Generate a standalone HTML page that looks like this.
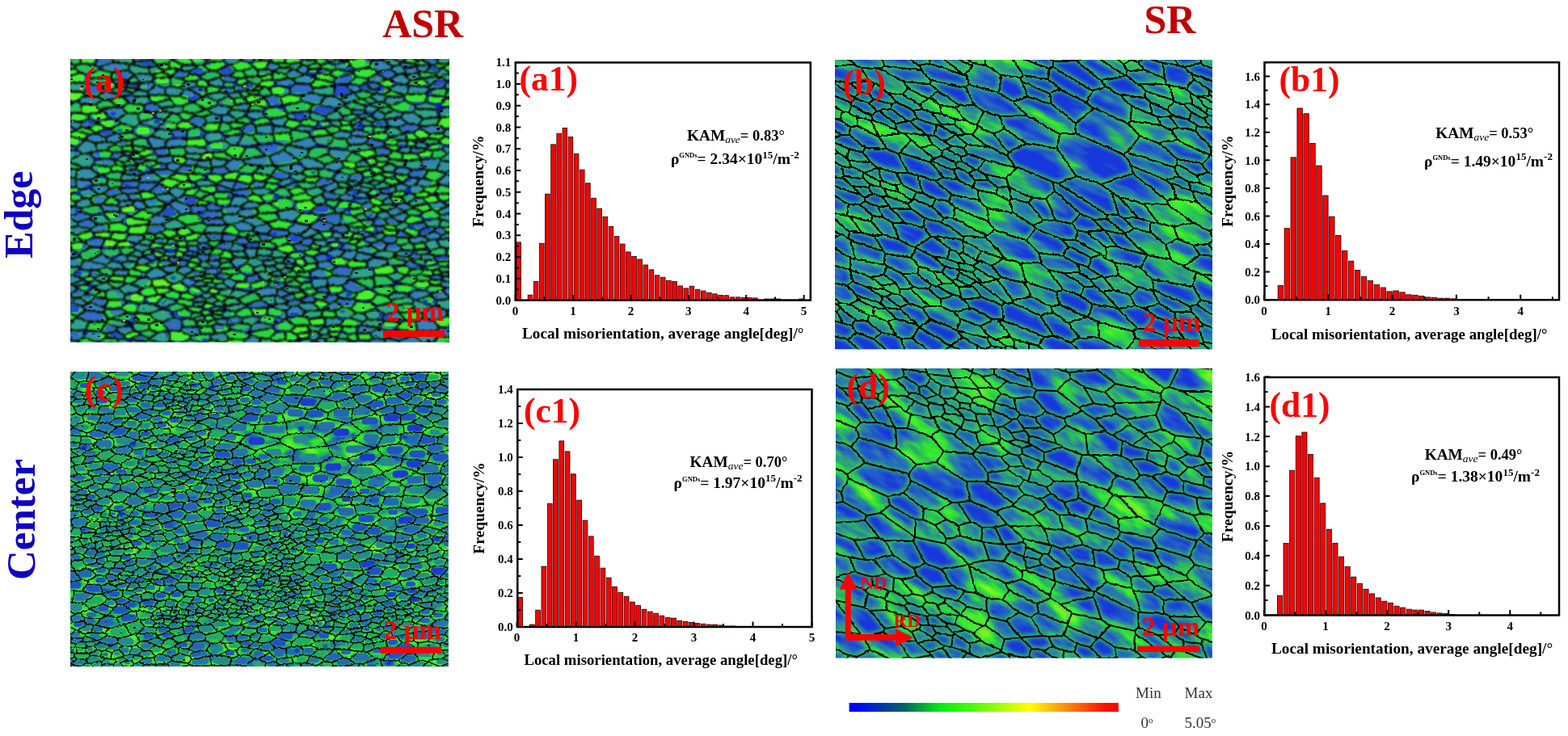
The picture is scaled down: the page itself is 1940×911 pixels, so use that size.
<!DOCTYPE html>
<html><head><meta charset="utf-8"><title>KAM maps</title>
<style>html,body{margin:0;padding:0;background:#fff;}body{width:1940px;height:911px;overflow:hidden;}svg{display:block;}</style>
</head><body>
<svg width="1940" height="911" viewBox="0 0 1940 911"><g fill="#ff0000" stroke="#1a0000" stroke-width="0.8"><rect x="638.9" y="299.86" width="5.64" height="71.74"/><rect x="653.18" y="365.18" width="5.64" height="6.42"/><rect x="660.32" y="348.31" width="5.64" height="23.29"/><rect x="667.46" y="301.19" width="5.64" height="70.41"/><rect x="674.6" y="240.16" width="5.64" height="131.44"/><rect x="681.74" y="178.86" width="5.64" height="192.74"/><rect x="688.88" y="165.2" width="5.64" height="206.4"/><rect x="696.02" y="158.51" width="5.64" height="213.09"/><rect x="703.16" y="169.49" width="5.64" height="202.11"/><rect x="710.3" y="190.37" width="5.64" height="181.23"/><rect x="717.44" y="210.18" width="5.64" height="161.42"/><rect x="724.58" y="226.77" width="5.64" height="144.83"/><rect x="731.72" y="245.25" width="5.64" height="126.35"/><rect x="738.86" y="258.1" width="5.64" height="113.5"/><rect x="746" y="268.27" width="5.64" height="103.33"/><rect x="753.14" y="280.31" width="5.64" height="91.29"/><rect x="760.28" y="292.63" width="5.64" height="78.97"/><rect x="767.42" y="302" width="5.64" height="69.6"/><rect x="774.56" y="311.9" width="5.64" height="59.7"/><rect x="781.7" y="317.52" width="5.64" height="54.08"/><rect x="788.84" y="321" width="5.64" height="50.6"/><rect x="795.98" y="327.96" width="5.64" height="43.64"/><rect x="803.12" y="333.85" width="5.64" height="37.75"/><rect x="810.26" y="340.81" width="5.64" height="30.79"/><rect x="817.4" y="343.22" width="5.64" height="28.38"/><rect x="824.54" y="347.24" width="5.64" height="24.36"/><rect x="831.68" y="348.31" width="5.64" height="23.29"/><rect x="838.82" y="353.93" width="5.64" height="17.67"/><rect x="845.96" y="356.88" width="5.64" height="14.72"/><rect x="853.1" y="354.2" width="5.64" height="17.4"/><rect x="860.24" y="358.22" width="5.64" height="13.38"/><rect x="867.38" y="360.09" width="5.64" height="11.51"/><rect x="874.52" y="362.23" width="5.64" height="9.37"/><rect x="881.66" y="363.84" width="5.64" height="7.76"/><rect x="888.8" y="365.44" width="5.64" height="6.16"/><rect x="895.94" y="365.71" width="5.64" height="5.89"/><rect x="903.08" y="367.85" width="5.64" height="3.75"/><rect x="910.22" y="367.85" width="5.64" height="3.75"/><rect x="917.36" y="368.39" width="5.64" height="3.21"/><rect x="924.5" y="368.39" width="5.64" height="3.21"/><rect x="931.64" y="368.92" width="5.64" height="2.68"/><rect x="938.78" y="371.06" width="5.64" height="0.54"/><rect x="945.92" y="369.99" width="5.64" height="1.61"/><rect x="953.06" y="369.99" width="5.64" height="1.61"/><rect x="960.2" y="369.99" width="5.64" height="1.61"/><rect x="967.34" y="371.06" width="5.64" height="0.54"/><rect x="974.48" y="371.06" width="5.64" height="0.54"/><rect x="981.62" y="371.06" width="5.64" height="0.54"/><rect x="988.76" y="369.99" width="5.64" height="1.61"/></g>
<path d="M637.8 371.6h6.5M637.8 358.22h4M637.8 344.83h6.5M637.8 331.45h4M637.8 318.06h6.5M637.8 304.68h4M637.8 291.29h6.5M637.8 277.91h4M637.8 264.52h6.5M637.8 251.14h4M637.8 237.75h6.5M637.8 224.37h4M637.8 210.98h6.5M637.8 197.6h4M637.8 184.21h6.5M637.8 170.83h4M637.8 157.44h6.5M637.8 144.06h4M637.8 130.67h6.5M637.8 117.29h4M637.8 103.9h6.5M637.8 90.52h4M637.8 77.13h6.5M637.6 371.6v-6.5M673.3 371.6v-4M709 371.6v-6.5M744.7 371.6v-4M780.4 371.6v-6.5M816.1 371.6v-4M851.8 371.6v-6.5M887.5 371.6v-4M923.2 371.6v-6.5M958.9 371.6v-4M994.6 371.6v-6.5" stroke="#000" stroke-width="2" fill="none"/>
<rect x="637.8" y="77.4" width="365" height="294.2" fill="none" stroke="#000" stroke-width="2.5"/>
<g font-family="'Liberation Serif','Times New Roman',serif" font-weight="bold" font-size="15" text-anchor="end"><text x="632.3" y="376.8">0.0</text><text x="632.3" y="350.03">0.1</text><text x="632.3" y="323.26">0.2</text><text x="632.3" y="296.49">0.3</text><text x="632.3" y="269.72">0.4</text><text x="632.3" y="242.95">0.5</text><text x="632.3" y="216.18">0.6</text><text x="632.3" y="189.41">0.7</text><text x="632.3" y="162.64">0.8</text><text x="632.3" y="135.87">0.9</text><text x="632.3" y="109.1">1.0</text><text x="632.3" y="82.33">1.1</text></g>
<g font-family="'Liberation Serif','Times New Roman',serif" font-weight="bold" font-size="15" text-anchor="middle"><text x="637.6" y="389.9">0</text><text x="709" y="389.9">1</text><text x="780.4" y="389.9">2</text><text x="851.8" y="389.9">3</text><text x="923.2" y="389.9">4</text><text x="994.6" y="389.9">5</text></g>
<text x="646" y="419.2" font-family="'Liberation Serif','Times New Roman',serif" font-weight="bold" font-size="19" textLength="348.5" lengthAdjust="spacingAndGlyphs">Local misorientation, average angle[deg]/°</text>
<text transform="translate(598 224.3) rotate(-90)" text-anchor="middle" font-family="'Liberation Serif','Times New Roman',serif" font-weight="bold" font-size="19.5">Frequency/%</text>
<text x="642.5" y="112" font-family="'Liberation Serif','Times New Roman',serif" font-weight="bold" font-size="43.5" fill="#ff0000">(a1)</text>
<text x="850" y="173.9" font-family="'Liberation Serif','Times New Roman',serif" font-weight="bold" font-size="19.3">KAM<tspan font-size="13.5" font-style="italic" font-weight="normal" dy="3.5">ave</tspan><tspan dy="-3.5" font-size="18.5">= 0.83°</tspan></text>
<text x="829.9" y="203.1" font-family="'Liberation Serif','Times New Roman',serif" font-weight="bold" font-size="19.5">ρ<tspan font-size="8.5" dy="-8">GNDs</tspan><tspan dy="8">= 2.34×10</tspan><tspan font-size="13" dy="-7.5">15</tspan><tspan dy="7.5">/m</tspan><tspan font-size="13" dy="-7.5">-2</tspan></text>
<g fill="#ff0000" stroke="#1a0000" stroke-width="0.8"><rect x="1581.16" y="353.39" width="6.43" height="17.81"/><rect x="1589.09" y="282.68" width="6.43" height="88.52"/><rect x="1597.02" y="194.84" width="6.43" height="176.36"/><rect x="1604.95" y="133.98" width="6.43" height="237.22"/><rect x="1612.88" y="140.72" width="6.43" height="230.48"/><rect x="1620.81" y="177.55" width="6.43" height="193.65"/><rect x="1628.74" y="205.04" width="6.43" height="166.16"/><rect x="1636.67" y="242.04" width="6.43" height="129.16"/><rect x="1644.6" y="268.15" width="6.43" height="103.05"/><rect x="1652.53" y="291.49" width="6.43" height="79.71"/><rect x="1660.46" y="310.34" width="6.43" height="60.86"/><rect x="1668.39" y="323.13" width="6.43" height="48.07"/><rect x="1676.32" y="334.37" width="6.43" height="36.83"/><rect x="1684.25" y="342.33" width="6.43" height="28.87"/><rect x="1692.18" y="347.51" width="6.43" height="23.69"/><rect x="1700.11" y="352.35" width="6.43" height="18.85"/><rect x="1708.04" y="355.98" width="6.43" height="15.22"/><rect x="1715.97" y="360.83" width="6.43" height="10.37"/><rect x="1723.9" y="359.96" width="6.43" height="11.24"/><rect x="1731.83" y="361.86" width="6.43" height="9.34"/><rect x="1739.76" y="364.8" width="6.43" height="6.4"/><rect x="1747.69" y="365.32" width="6.43" height="5.88"/><rect x="1755.62" y="366.36" width="6.43" height="4.84"/><rect x="1763.55" y="367.91" width="6.43" height="3.29"/><rect x="1771.48" y="368.26" width="6.43" height="2.94"/><rect x="1779.41" y="369.13" width="6.43" height="2.07"/><rect x="1787.34" y="369.13" width="6.43" height="2.07"/><rect x="1795.27" y="369.82" width="6.43" height="1.38"/><rect x="1803.2" y="370.68" width="6.43" height="0.52"/><rect x="1811.13" y="370.85" width="6.43" height="0.35"/></g>
<path d="M1564.5 371.2h6.5M1564.5 353.91h4M1564.5 336.62h6.5M1564.5 319.33h4M1564.5 302.04h6.5M1564.5 284.75h4M1564.5 267.46h6.5M1564.5 250.17h4M1564.5 232.88h6.5M1564.5 215.59h4M1564.5 198.3h6.5M1564.5 181.01h4M1564.5 163.72h6.5M1564.5 146.43h4M1564.5 129.14h6.5M1564.5 111.85h4M1564.5 94.56h6.5M1564.5 77.27h4M1564 371.2v-6.5M1603.65 371.2v-4M1643.3 371.2v-6.5M1682.95 371.2v-4M1722.6 371.2v-6.5M1762.25 371.2v-4M1801.9 371.2v-6.5M1841.55 371.2v-4M1881.2 371.2v-6.5M1920.85 371.2v-4" stroke="#000" stroke-width="2" fill="none"/>
<rect x="1564.5" y="77.2" width="364.5" height="294" fill="none" stroke="#000" stroke-width="2.5"/>
<g font-family="'Liberation Serif','Times New Roman',serif" font-weight="bold" font-size="15" text-anchor="end"><text x="1559" y="376.4">0.0</text><text x="1559" y="341.82">0.2</text><text x="1559" y="307.24">0.4</text><text x="1559" y="272.66">0.6</text><text x="1559" y="238.08">0.8</text><text x="1559" y="203.5">1.0</text><text x="1559" y="168.92">1.2</text><text x="1559" y="134.34">1.4</text><text x="1559" y="99.76">1.6</text></g>
<g font-family="'Liberation Serif','Times New Roman',serif" font-weight="bold" font-size="15" text-anchor="middle"><text x="1564" y="389.5">0</text><text x="1643.3" y="389.5">1</text><text x="1722.6" y="389.5">2</text><text x="1801.9" y="389.5">3</text><text x="1881.2" y="389.5">4</text></g>
<text x="1573" y="419.6" font-family="'Liberation Serif','Times New Roman',serif" font-weight="bold" font-size="19" textLength="341.5" lengthAdjust="spacingAndGlyphs">Local misorientation, average angle[deg]/°</text>
<text transform="translate(1524.5 224.2) rotate(-90)" text-anchor="middle" font-family="'Liberation Serif','Times New Roman',serif" font-weight="bold" font-size="19.5">Frequency/%</text>
<text x="1582.5" y="112.5" font-family="'Liberation Serif','Times New Roman',serif" font-weight="bold" font-size="43.5" fill="#ff0000">(b1)</text>
<text x="1776.3" y="170.5" font-family="'Liberation Serif','Times New Roman',serif" font-weight="bold" font-size="19.3">KAM<tspan font-size="13.5" font-style="italic" font-weight="normal" dy="3.5">ave</tspan><tspan dy="-3.5" font-size="18.5">= 0.53°</tspan></text>
<text x="1762" y="205.5" font-family="'Liberation Serif','Times New Roman',serif" font-weight="bold" font-size="19.5">ρ<tspan font-size="8.5" dy="-8">GNDs</tspan><tspan dy="8">= 1.49×10</tspan><tspan font-size="13" dy="-7.5">15</tspan><tspan dy="7.5">/m</tspan><tspan font-size="13" dy="-7.5">-2</tspan></text>
<g fill="#ff0000" stroke="#1a0000" stroke-width="0.8"><rect x="640.8" y="739.25" width="5.8" height="36.75"/><rect x="655.4" y="773.06" width="5.8" height="2.94"/><rect x="662.7" y="755.21" width="5.8" height="20.79"/><rect x="670" y="701.03" width="5.8" height="74.97"/><rect x="677.3" y="623.33" width="5.8" height="152.67"/><rect x="684.6" y="568.73" width="5.8" height="207.27"/><rect x="691.9" y="545.84" width="5.8" height="230.16"/><rect x="699.2" y="558.86" width="5.8" height="217.14"/><rect x="706.5" y="586.79" width="5.8" height="189.21"/><rect x="713.8" y="619.13" width="5.8" height="156.87"/><rect x="721.1" y="644.12" width="5.8" height="131.88"/><rect x="728.4" y="663.86" width="5.8" height="112.14"/><rect x="735.7" y="688.22" width="5.8" height="87.78"/><rect x="743" y="703.13" width="5.8" height="72.87"/><rect x="750.3" y="715.1" width="5.8" height="60.9"/><rect x="757.6" y="726.23" width="5.8" height="49.77"/><rect x="764.9" y="733.37" width="5.8" height="42.63"/><rect x="772.2" y="738.2" width="5.8" height="37.8"/><rect x="779.5" y="745.13" width="5.8" height="30.87"/><rect x="786.8" y="749.54" width="5.8" height="26.46"/><rect x="794.1" y="754.16" width="5.8" height="21.84"/><rect x="801.4" y="757.1" width="5.8" height="18.9"/><rect x="808.7" y="759.2" width="5.8" height="16.8"/><rect x="816" y="762.14" width="5.8" height="13.86"/><rect x="823.3" y="764.45" width="5.8" height="11.55"/><rect x="830.6" y="765.08" width="5.8" height="10.92"/><rect x="837.9" y="768.23" width="5.8" height="7.77"/><rect x="845.2" y="769.28" width="5.8" height="6.72"/><rect x="852.5" y="770.33" width="5.8" height="5.67"/><rect x="859.8" y="771.38" width="5.8" height="4.62"/><rect x="867.1" y="772.22" width="5.8" height="3.78"/><rect x="874.4" y="773.06" width="5.8" height="2.94"/><rect x="881.7" y="773.06" width="5.8" height="2.94"/><rect x="889" y="773.9" width="5.8" height="2.1"/><rect x="896.3" y="774.95" width="5.8" height="1.05"/><rect x="903.6" y="774.95" width="5.8" height="1.05"/><rect x="910.9" y="775.58" width="5.8" height="0.42"/></g>
<path d="M640.3 776h6.5M640.3 755h4M640.3 734h6.5M640.3 713h4M640.3 692h6.5M640.3 671h4M640.3 650h6.5M640.3 629h4M640.3 608h6.5M640.3 587h4M640.3 566h6.5M640.3 545h4M640.3 524h6.5M640.3 503h4M640.3 482h6.5M639.5 776v-6.5M676 776v-4M712.5 776v-6.5M749 776v-4M785.5 776v-6.5M822 776v-4M858.5 776v-6.5M895 776v-4M931.5 776v-6.5M968 776v-4M1004.5 776v-6.5" stroke="#000" stroke-width="2" fill="none"/>
<rect x="640.3" y="482" width="364.2" height="294" fill="none" stroke="#000" stroke-width="2.5"/>
<g font-family="'Liberation Serif','Times New Roman',serif" font-weight="bold" font-size="15" text-anchor="end"><text x="634.8" y="781.2">0.0</text><text x="634.8" y="739.2">0.2</text><text x="634.8" y="697.2">0.4</text><text x="634.8" y="655.2">0.6</text><text x="634.8" y="613.2">0.8</text><text x="634.8" y="571.2">1.0</text><text x="634.8" y="529.2">1.2</text><text x="634.8" y="487.2">1.4</text></g>
<g font-family="'Liberation Serif','Times New Roman',serif" font-weight="bold" font-size="15" text-anchor="middle"><text x="639.5" y="794.3">0</text><text x="712.5" y="794.3">1</text><text x="785.5" y="794.3">2</text><text x="858.5" y="794.3">3</text><text x="931.5" y="794.3">4</text><text x="1004.5" y="794.3">5</text></g>
<text x="648.4" y="822.8" font-family="'Liberation Serif','Times New Roman',serif" font-weight="bold" font-size="19" textLength="338.6" lengthAdjust="spacingAndGlyphs">Local misorientation, average angle[deg]/°</text>
<text transform="translate(599 629) rotate(-90)" text-anchor="middle" font-family="'Liberation Serif','Times New Roman',serif" font-weight="bold" font-size="19.5">Frequency/%</text>
<text x="648" y="523" font-family="'Liberation Serif','Times New Roman',serif" font-weight="bold" font-size="43.5" fill="#ff0000">(c1)</text>
<text x="853.6" y="577.6" font-family="'Liberation Serif','Times New Roman',serif" font-weight="bold" font-size="19.3">KAM<tspan font-size="13.5" font-style="italic" font-weight="normal" dy="3.5">ave</tspan><tspan dy="-3.5" font-size="18.5">= 0.70°</tspan></text>
<text x="833.6" y="603.9" font-family="'Liberation Serif','Times New Roman',serif" font-weight="bold" font-size="19.5">ρ<tspan font-size="8.5" dy="-8">GNDs</tspan><tspan dy="8">= 1.97×10</tspan><tspan font-size="13" dy="-7.5">15</tspan><tspan dy="7.5">/m</tspan><tspan font-size="13" dy="-7.5">-2</tspan></text>
<g fill="#ff0000" stroke="#1a0000" stroke-width="0.8"><rect x="1572.81" y="760.95" width="6.11" height="0.55"/><rect x="1580.42" y="737.17" width="6.11" height="24.33"/><rect x="1588.03" y="672.48" width="6.11" height="89.02"/><rect x="1595.64" y="582.18" width="6.11" height="179.32"/><rect x="1603.25" y="539.79" width="6.11" height="221.71"/><rect x="1610.86" y="535" width="6.11" height="226.5"/><rect x="1618.47" y="562.46" width="6.11" height="199.04"/><rect x="1626.08" y="591.39" width="6.11" height="170.11"/><rect x="1633.69" y="622.91" width="6.11" height="138.59"/><rect x="1641.3" y="655.16" width="6.11" height="106.34"/><rect x="1648.91" y="672.3" width="6.11" height="89.2"/><rect x="1656.52" y="689.07" width="6.11" height="72.43"/><rect x="1664.13" y="701.42" width="6.11" height="60.08"/><rect x="1671.74" y="714.13" width="6.11" height="47.37"/><rect x="1679.35" y="722.24" width="6.11" height="39.26"/><rect x="1686.96" y="729.25" width="6.11" height="32.25"/><rect x="1694.57" y="734.96" width="6.11" height="26.54"/><rect x="1702.18" y="739.94" width="6.11" height="21.56"/><rect x="1709.79" y="744.18" width="6.11" height="17.32"/><rect x="1717.4" y="746.2" width="6.11" height="15.3"/><rect x="1725.01" y="750.26" width="6.11" height="11.24"/><rect x="1732.62" y="752.1" width="6.11" height="9.4"/><rect x="1740.23" y="754.13" width="6.11" height="7.37"/><rect x="1747.84" y="755.05" width="6.11" height="6.45"/><rect x="1755.45" y="755.05" width="6.11" height="6.45"/><rect x="1763.06" y="756.52" width="6.11" height="4.98"/><rect x="1770.67" y="758" width="6.11" height="3.5"/><rect x="1778.28" y="758.92" width="6.11" height="2.58"/><rect x="1785.89" y="759.47" width="6.11" height="2.03"/><rect x="1793.5" y="760.58" width="6.11" height="0.92"/></g>
<path d="M1564.5 761.5h6.5M1564.5 743.07h4M1564.5 724.64h6.5M1564.5 706.21h4M1564.5 687.78h6.5M1564.5 669.35h4M1564.5 650.92h6.5M1564.5 632.49h4M1564.5 614.06h6.5M1564.5 595.63h4M1564.5 577.2h6.5M1564.5 558.77h4M1564.5 540.34h6.5M1564.5 521.91h4M1564.5 503.48h6.5M1564.5 485.05h4M1564.5 466.62h6.5M1563.9 761.5v-6.5M1601.95 761.5v-4M1640 761.5v-6.5M1678.05 761.5v-4M1716.1 761.5v-6.5M1754.15 761.5v-4M1792.2 761.5v-6.5M1830.25 761.5v-4M1868.3 761.5v-6.5M1906.35 761.5v-4" stroke="#000" stroke-width="2" fill="none"/>
<rect x="1564.5" y="467" width="364.5" height="294.5" fill="none" stroke="#000" stroke-width="2.5"/>
<g font-family="'Liberation Serif','Times New Roman',serif" font-weight="bold" font-size="15" text-anchor="end"><text x="1559" y="766.7">0.0</text><text x="1559" y="729.84">0.2</text><text x="1559" y="692.98">0.4</text><text x="1559" y="656.12">0.6</text><text x="1559" y="619.26">0.8</text><text x="1559" y="582.4">1.0</text><text x="1559" y="545.54">1.2</text><text x="1559" y="508.68">1.4</text><text x="1559" y="471.82">1.6</text></g>
<g font-family="'Liberation Serif','Times New Roman',serif" font-weight="bold" font-size="15" text-anchor="middle"><text x="1563.9" y="779.8">0</text><text x="1640" y="779.8">1</text><text x="1716.1" y="779.8">2</text><text x="1792.2" y="779.8">3</text><text x="1868.3" y="779.8">4</text></g>
<text x="1573" y="808.6" font-family="'Liberation Serif','Times New Roman',serif" font-weight="bold" font-size="19" textLength="348.2" lengthAdjust="spacingAndGlyphs">Local misorientation, average angle[deg]/°</text>
<text transform="translate(1525 614.5) rotate(-90)" text-anchor="middle" font-family="'Liberation Serif','Times New Roman',serif" font-weight="bold" font-size="19.5">Frequency/%</text>
<text x="1570.5" y="516" font-family="'Liberation Serif','Times New Roman',serif" font-weight="bold" font-size="43.5" fill="#ff0000">(d1)</text>
<text x="1762.7" y="568.8" font-family="'Liberation Serif','Times New Roman',serif" font-weight="bold" font-size="19.3">KAM<tspan font-size="13.5" font-style="italic" font-weight="normal" dy="3.5">ave</tspan><tspan dy="-3.5" font-size="18.5">= 0.49°</tspan></text>
<text x="1746" y="596.2" font-family="'Liberation Serif','Times New Roman',serif" font-weight="bold" font-size="19.5">ρ<tspan font-size="8.5" dy="-8">GNDs</tspan><tspan dy="8">= 1.38×10</tspan><tspan font-size="13" dy="-7.5">15</tspan><tspan dy="7.5">/m</tspan><tspan font-size="13" dy="-7.5">-2</tspan></text>
<defs><clipPath id="clipa"><rect x="87" y="73" width="469.0" height="350.5"/></clipPath><path id="ea" d="M84 85l8-1 6 5-14 5M84 77l9 3-1 4M107 92l16-7 15 4-1 7-26 0-4-4-9-3M138 89l20-3 1-7-18-3-19 6 1 3M93 80l7-2 17 2 5 2M120 70l-3 10M141 76l-5-6M187 73l2-3M187 73l-22 3-3-6M162 79l3-3M162 79l-3 0M182 83l-20-4M182 83l11-2 1-1-7-7M256 77l0-3 4-4M256 77l20-2 2-5M84 71l6-1M100 78l-2-8M208 77l2 7 12 2 4-6-14-7-4 4-14 3M202 87l-9-6M202 87l8-3M208 70l6 2-2 1M234 71l-3-1M234 71l4-1M214 72l6-2M240 80l-6-9M240 80l-14 0M256 74l-9-4M338 70l-7 5-8-1-2-4M182 83l4 9 16-3 0-2M551 424l8 0M551 424l2 2M297 70l2 4-15 6-8-5M323 74l-15 3-9-3M267 87l6 5 10 1 9-6-9-8-16 8-7 0-10-7 6-3M146 425l-2 1M146 425l-2 0-21-1-3 2 3 0M119 426l1 0M84 287l1 0-1 1M273 92l-2 3 5 5 15 2 3-6-11-3M558 405l1-2M558 405l-14 0-9-9 18-5 6 2M559 405l-1 0M559 417l-18-2-3-6 6-4M555 70l4 6-2 2 2-1-12 6 11 7 1-1M559 119l-6 1 6 4M284 80l-1-1M240 80l7 0 3 0M221 86l11 2 3 3-11 6-13-3 10-8 1 0M211 94l1 1-1-1-9-5M247 80l-15 8M246 93l-11-2M246 93l14-6M331 75l2 1 10 2 9-1 1-7M127 239l8-6-4-5-16 0-5 3 11 9 6-1 7 5-8 8-4 1-6 0-6-8 11-5M110 222l13-5 3-1 7 5-2 7M110 222l5 6M94 221l16 1M110 231l-9 3-8-3 1-10-2-1-8-1M84 257l6-2-6-1M249 190l7-3-2-5-24-2-4 1 4 8 19 1-3 8 13-1 5-2-1-7-7-1M94 185l7 5-17 8 2 2-2 1M84 185l10 0 1-3-11-4M146 425l6 1M122 423l8-6 17 2-3 6M122 423l1 1M553 391l-1-7 7-3M252 426l0-1 8-5 17 3 2 3M302 420l0 6M302 420l8-5 13 3-4 8M277 423l6-4 19 1M84 329l15 1 4-8-4-5-15 3M90 340l8-8 12 2 1 7-10 3-11-4-6 0M98 332l1-2M163 305l-16 1 2 8 8 2 1-1 10-6-5-4 5-4 1 0-14-4-8 1-8 9-15-1 0-1 6-11 5 1 12 3M111 283l-15-4-12 3M111 283l0 2-17 5-9-3M84 410l4-2-3-3-1 0M104 417l18 6M104 417l0-8 2-1 17 2 8 3-1 4M84 422l2-2 8 1 7 5M84 418l2 2M104 417l-10 4M88 408l16 1M109 349l-8-3-14 5 5 2 16-2 1-2 8-3 0-3-6-2M101 344l0 2M84 351l3 0M85 364l-1 2M96 357l-4-4M96 357l-11 7 6 4 6 0 9-5 10 2 9-5-10-5-9 6 0 2M140 356l-10 3-5 1M131 348l-4 1-12 6-7-4M131 348l9 8 6 1 9-7 6 1 12-8-15-3-3 1-3 8 3 1M117 367l14 2-1-10M117 367l-1-2M127 349l-10-3M96 357l10 4M158 86l8 6-8 6-22 0 1-2M107 102l-22 0-1 0M111 96l-4 6 3 1-7 11-18-2 0-10M137 100l-1-2M137 100l-11 7-16-4M271 95l-15 5-7-3-3-4M255 116l15-3 3-6 3 1-17-3-5 3 1 8-2 2-2 2-20-11 12-3-1-6-12 0-9 8 7 2 3-1M256 100l3 5M276 100l0 8M291 102l1 2-3 4-16-1M281 152l6 7-14 5-4-2 4-13 8 3 10-2 1-3-11-7 4-5 21 2 1 0-4 6-11 4M230 180l0-9 21-1 6 6-3 6M551 424l-9 2-5-3 4-8M555 230l4 2M555 230l4-3M522 244l-7 0-4-4 12-4 13 5-14 3 7 7-19 4 1 2 12 5 11-4-5-6 0-1M559 209l-10 4 2 2 8 2M370 70l4 3-2 3-14 3-6-2M374 73l15 1 4-4-1 0M393 70l1 0 7 2 5-2M531 110l-4 5-24 1 2-11 25 2 1 3 17-2 5-8 5 0 1 0M549 119l-21-2-2 9 16 4 10-9-3-2 5-9 4-1 1-1M526 126l-13 3 0 5 28 1 5-2-4-3M522 96l9 9 14-9-4-1 0-1-19 2-1 1-14 2-5 5-11 0-10-7-3 1-11 4 6 4 6 2 12-4M558 90l1 0-18 5M548 108l6 2M559 98l-1 2M559 109l-1 0M545 96l8 4M530 107l1-2M552 121l1-1M528 117l-1-2M559 155l-3 4 3 0M546 133l13-2M544 145l0-1-3-9M544 145l15-2M328 85l10 2 7-4-2-5M333 76l-5 9-11 1 3 8-2 0-15 1 1 1-4-9 13-5 4 4M358 79l1 4-14 0M292 104l6 2 9-5-4-6M294 96l10 0M292 87l8 0M308 77l5 5M145 254l-19-2M134 244l3-1 11 6-3 5 3 2 0 6-20-1-6-8M146 230l5 9-14 4M146 230l-11 3M99 257l17-4M93 256l6 1 2 5 12 4-2 4-16 4-11-6M110 245l-6 0-11 4 0 7-3-1M101 234l-6 4 9 7M93 231l-7 0-2 0M273 164l6 4-2 5-20 3M251 170l4-7 14-1M263 188l13-1 9-8-8-6M84 208l12 1 7-2-17-7M92 220l4-11M117 196l-3 7-3 4-8 0M117 196l-7-7-9 1M123 217l-12-10M84 163l3 0-3 3M95 182l9-9-20-6M117 176l3 10-10 3M117 176l-12-4-1 1M163 173l10-4 8 1 6 13-24-4 0-6-13 0-8 3-1 2 8 3 13-2 1 0M117 176l14-1 11 1M120 186l11-1 10-7M126 216l12-4-3-6-21-3M159 420l-5-2-7 1M159 420l3 0-3 6M123 410l8-11 0-2-22 1-3 10M390 226l6-7-3-1-14 0-5 6 16 2 0 5 6 0 19-7-5-3-14-2M372 214l7 4M378 208l-6 6-13 1-18-7 3-3 25-4 9 7 16 1-1 9M147 306l-8 1M537 423l-15 1-4 2M365 403l14-1 4 8-17 3-8-3 7-7-13-9 0 1-14 7-18-4-10 4-2 8 30-5 0-3M404 353l-16 4-5-9 3-5 18 1 1 9-1 0 3 9 0 2 7 0 13-5-4-6-18 0M408 335l3 5 20 2 6-10-9-3-12 0-8 6-15-4-10 4 1 8 2 0M411 340l-7 4M431 342l1 3 1 0-10 8M252 425l-18-6-14 6 2 1M340 424l1-2 11-2 10 3-6 3M340 424l11 2M338 426l2-2M333 419l8 3M333 419l-10-1M342 409l11 1-1 10M333 419l9-10-4-4M289 357l-2 0 6-9 9 0 7 2 1 10-21-3-7 11 1-1 11 2 20-9-1-1-3 1M88 309l8 5 16-9-9-6-2 0-15 1 2 9-4 1M99 317l-3-3M84 299l2 1M124 305l-12 0M116 293l-13 6M130 294l-14-1-1-6-4-2M94 290l7 9M157 316l0 6 11 2 5-6-15-3M140 333l-1 7-4 2-9-3-6-6 11-3 9 3 15 0-6-8 8-3M110 334l10-1M117 343l9-4M133 347l2-5M133 347l-2 1M139 322l-2-2-12-6-17 8 22 5 9-5 10 3M149 314l-12 6M131 330l-1-3M103 322l5 0M124 306l1 8M101 262l-17 5M127 263l1-2M127 263l-14 3M96 279l-1-5M120 277l-9 6M120 277l-9-7M177 316l0 1 10 5 8-2 0-1-7-6-11 3-2-4-7-3M173 318l4-1M169 327l-1-3M178 327l-9 0-6 5-4 1-4 0M178 327l9-5M117 367l-8 8-12-7M131 369l3 1-6 10-18-7-1 2M85 405l5-9-6 0M109 398l-15-6-4 4M137 100l5 3 2 4-11 6-4-1-3-5M212 95l-22 1-3-5-1 1M166 92l-2-1 23 0M164 91l10 11 14-2 2-4M211 94l-1 12-6 2-12-3-4-5M254 108l-11-2M249 97l-7 3M210 106l11 2M224 97l6 3M221 118l7-8M221 118l18 7 12-5M289 108l1 5-7 2-13-2M283 115l-1 3-14 7-15-7M268 125l2 4-15 5-2 1-15-10 1 0M129 112l-9 7-15-1-2-4M135 123l14-4-5-4-11-2M135 123l-8 0-7-4M85 112l-1 0M95 124l10-6M95 124l-5 3-6-4M166 157l-17-5-13 7 6 5 5 1 15-2 4-6 6-5 0-1-2-11-14-1-11 8 4 5M150 173l-3-8M173 169l-11-6M130 169l1 6M130 169l12-5M145 132l-10-9M145 132l5 0 10-6-11-7 11-2 7 2-3 9-4-2M558 294l1 1M558 294l1-2M559 279l-11 2 4 7 6-1 1-1M559 288l-1-1M496 226l-9 3 3 7 14 1 2-7-10-4 12-7 10 1-4 8-8 2M559 236l-3 3 3 3M543 228l12 2M543 228l-7 12 2 0 18-1M559 244l-11 6 6 4 3-1 2-1M538 240l6 8 4 2M551 215l-11 9 3 4-19 3-1 5M536 240l0 1M506 238l5 2M504 237l2 1-10 5 5 7-13 3-7-10 2 0 13 0M524 231l-10-3M546 70l-6 2 0 6 17 0M540 78l-8 2 13 4 2-1M541 94l-2-3 6-7M431 74l-3-4M431 74l17-4 11 4 9 0 2-4M372 76l0 4-6 6-6-1-1-2M372 80l7 1 12-4-2-3M378 91l4-6-3-4M376 92l2-1 8 2 7-3 15 2 7 4-4 5-21-4-4-4M366 86l10 6-15 5 5 6-9 5 2 8 12 2 13-4 3-5-4-5-17-1M393 84l-11 1M393 84l4 0-1-4-5-3M544 144l-21 2-13-8 3-4M373 125l14 4 7 0 9-11-19-4M373 125l-2-7M414 105l-27 4M414 105l-2 13-9 0M502 104l3 1M503 116l-3 1-17-6-4-3M500 124l13 5M500 124l-2-5 2-2M544 145l-4 9 11 5 5 0M523 146l-6 8 2 2 21-2M388 196l14 7 15-5-12-8-17 6-9-2 3-10 11-4 11 1 3 2-2 7M270 129l15 3 6-3-3-7-6-4M355 143l0-3 27-3 2 1-2 8-11 3-15-3-1-3-22 4-5-3-15 4-10-5M307 101l12 3 6-5-7-5M290 113l5-1 4 7-11 3M338 98l3 1 15-3-3-5-15-3-2 3 2 7-13 1M328 107l4 2 8-4 1-6M318 106l1-2M318 106l10 1-9 4-9 1 8-6M320 94l16-3M357 108l-17-3M361 97l-5-1M338 87l0 1M360 85l-7 6M93 249l-7-2-2 0M95 238l-9 1 0 8M86 231l-2 1M86 239l-2 0M261 206l15-1 7-7-19-3M259 197l2 9 1 2-20-3 3-8 1 1M276 187l14 9-7 2M304 181l-12-2-7 0M304 181l-9 16-5-1M304 181l10-1 14 12-29 5-4 0M92 160l0 1 17 5 7-1 1-1-8-6-10-1-7 3-8-7M87 163l5-2M101 150l-17 0M101 150l-2 7M105 172l4-6M132 159l-15 5M132 159l-12-7-11 6M130 169l-14-4M132 159l4 0M162 420l16 2 0 4M154 418l-1-4-10-5-12 4M131 399l14 6-2 4M251 288l23 0 1 0-2 9-13 0-9-9-10 9 6 3 8 0 5-3M288 317l-3-6 16-1 6 9-19-2 0 3-4 3 7 8 3 0 3 6 9 3 8 0-1-10-8-5-11 6M278 309l5 1 5-10-2-1-10-1-13 8 1 0 14 3-6 6 0 4 16 1M276 298l-3-1M263 306l-8-6M257 278l23 0 2-1-8 11M257 278l-6 10-10-1-12-7 0-2-13-8-2 0-21-5-2 0-16-6 7-3 24-2-13 11M298 258l-5 6 10 5 11-2 6-3-3-7-19 1-1-3 10-7 17 3-7 6M330 275l15-4-3-9-22 2M330 275l-16-8M286 277l-4 0M286 277l14-4 3-4M274 269l2-4 17-1M274 269l6 9M315 280l16-4-1-1M315 280l-15-7M134 286l0-10 3-1 12-1 10 6-3 7-17 0-5-1-19 1M120 277l14-1M135 295l4-8M155 297l3-8-2-2M159 266l-11-4M127 263l10 12M159 266l-10 8M453 421l5 5M453 421l9-3 14 1-2 6-10 1M443 420l-2-8 15 0 6 6M453 421l-10-1-6 2 4 4M552 384l-14-7-16 10 1 7 12 2M432 393l8-7-7-4-9-2-11 4 4 8 6 3 9-2 15 5-1 4-4 2-19-1-2-1-18 1-1 0-1 0 1-10-5-1-15 2 1 8 18 1M407 362l-14-1-6-6 1 2M459 244l0-1-3 6-9 3-11-4 2-3 21-1 13-6-4-4-5-1-3 0-7 6 6 5M461 343l-29 2M464 340l-3 3 3 11 22-1 2-3 21 2 6-5 14 0 4-1-1-4-12-3-6 2 1 6M464 340l-4-8-6-2-17 2M436 321l17 2 1 7M436 321l-5 0-3 8M532 363l-7-4 7-7 12 1 7 3-4 3-15 4-1 2 10 6 16-3-10-9M557 368l2 0M551 356l7-1 1 1M453 323l9-5-1-3-19-4-6 10M520 315l0 5-12 2 0-1-3-4 5-5 10 3 10-2 3-4 12-3 8 1-2 8-14 1-7-3M431 321l-11-4 6-7 14-1 2 2M220 425l-11-3-8 2-2 2M178 422l6-2 17 4M307 319l-2 6M307 319l7-1 11 4-1 5-11 3M293 348l-10-4 2-4 12-3M302 348l4-8M366 342l-14 0 0 8 2 0 10-4 2-4 1-1 17 2M383 348l-10 2-9-4M369 355l-16-2-6 4 13 6 12-3 0-1-3-4 4-5M354 350l-1 3M387 355l-15 4M380 365l-8-5M380 365l5 0 8-4M331 354l2-7 19 3M331 354l12 3 4 0M338 341l-6-3-4-3-12 2 9 9 5 2 8-7 12 0 0-1-5-7-13 5M333 347l-3 1M350 341l2 1M309 350l16-4M313 359l18-5M314 340l2-3M327 329l1 6M324 327l3 2 11-1 7 6 0-1M90 375l12 3 3 6-10 7-11-5M90 375l-6 1M91 368l-1 7M110 373l-8 5M94 392l1-1M130 382l-2-2M127 386l-22-2M130 382l-3 4 7 9-3 2M195 320l1 2 11-1 3-4-7-1-8 3M178 327l11 4 6-1-1 1 2-9M170 140l7-3 1-8-14-1M156 139l-6-7M209 118l-6-1-20 0 0 1 4 8 3 1 19-5 0-4 12 0M204 108l-1 9M226 130l12-5M226 130l-9 1-8-9M217 131l-17 2-10-6M192 105l-10 8 1 4M178 129l9-3M167 119l16-1M177 137l12 2 3 6-20 6M200 133l0 4-11 2M226 181l-18 1-5 0 3-9 9-3 15 1 2-11 12-4 2 2 9 5M95 124l5 4 18 1 9-6M90 127l-6 3M84 148l4-9-4-1M100 128l0 11-12 0M511 309l16-1 6 1M510 312l1-2 0-1 1-8 13-2 2 9M559 305l-6 2M559 319l-8-4M503 251l-2-1M515 244l-12 7 7 4M490 236l-8 4 1 3M557 253l2 2M554 254l-15 7 6 4 14-1M528 280l9 0 5 0 3-9-4-1-16 2-2 2 5 6-11 5 2 6-8 2-14-8 8-5 12 5M559 275l-14-4M545 265l-4 5M548 281l-6-1M518 266l7 6M518 266l5-4M539 261l-5-3M544 248l-15 4M472 225l-8 4-10-3 9-4 9 3 2-1 11 6 2-1M485 230l-17 4M482 240l-10-2M464 229l-1 4M473 248l-14-5M473 248l8-5M436 242l10-6 7 3M438 245l-2-3-9-3 3-8-12 1-1-7-2-1M540 72l-5-2M470 73l-2 1M470 73l13-2 2-1M533 80l-7 8-9 1-3-9 19 0-1-1 0 1M539 91l-13-3M517 89l4 8M468 88l-2 2 12 8M468 88l15-3 8 7-10 5M507 99l-9-9-7 2M517 89l-15 3-4-2M456 83l12 5M459 74l-3 9-18 3-4 2 2 2 4 4 14 3 12-7M470 73l16 8-3 4M510 138l-11 1-12-3-6-5 1-1 18-6M467 102l-11-1-2-4M440 94l-9 9-5 1-11 0-4-3M436 90l-21 6M415 85l19 3M410 87l5-2-1-6 15-4-2-1-12 0-9 2-1 1 9 2M410 87l-2 5M414 105l1-1M383 104l7-7M410 87l-13-3M393 84l0 6M384 138l18 5 2 6-10 1-12-4M412 118l8 4 16-8-10-10M528 171l15 1 7-3-3-5-16 1-3 6-2 0-3 4 7 4 13-3 0-4M551 159l-4 5M519 158l12 7M519 156l0 2-9 5 8 9-9 1-6 0 0 1-2-11 9 0M559 170l-9-1M394 209l6-1 15 4 3 0-8 9M465 192l14 0 2 4-1 4-11 0-9-7 5-1-2-8 1-1 9-2 13 5-7 6M540 224l-17-4-5 0M519 197l5 11 5 2 10 0 6-12-1-2-11-1-13 2-1 0-17 2-5-1 1-9 8 0 10 0 4 8M516 189l12-4 7 1-2 9M549 213l-10-3M523 220l6-10M559 200l-14-2M497 198l-16-2M498 189l-8-2-4-1M273 143l8-3M273 143l-11-3-7-6M285 132l0 3M273 151l0-2M273 143l0 8-18 1-9 6M328 144l-4-7-17 0M310 128l20 5-6 4M310 128l-4 9M298 106l9 4 3 2M295 112l11 0 1-2M355 140l-7-9-14 1-4 1M359 116l-13 3-9-2-5-8M373 125l-24 5-3-11M387 129l-5 8M349 130l-1 1M170 231l2-6-1-3-19 1-3 9 21-1 2 5 11 0 10 5-1 3-16 3-4-9 0-2M146 230l3 2M133 221l15 2 4 0M201 222l7-3 16 6-8 6-7 2-13-6-1-2 6-3-14-12 19-2-1-6 8-2 14 3-2 1-9 8-10-4M231 215l3 10-10 0M217 213l14 2 7-1 16 2 1 4-16 5-5 0M208 219l9-6-1-1M159 266l0 2 14-8-10-7-15 3M191 265l-9 7-23-4M175 259l-2 1M182 256l-6-8-9-1-4 6M148 249l11-2-1-7-7-1M159 247l8 0M345 271l18 3 2 1-10 9-19-2-5-6M363 274l9-11-10-6-16 3-4 2M383 278l-18-3M383 278l11-7 2-5-14-3-10 0M304 243l3 5M313 239l8 3 7 9-4 0M313 239l-9 4-16-3-1 5-4 9 14 1M346 260l-14-9-4 0M338 204l-6-11-4-1M338 204l-16 1-19-3-4-5M369 201l0-4-19-12-18 8M344 205l-6-1M400 208l2-5M379 194l-10 3M356 146l-6 10-12-1-2-3-3-5M361 175l-3-12-21 2 2 11 15 4 1-1 6-4 23-6 1 0 8 11M382 184l-27-5M350 185l4-5M320 179l19-3M314 180l6-1-9-12 5-3 0-9-6-3-3 1-12 5 6 7 10 2M371 154l-9 6-1 0 20 3 10-4-1-2-19-3 0-5M350 156l12 4M394 150l-4 7M358 163l3-3M384 169l-3-6M336 166l2-11M336 166l1-1M313 148l-3 4M336 152l-20 3M336 166l-20-2M279 168l22-3-9 14M287 159l8-1M291 150l16 3M181 170l6-2 19 5M187 183l-2 0 4 0 14-1M230 189l-4 4 5 3 14 1M208 182l1 10 5 1 12 0M117 196l18 0 5 1 3 6-8 3M131 185l8 3-4 8M153 206l1 5-2 1-14 0M143 203l10 3 1-1-1-4-11-4-2 0M171 222l1-5-21-3-3 9M151 214l1-2M189 331l-9 6-17-5M180 337l0 5-7 1M159 333l-1 7M133 347l19 2M139 340l16 1M184 420l0-2-11-4-14 6M209 422l0-14-1 1-14 2-10 7M183 400l1 7-12 3-6-1-5-7 2-3 3-1 17 2 10-3 7 1 8 11M194 411l-10-4M145 405l16-3M153 414l13-5M134 395l1-1 28 5M173 414l-1-4M166 398l1-10 1-1 16 1 9 9M135 394l22-7 10 1M130 382l19-1 8 6M402 236l-6 4 7 6 13 1 5-6-15-4-4-1-6-5M418 232l-12 5M427 239l-6 2M275 288l18 3 3-5-10-9M315 280l-4 5-15 1M286 299l8-6-1-2M311 285l7 3 12 1 6-7M303 293l-9 0M303 293l15-3 0-2M305 306l-5-3 9-4 12 0-3 8-13-1-4 4M288 300l12 3M285 311l-2-1M316 316l-2 2M318 306l-2 10 18 0 4-8-20-2 0 1M303 293l6 6M318 290l5 8-2 1M206 254l0-1 2-1 15 13-7 5M257 278l-8-3 1-5 24-1M272 260l4 5M272 260l3-4 8-2M272 260l-16 0-13 4 7 6M275 256l-9-4-6-2-7 4 3 6M229 278l20-3M223 265l13-2 7 1M208 252l7-5 20 7 1 9M253 254l-11-1-7 1M242 205l-1-1-3 10M262 208l-3 6-5 2M158 289l19 1 0 5-8 6M538 409l-23 0 0 2-3 4 10 9M523 394l-9 3 1 12M474 425l2 1M493 421l-13-3-4 1M493 421l1 5M512 415l-19 6M373 426l1 0 5 0 5-2 2-3 1 0 12 4-3 1M362 423l5-2 7 5M358 410l-5 0M366 413l4 7-3 1M383 410l1-1-3 9-11 2M395 383l2 0 11-8-11-4-6 0-5 3 9 9-17 2-10-8-8 2-7 6 2 7 18-2 5-5M414 372l10 8M398 383l15 1M414 372l-6 3M398 383l-1 0M420 368l-6 4M407 364l-10 7M420 368l-6-4M385 365l6 6M417 392l-15 1M423 395l-2 7M392 411l10-8M384 409l8 2 3 3 10-1 2-3-4-7M379 402l4 0M398 383l-1 9M437 422l-3-1-9 5M298 375l5 2 19-7-1-3-7-7M298 375l-4-6M343 357l-2 8-20 2M348 368l-8-3 1 0M361 361l-13 7 8 4 9-2-4-9-1 2M386 374l-12 0-3-4 9-5M371 370l-6 0M538 377l-1 2 4-8M427 359l14 3-3 8-18-2M433 382l8-10-3-2M433 345l21 11-13 6M407 410l15 0 1-7M456 412l13-7-23-3M442 404l-1 8-10 1-3 6 6 2M416 329l-10-7 4-3 10-2M437 267l-15-4-2 15 8 0 17-5-8-6 12-4 2-3-4-3 0-5M415 263l-3-5 10-11 13 2-5 9-9 5-6 0-19 3M401 252l-9 1-10 10M401 252l11 6M414 278l-20-7M414 278l6 0M422 263l-1 0M401 252l2-6M416 247l6 0M447 257l-17 1M436 248l-1 1M473 248l0 4 17 1-2 0M523 274l-17 3-8-3 8-8 12 0M487 316l18 1M487 316l-2 2 17 5 6-2M460 332l19-5 0-7-17-2M362 334l4 3 12-1-7-6-3-3-9 5 3 2-12 6M367 341l-1-4M351 331l8 1M351 331l-6 3M383 335l-5 1M330 289l9 4-6 5-10 0M325 322l13-1 4 4-4 3M523 333l-3 6M523 333l12 1 0 5-3 3M516 358l-7-6M532 352l-3-5M516 358l9 1M488 350l1-1 14-9 11 1M537 316l-1 5-9 1-7-2M508 322l15 8 4-8M444 272l9 9 7-3 4-10-1 2-6 1-13 1 1 1M449 263l8 8M424 301l5-1 9 2 4 4-2 3M426 310l-4-2 2-7-7-3-12 3-1 2 7 4 11 1M461 315l8-5-10-7-17 3M429 300l6-5 12 0-9 7M459 291l11 6-12 3-8-3 1-4 8-2 3-2-13-4-8 3 10 5M458 300l1 3M450 297l-3-2M287 357l-3-1-9-6 2-5 6-1M274 325l10-2M291 331l-18 1-5-1 6-6-5-3 3-3M285 340l-13-3 1-5M310 415l-2-3 0-2M160 117l2-2 9-5 11 3M144 115l11-4 7 4M144 107l11 0 0 4M262 140l-10 4 3 8M200 137l13 2-11 9-10-3M204 149l14 3 1 7-9 2-16-2-1 0 11-10-2-1M172 152l21 7M187 168l7-9M215 170l-5-9M232 160l-13-1M125 134l0 4-18 3 4 6 8 3 17-4-11-12 20-2M118 129l7 9M145 147l-9-1M100 139l7 2M120 152l-1-2M101 150l10-3M537 280l-1 5 9 6 7-3M558 294l-15 2 2-5M545 306l-6-10 4 0M447 230l-3 5-14-1 3-4 12-2 2 2 13 3M446 236l-2-1M447 224l7 2M447 224l-2 4M430 231l0 3M417 225l10 0 6 5M517 75l-10-5M517 75l4-2 2-1-2-2M532 79l-11-6M532 70l-9 2M502 71l-1-1M502 71l2-1M494 79l5 5 13-2 0-4-15-2-1 0-2 3-8 2M502 92l-3-8M483 71l13 5M502 71l-5 5M517 75l-5 3M514 80l-2 2M438 86l-9-11M396 80l9-3M414 70l1 4M401 72l5 4M431 74l-4 0M476 140l-1 7-9 1-7-5 0-2 5-5 12 4 11-4M481 131l-12 2-5 3M503 152l-8-8-19 3 4 10 1-1 11 1 11-5 14 2M499 139l-4 5M475 147l1 0M462 156l-2-1 1-4 5-3M462 156l18 1M452 102l-9 4 5 5 3 1 7-3-6-7 4-1M431 103l12 3M464 110l-6-1M473 106l-9 4 3 5-7 1-3 3 10 6 7 1 4-7-5-2-6-2M436 114l2 0 10-3M460 155l-11 1-5-5 4-4 13 4M459 143l-14 3 3 1M456 129l13 4M456 129l-4 1-2 6 2 3 7 2M457 128l-9-6-3 0-10 3 17 5M456 129l1-1 10-3M445 122l-7-8M420 122l7 6 8-3M404 149l1-1 6 7-12 3-8 1M490 187l6-5-6-3-14 0-3 2M553 190l5-2 1 0-1 0M553 190l-7-6 4-4 8 0 1 0M544 196l9-6M535 186l11-2M543 176l7 4M527 183l3-4M528 185l-1-2-15-1 2-6 9-1M559 178l-1 2M418 212l14 4-1 7-4 2M447 224l-3 1-13-2M459 218l-9 2-6 5M459 218l4 4M415 212l10-6-4-7-4-1M469 200l-10 4 12 4 10-7-1-1M464 183l-12-6 3-7 19 4 2 5M446 160l3-4M462 156l-1 9-3 1-12-6-8 0-5-6 3 0 8-3M481 156l-5 7-15 2M419 148l-14 0M419 148l3 7-4 1-7-1M321 117l-13 0-6 4 4 6 2 0 19-6-1-2-5-2-2-6M306 112l2 5M337 117l-11 2M334 132l-7-11M310 128l-2-1M299 119l3 2M291 129l15-2M208 238l-15 3M208 238l11 7-4 2M206 253l-14-9M209 233l-1 5M196 227l-13 9M176 248l0-1M158 240l14-2M195 225l-23 0M362 257l3-8 19-2 8 6M396 240l-8 3-4 4M325 231l-15 2 3 6M325 231l13 5-2 2-15 4M332 251l14-7-10-6M365 249l-9-5-10 0M241 204l-16 0M214 193l-1 7M231 196l-4 7M189 183l2 6 5 4 13-1M195 201l10 1M195 201l-3-3 4-5M152 187l-3 1 4 3 6 1 9-5 0 1-3-1-13 0-3-6M139 188l10 0M162 179l3 8M142 197l11-6M185 183l-17 5M153 201l8-5-2-4M191 189l-15 5-8-7M187 210l1 3-3-6 10-6M172 217l6-3 10-1M154 211l13-2 11 5M237 386l-3 9 17-5-4-4-10 0-7-5-18 5-11-5 16-7 14 5-1 2M184 388l17-7-10-4-14-3-5 1-4 12M200 398l14-5-2-7M214 393l9 1 9-1 2 2M149 381l8-9 15 3M134 370l18 0 2-6-8-7M152 370l5 2M243 312l2 1 13 2 6-9-18 3-3 3-11-2-5 2 0 3-3 4-9-1 3-9 9 3M243 303l4-3M243 303l3 6M272 315l-14 0-1 7 12 0M242 317l3-4M242 317l-15-2M266 252l1-6 20-1M260 250l-14-4 0-1-4 8M267 246l-6-7-15 7M268 237l18 0 2 3M268 237l-7 3 0-1M232 310l-2-5-10 0 0-1-4 6 2-1M243 303l-13 1 0 1M241 297l-10 1-1 6M168 301l15 3 6-4 0-3-12-2M175 312l11-5-3-3M159 280l24-3-3 11-3 2M182 272l4 6-3-1M214 270l-14 7-14 1M229 280l-11 4-13-1-5-6M189 297l3-3-2-5-10-1M205 283l-7 4-8 2M384 424l6 2M381 418l5 3M395 414l1 3-9 4M399 425l3-1 2 2M421 426l-2 0-1 0M422 410l1 0 8 3M309 381l22-1-1 9-10 3-7-2-4-9-4-2-14 6 0 6-12 2 3 9-14-2-6 3 4 9 12-1 7-4-3-5 17-3 1-6-9-2M320 392l0 6M330 389l22 6M501 396l-9-11 1 2 21-2 8 2M514 397l-13-1-6 2-20-2-6 10 14 3 5-2 7-9M449 387l15-6 11 8-3 6-17 0-6-8-9-1M447 398l8-3M477 340l12 9M464 340l13 0 13-4 12 4 7-8-9-4-14 1 4 7M454 356l5 2 5-4M393 331l-2-6-12 1-8 4M406 322l-13 2-2 1M511 257l-11 4-11-5 1-3M506 266l-6-4 0-1M454 259l13 4 9-3 0 1-9-6-2-1-11 5-3 1M463 270l4-7M456 249l9 5M473 252l-6 3M489 256l-13 5M484 267l16-5M484 267l-8-7M488 279l8-4-12-7-9 3 4 6 9 2 2 6-13-2-6 3-4 2-3-9 11 0 2 4M498 274l-2 1M484 267l0 1M464 268l11 3M539 296l-8 0-6 3M536 285l-13 7 8 4M521 332l-12 0M521 332l2-2 18-4 0-3 16-1 0 3-5 4-7 1-4-4M502 323l-2 5M521 332l2 1M503 340l-1 0M485 318l-6 2M479 327l7 2M339 293l15-1 2 9-13 4-10-7M355 284l3 4 12 2 13-9 0-3M358 288l-4 4M351 331l2-5 12 0 3 1M342 325l7 0 4 1M533 346l12-1 1 2-2 6M558 355l1-4M546 347l13 2M536 321l5 2M559 320l-2 2M559 325l-2 0M559 332l-7-3M541 333l-6 1M541 333l4-3M475 309l3-8 10-1 6 3 2 6-7 3-14-3-6 1M470 297l8 4M487 316l2-4M511 310l-15-1M512 301l-6-1-12 3M428 278l0 2 21 1 4 0M277 345l-10-1 0-4 5-3M263 331l-8 1-10-4 1-2 3-3 6 0 8 8 5 0M252 337l3-5M252 337l2 1 13 2M257 322l-2 1M237 332l2 2 13 3M237 332l8-4M242 316l0 1M242 316l7 7M195 330l13 8-8 5-13 2-7-3M236 379l4-5 13-2 1 2-5 5-13 0-5 0M247 386l5-4-3-3M283 367l-8 6 5 5 18-3M172 103l-3 6-13-2 0-5 2 0 14 1 2-1M171 110l-2-1M158 98l0 4M155 107l1 0M142 103l14-1M226 138l-7 2 7 9 4 0 10-6-1-3-13-2 0-8M213 139l6 1M253 135l-14 5M218 152l8-3M252 144l-12-1M244 156l-14-7M448 122l9-3M451 112l9 4M483 111l-10 6M498 119l-20 0M482 130l-8-4M452 139l-10 3 1 3 2 1M436 154l-4-4 11-5M419 148l4-1 9 3M433 154l-11 1M474 174l9-4 9 3-2 6M454 169l1 1M454 169l4-3M476 163l7 6 0 1M492 157l7 8-16 4M496 182l7-1 6 0-3 8M509 181l3 1M425 206l12 3 5 4-10 3M450 220l-6-8-2 1M465 216l-6 2M465 216l-8-6-13 2M429 185l6 3-9 10-5 1M407 183l22 2 2-6 21-2M463 184l-29 3 1 1M460 193l-7 3-19-9M524 208l-14 2-7 6 5 3M502 199l-3 7 11 4M481 201l10 5 8 0M470 213l6-1 10 1 4 2-3 4-11 0-6-6-5 3M457 210l1-5 1-1M471 208l5 4M474 224l2-5M491 206l-5 7M496 226l-9-7M503 216l-13-1M420 161l12 2 2 4-6 5-15-2-5-4 2 0 10-5-2-5M438 160l-6 3M399 158l11 8M431 179l-3-7M404 181l9-11M385 169l23-3M454 169l-20-2M410 319l-8-6 9-6M356 244l4-2 17-4 11 5M390 231l-13 3 0 4M325 231l4-6 14 2 4 3-9 6M276 222l-2-6 11-4 8-1 5 3-8 9-14-1-9 5-12-7M259 214l15 2M276 205l9 7M303 202l-10 9M312 213l-1 3 3 7 12 1 9-6-1-1-22-4 10-8M298 214l13 2M341 208l-7 9M329 225l-3-1M343 227l4-4-12-5M359 215l-2 4-10 4M292 223l16 5 0 4-18 3-3-1 5-11-2 0M314 223l-6 5M268 227l19 7M268 227l-1 0M286 237l4-2M267 229l1-2M267 229l1 8M310 233l-2-1M170 203l-7-7 12 0 6 2-7 4-3-1-1 2-16 2M161 196l2 0M167 209l4-8M185 207l-11-5M192 198l-11 0M176 194l-1 2M260 420l-1-7 7-1M283 419l-5-8M308 412l-23-5M243 397l-11-4M251 390l1 1 0 4-9 2-1 7 3 0 3 9-13 2-13-6 3-5 17 0M256 403l0-5 10-3 2 5M256 403l6 0M310 402l-11-3M313 390l-13 3M252 395l4 3M256 403l-11 1M259 413l-11 0M223 394l2 10M234 419l1-4M209 408l13 1M221 330l9-1 3-6-2-1-7-1-8 5-2 1 7 3-4 6 11 4 11-6M237 332l-7-3M208 338l9-2M194 331l20-4M246 326l-13-3M207 321l9 5M224 319l0 2M210 317l5 1M242 316l-11 6M226 241l12 1 8-8-1-4 0 1-16 3-3 7-7 4M246 245l-8-3M216 231l13 3M261 240l-15-6M239 225l6 6M267 229l-22 1M228 292l-9-1-11 3-1 1 1 0 10 2 10 0 0-5 13-5M218 284l1 7M231 298l-3-1M220 305l-2-8M198 287l10 7M205 301l15 3M205 301l3-6M192 294l15 1M189 300l14 1 2 0M200 306l-14 2 4 2 12 3 3-3-5-4 3-5M186 307l0 1M216 310l-11 0M203 316l-1-3M188 313l2-3M492 385l-17 4M472 395l3 1M469 405l0 1M515 411l-27-4M480 418l3-9M415 424l-13-2 0-3 8-3 5 1 1 1-1 6 4 2M402 424l0-2M428 419l-12-1M423 410l-8 7M405 413l5 3M396 417l6 2M356 372l-4 3-12 1 0-11M322 370l12 8 6-2M305 379l-2-2M331 380l2-2 1 0M486 353l2 8 17 2 11-5M356 301l5 1 7-1 9-7-7-4M470 297l7-6-6-5M462 289l5-1M449 281l0 4M460 278l4 1M479 277l-4 2M488 300l3-7 14 0 1 7M490 285l4-1-6 7-11 0M491 293l-3-2M349 325l5-7-17 0 1 3M343 305l-4 3-1 0M334 316l3 2M547 337l-4 3 4 2 7-1 4-1-6-4-5 1-6-4M535 339l8 1M559 333l-7 3M559 340l-1 0M559 345l-5-4M545 345l2-3M441 288l-3-1-7-2-3-5M435 295l-1-1 4-7M161 351l15 5 11-3 0-8M177 374l3-7-11-6-15 3M176 356l-7 5M266 378l11 2 1 3-18 2-2-2 8-5-3-3 6-4 6 2M280 378l-3 2M252 382l6 1M254 374l9 1M291 385l-13-2-4 6-11-1-4 1 7 5 11 0-3-5M435 140l-11 4-8-8 0-2 8-4 10 5 1 5 7 2M423 147l1-3M450 136l-16-1M402 143l14-7M427 128l-3 2M394 129l22 5M492 173l11 1M499 165l2-2M503 181l0-8M514 176l-5-3M526 171l-8 1M441 206l17-1-8-8-11 4 2 5-4 3M426 198l13 3M453 196l-3 1M401 296l1 0-7-9-12 6 5 3 13 0 4 5M383 281l13 5 11-1 7-7M383 293l-6 1M396 286l-1 1M388 296l-1 5 11 4 6-2M368 301l14 3 5-3M357 234l12-4-2-6-20 7 10 3 3 8M377 234l-8-4M347 230l0 1M357 219l10 5 7 0M252 391l7-2M260 385l3 3M266 395l0-1M279 393l-2 1M374 374l-6 3M352 375l8 4M333 378l20 7M382 394l-9-4M352 394l3-2M514 385l-4-10-21 2 4 10M505 363l1 3 6 5 19-6M537 379l-25-9-2 5M512 371l0-1M456 373l11-10 11 3 5 5 1 3-19 4-9-5-15-1M459 358l8 5M464 381l1-3M489 377l-5-3M488 361l-10 5M506 366l-23 5M365 326l-1-6 9-2 6 8M354 318l0-1 10 3M361 302l5 8-10 4-17-6M356 314l-2 3M397 313l-5-4-8-2-10 4 5 4 7 2 11-4 5 0M398 305l-6 4M393 324l-7-7M373 318l6-3M382 304l2 3M366 310l8 1M523 292l-4-1M505 293l6 0M494 284l3 1M506 277l-1 3M267 344l-4 0-2 5 7 2 7-1M263 344l-10 0-4 3 4 2 8 0M254 338l-3 2 2 4M253 372l2-3-9-3-3 1-7 4 4 3M269 371l-6-5-8 3M264 356l-4 0-6 6 0-1 12 3 3-1 4-5-9-2 4-5M255 353l5 3M255 353l-2-4M284 356l-11 2M242 354l13-1M242 354l12 8M282 368l-13-5M263 366l3-2M246 366l8-5M223 348l10 7 5-2 5-6-10-4-4-1-6 6-10 3-13-8M228 340l1 2M251 340l-18 3M249 347l-6 0M242 354l-4-1M243 367l-12-6 2-6M187 353l3 2 5 9-15 3M213 351l-6 4-17 0M413 285l-4 8 8 2 7-2 0-4-11-4-6 0M402 296l7-3M431 285l-7 4M417 298l0-3M434 294l-10-1M201 366l-1-2 13-6 10 4-1 7-5 2-16-5-10 11M195 364l5 0M217 374l0-3M207 355l6 3M236 371l-14-2M231 361l-8 1"/><filter id="cola" x="0" y="0" width="1" height="1" color-interpolation-filters="sRGB"><feTurbulence type="fractalNoise" baseFrequency="0.04 0.08" numOctaves="2" seed="3"/><feColorMatrix type="matrix" values="1.6 0 0 0 -0.45 1.6 0 0 0 -0.45 1.6 0 0 0 -0.45 0 0 0 0 1"/><feComponentTransfer><feFuncR type="table" tableValues="0.118 0.125 0.133 0.141 0.148 0.156 0.164 0.171 0.179 0.187 0.194 0.202 0.21 0.215 0.214 0.212 0.211 0.209 0.208 0.206 0.205 0.203 0.202 0.2 0.199 0.197 0.194 0.19 0.186 0.182 0.178 0.174 0.17 0.166 0.162 0.158 0.158 0.161 0.163 0.165 0.167 0.169 0.171 0.173 0.175 0.179 0.189 0.199 0.209 0.219 0.23 0.24 0.25 0.26 0.27 0.287 0.307 0.328 0.348 0.368 0.389 0.409 0.43 0.45 0.471"/><feFuncG type="table" tableValues="0.235 0.254 0.272 0.29 0.309 0.327 0.346 0.364 0.382 0.401 0.419 0.438 0.456 0.472 0.482 0.491 0.5 0.509 0.518 0.528 0.537 0.546 0.555 0.564 0.574 0.583 0.595 0.611 0.627 0.644 0.66 0.676 0.693 0.709 0.725 0.742 0.757 0.771 0.785 0.799 0.814 0.828 0.842 0.857 0.871 0.884 0.89 0.896 0.902 0.908 0.914 0.92 0.926 0.933 0.939 0.941 0.941 0.941 0.941 0.941 0.941 0.941 0.941 0.941 0.941"/><feFuncB type="table" tableValues="0.843 0.839 0.834 0.829 0.825 0.82 0.816 0.811 0.806 0.802 0.797 0.793 0.788 0.782 0.77 0.757 0.745 0.733 0.721 0.708 0.696 0.684 0.672 0.659 0.647 0.635 0.616 0.587 0.559 0.53 0.502 0.473 0.444 0.416 0.387 0.359 0.342 0.327 0.313 0.299 0.284 0.27 0.256 0.241 0.227 0.215 0.211 0.207 0.203 0.199 0.194 0.19 0.186 0.182 0.178 0.175 0.173 0.171 0.169 0.167 0.165 0.163 0.161 0.159 0.157"/></feComponentTransfer></filter><filter id="hba" x="-5%" y="-5%" width="110%" height="110%"><feGaussianBlur stdDeviation="1.2"/></filter><filter id="wga" x="-2%" y="-2%" width="104%" height="104%"><feTurbulence type="turbulence" baseFrequency="0.2" numOctaves="2" seed="10" result="t"/><feDisplacementMap in="SourceGraphic" in2="t" scale="2.5" xChannelSelector="R" yChannelSelector="G"/><feGaussianBlur stdDeviation="0.8"/></filter></defs>
<g clip-path="url(#clipa)">
<rect x="87" y="73" width="469.0" height="350.5" filter="url(#cola)"/>
<path d="M341 352h4M477 235h4M158 431h4M161 105h4M307 106h4M467 153h4M450 108h4" stroke="#244bd3" stroke-width="5" stroke-linecap="round" opacity="1"/>
<path d="M232 248h8M308 302h8M79 371h8M86 382h8M363 295h8M125 164h8M394 258h8M141 414h8M368 144h8M277 87h8M239 88h8M543 319h8M179 78h8M522 285h8M540 103h8M531 86h8" stroke="#244bd3" stroke-width="8" stroke-linecap="round" opacity="1"/>
<path d="M200 262h14M394 137h14M418 113h14M488 415h14" stroke="#244bd3" stroke-width="11" stroke-linecap="round" opacity="1"/>
<path d="M212 301h4M160 207h4M185 325h4M169 199h4M211 321h4M232 313h4M224 327h4M249 319h4M229 318h4M262 319h4M184 318h4M114 340h4M241 339h4M141 192h4M150 177h4M105 154h4M95 362h4M272 341h4M106 367h4M334 332h4M325 319h4M359 230h4M341 345h4M349 362h4M439 219h4M281 111h4M439 284h4M467 302h4M296 110h4M450 289h4M465 276h4M467 282h4M508 327h4M514 174h4M511 318h4M514 185h4M496 320h4M439 156h4M447 142h4M560 329h4M389 424h4M537 343h4M399 68h4M399 87h4M457 112h4M439 138h4M406 72h4M410 65h4M460 105h4M469 111h4M530 73h4" stroke="#3169cc" stroke-width="5" stroke-linecap="round" opacity="1"/>
<path d="M94 268h8M80 226h8M188 284h8M136 238h8M114 297h8M153 236h8M242 257h8M103 276h8M258 255h8M263 293h8M273 304h8M198 212h8M270 234h8M278 294h8M226 208h8M266 211h8M323 293h8M297 237h8M295 298h8M163 213h8M117 373h8M342 217h8M247 304h8M310 345h8M293 229h8M370 307h8M219 164h8M239 149h8M397 225h8M85 415h8M302 160h8M316 376h8M392 319h8M416 285h8M446 247h8M433 237h8M358 373h8M394 358h8M376 299h8M354 367h8M377 370h8M402 370h8M406 242h8M130 406h8M471 188h8M422 374h8M168 419h8M219 91h8M241 110h8M333 124h8M510 215h8M146 94h8M482 303h8M281 98h8M481 274h8M477 295h8M156 121h8M493 291h8M513 279h8M341 430h8M443 425h8M430 427h8M540 285h8M460 423h8M424 97h8M475 92h8" stroke="#3169cc" stroke-width="8" stroke-linecap="round" opacity="1"/>
<path d="M252 265h14M189 234h14M174 229h14M256 274h14M193 188h14M154 227h14M335 289h14M391 278h14M208 402h14M108 391h14M402 270h14M324 183h14M182 133h14M109 110h14M416 334h14M428 355h14M458 176h14M365 109h14M122 75h14M495 158h14M168 70h14M547 412h14" stroke="#3169cc" stroke-width="11" stroke-linecap="round" opacity="1"/>
<path d="M195 298h4M146 319h4M148 245h4M163 244h4M195 310h4M155 251h4M175 322h4M156 326h4M201 325h4M261 336h4M246 351h4M237 307h4M244 369h4M265 381h4M351 335h4M408 296h4M438 232h4M289 396h4M451 222h4M356 329h4M430 304h4M145 431h4M445 202h4M449 234h4M498 314h4M152 114h4M466 292h4M499 184h4M526 318h4M549 351h4M466 142h4M559 342h4M418 431h4M395 420h4M374 85h4M362 80h4M556 105h4M521 84h4M501 79h4" stroke="#3680be" stroke-width="5" stroke-linecap="round" opacity="1"/>
<path d="M120 282h8M83 261h8M120 247h8M133 257h8M166 253h8M77 213h8M93 284h8M146 337h8M183 249h8M119 233h8M99 228h8M130 201h8M204 331h8M178 219h8M81 325h8M283 259h8M87 345h8M246 297h8M83 359h8M278 228h8M200 197h8M76 182h8M211 205h8M228 333h8M94 372h8M290 307h8M231 200h8M247 202h8M301 261h8M306 253h8M232 349h8M316 228h8M137 170h8M140 385h8M112 379h8M329 361h8M234 409h8M406 230h8M399 328h8M423 245h8M190 112h8M390 338h8M229 116h8M411 312h8M427 314h8M450 255h8M87 427h8M484 260h8M287 117h8M151 408h8M491 269h8M132 117h8M467 244h8M266 404h8M494 211h8M318 403h8M360 383h8M296 131h8M440 164h8M515 364h8M496 255h8M503 225h8M475 249h8M334 82h8M550 260h8M406 379h8M484 392h8M346 102h8M528 201h8M282 73h8M359 90h8M448 407h8M513 297h8M325 68h8M553 361h8M532 290h8M435 109h8M555 184h8M463 98h8M548 291h8M504 86h8" stroke="#3680be" stroke-width="8" stroke-linecap="round" opacity="1"/>
<path d="M189 271h14M109 329h14M219 257h14M119 321h14M295 281h14M316 283h14M210 176h14M311 198h14M361 283h14M370 176h14M111 171h14M187 175h14M344 195h14M133 139h14M281 205h14M203 430h14M440 316h14M408 349h14M133 83h14M381 120h14M433 174h14M537 365h14M305 423h14M529 161h14M521 403h14M532 388h14M476 423h14M499 423h14M467 81h14" stroke="#3680be" stroke-width="11" stroke-linecap="round" opacity="1"/>
<path d="M78 242h4M98 349h4M166 314h4M264 325h4M182 202h4M340 338h4M253 365h4M260 371h4M352 225h4M356 323h4M270 398h4M396 299h4M424 296h4M446 241h4M456 264h4M453 275h4M459 225h4M413 152h4M458 296h4M147 100h4M450 152h4M250 67h4M414 291h4M496 176h4M440 132h4M465 129h4M388 415h4M518 179h4M438 149h4M466 120h4M372 431h4M500 66h4M526 68h4" stroke="#338eaa" stroke-width="5" stroke-linecap="round" opacity="1"/>
<path d="M165 294h8M171 307h8M104 238h8M98 250h8M141 329h8M155 219h8M156 356h8M250 311h8M249 225h8M290 249h8M124 179h8M288 323h8M280 350h8M264 201h8M77 157h8M314 324h8M306 311h8M321 235h8M378 288h8M90 154h8M286 171h8M420 219h8M280 148h8M344 371h8M258 147h8M341 151h8M112 415h8M391 350h8M343 160h8M377 378h8M468 266h8M372 158h8M263 103h8M449 307h8M311 143h8M231 104h8M345 379h8M173 97h8M418 167h8M323 159h8M522 227h8M493 232h8M537 254h8M492 169h8M407 398h8M549 221h8M372 98h8M510 234h8M485 152h8M488 365h8M551 270h8M430 121h8M480 123h8M551 137h8M487 110h8M464 413h8M490 97h8M490 86h8M512 111h8M529 99h8M505 94h8M545 89h8M543 74h8M558 429h8M489 71h8" stroke="#338eaa" stroke-width="8" stroke-linecap="round" opacity="1"/>
<path d="M77 275h14M101 215h14M194 243h14M185 337h14M213 236h14M282 270h14M308 274h14M100 181h14M354 210h14M380 203h14M350 266h14M233 185h14M408 204h14M362 188h14M410 191h14M105 125h14M264 136h14M207 113h14M459 325h14M265 417h14M404 125h14M545 205h14M503 147h14M522 417h14" stroke="#338eaa" stroke-width="11" stroke-linecap="round" opacity="1"/>
<path d="M163 319h4M208 313h4M121 344h4M115 349h4M251 328h4M113 360h4M276 321h4M258 352h4M331 325h4M244 376h4M271 354h4M344 329h4M343 321h4M392 294h4M357 358h4M265 391h4M244 393h4M269 376h4M280 389h4M167 115h4M436 226h4M470 229h4M313 99h4M241 389h4M144 110h4M146 105h4M548 333h4M400 415h4M399 409h4M458 134h4M398 428h4M456 124h4M420 422h4M551 346h4M549 339h4M380 70h4M421 416h4M380 78h4M413 76h4M422 82h4M559 337h4M418 70h4" stroke="#2fa389" stroke-width="5" stroke-linecap="round" opacity="1"/>
<path d="M118 271h8M178 300h8M171 349h8M76 317h8M123 355h8M79 191h8M80 205h8M290 314h8M325 341h8M274 361h8M366 218h8M199 373h8M143 401h8M316 332h8M234 193h8M322 312h8M193 416h8M262 169h8M329 371h8M385 237h8M199 167h8M290 363h8M302 174h8M342 314h8M379 322h8M187 151h8M389 247h8M198 142h8M284 381h8M170 123h8M415 236h8M210 135h8M303 396h8M424 365h8M389 145h8M476 207h8M290 141h8M227 83h8M473 313h8M443 268h8M268 117h8M409 143h8M506 203h8M501 245h8M234 66h8M491 280h8M132 427h8M511 250h8M487 341h8M421 388h8M477 381h8M322 89h8M533 275h8M441 393h8M457 390h8M515 379h8M556 165h8M307 70h8M387 407h8M529 303h8M555 195h8M485 162h8M456 398h8M479 142h8M548 300h8M470 137h8M546 277h8M527 131h8M526 430h8M346 86h8M552 94h8M483 76h8M188 85h8M537 68h8" stroke="#2fa389" stroke-width="8" stroke-linecap="round" opacity="1"/>
<path d="M209 278h14M182 258h14M260 284h14M208 344h14M92 198h14M320 212h14M174 382h14M190 390h14M153 146h14M91 401h14M197 128h14M90 107h14M231 425h14M441 183h14M392 172h14M441 338h14M382 389h14M168 87h14M141 71h14M547 374h14M462 431h14M524 150h14M520 141h14M394 112h14" stroke="#2fa389" stroke-width="11" stroke-linecap="round" opacity="1"/>
<path d="M181 312h4M195 292h4M217 294h4M103 340h4M150 197h4M159 200h4M141 185h4M168 183h4M250 355h4M356 345h4M362 351h4M150 424h4M453 229h4M281 104h4M176 107h4M301 116h4M399 308h4M491 325h4M311 114h4M407 159h4M163 99h4M520 312h4M516 323h4M160 110h4M530 176h4M406 420h4M449 117h4M453 147h4M407 426h4M386 82h4" stroke="#28be5a" stroke-width="5" stroke-linecap="round" opacity="1"/>
<path d="M134 312h8M110 260h8M153 310h8M181 294h8M125 336h8M84 294h8M119 225h8M137 217h8M137 226h8M78 333h8M138 351h8M234 301h8M255 246h8M246 240h8M244 210h8M169 177h8M309 295h8M261 299h8M133 365h8M301 289h8M344 237h8M215 381h8M182 426h8M372 229h8M236 165h8M150 392h8M409 250h8M400 215h8M279 373h8M170 405h8M211 146h8M426 212h8M436 196h8M179 412h8M232 399h8M374 353h8M421 229h8M279 125h8M135 421h8M380 360h8M274 157h8M473 255h8M296 148h8M484 201h8M293 403h8M310 133h8M121 101h8M97 65h8M253 94h8M492 372h8M216 100h8M466 196h8M87 74h8M322 113h8M508 261h8M424 138h8M500 304h8M509 336h8M499 346h8M391 365h8M557 249h8M492 298h8M537 190h8M521 344h8M306 90h8M537 312h8M325 425h8M554 115h8M539 114h8M524 91h8M428 69h8M478 67h8" stroke="#28be5a" stroke-width="8" stroke-linecap="round" opacity="1"/>
<path d="M106 313h14M235 281h14M211 188h14M397 197h14M385 189h14M84 134h14M300 208h14M413 176h14M303 189h14M319 170h14M124 130h14M302 370h14M231 134h14M359 132h14M444 349h14M242 141h14M100 84h14M467 346h14M362 167h14" stroke="#28be5a" stroke-width="11" stroke-linecap="round" opacity="1"/>
<path d="M206 305h4M144 201h4M239 322h4M102 356h4M276 327h4M156 184h4M357 339h4M252 387h4M389 304h4M446 209h4M369 346h4M466 219h4M400 154h4M445 302h4M259 399h4M433 144h4M445 127h4M453 159h4M385 87h4M403 82h4M397 75h4M385 429h4M407 431h4M376 424h4M388 66h4M506 74h4" stroke="#2bd543" stroke-width="5" stroke-linecap="round" opacity="1"/>
<path d="M87 244h8M133 249h8M81 250h8M162 338h8M269 242h8M127 191h8M209 365h8M157 345h8M279 336h8M290 343h8M225 374h8M263 313h8M302 332h8M152 169h8M330 230h8M332 223h8M101 162h8M324 304h8M120 365h8M380 214h8M267 193h8M224 387h8M177 144h8M226 143h8M371 339h8M336 386h8M320 151h8M283 163h8M165 426h8M246 418h8M365 365h8M268 368h8M438 262h8M299 387h8M334 139h8M251 407h8M288 154h8M430 271h8M292 123h8M80 67h8M481 223h8M259 110h8M348 404h8M327 395h8M484 192h8M290 92h8M341 94h8M483 181h8M527 266h8M544 235h8M340 417h8M493 219h8M499 380h8M427 407h8M195 74h8M531 217h8M515 304h8M440 100h8M379 152h8M534 356h8M348 80h8M524 371h8M432 417h8M546 420h8M546 325h8M542 80h8" stroke="#2bd543" stroke-width="8" stroke-linecap="round" opacity="1"/>
<path d="M228 271h14M321 268h14M322 258h14M341 252h14M338 298h14M158 132h14M112 404h14M143 159h14M248 128h14M471 359h14M463 371h14M284 415h14M365 398h14M100 424h14M400 389h14M118 92h14M320 412h14M487 132h14" stroke="#2bd543" stroke-width="11" stroke-linecap="round" opacity="1"/>
<path d="M223 301h4M201 319h4M166 193h4M108 345h4M191 206h4M173 208h4M242 332h4M258 342h4M236 328h4M265 347h4M244 344h4M240 382h4M208 156h4M363 316h4M257 394h4M249 399h4M459 238h4M453 215h4M459 200h4M297 101h4M477 216h4M135 106h4M465 159h4M427 158h4M425 152h4M507 169h4M532 331h4M202 82h4M536 182h4M531 325h4M506 177h4M536 349h4M539 337h4M415 89h4M512 70h4M518 78h4" stroke="#35e634" stroke-width="5" stroke-linecap="round" opacity="1"/>
<path d="M84 235h8M125 210h8M205 288h8M232 237h8M282 286h8M140 207h8M254 234h8M273 248h8M180 362h8M246 250h8M238 219h8M275 315h8M328 243h8M228 366h8M138 377h8M381 222h8M264 180h8M362 235h8M156 381h8M315 352h8M381 311h8M421 253h8M437 255h8M377 330h8M143 125h8M502 193h8M232 96h8M239 73h8M490 240h8M247 104h8M496 357h8M506 272h8M392 164h8M518 257h8M265 80h8M481 175h8M265 72h8M429 399h8M340 74h8M496 334h8M479 281h8M535 169h8M446 417h8M548 243h8M524 337h8M224 75h8M529 234h8M466 168h8M505 285h8M213 80h8M361 426h8M207 87h8M558 312h8M356 416h8M358 153h8M478 116h8M553 283h8M549 127h8M535 123h8M552 83h8" stroke="#35e634" stroke-width="8" stroke-linecap="round" opacity="1"/>
<path d="M137 281h14M170 266h14M339 278h14M186 405h14M172 394h14M369 244h14M283 187h14M214 123h14M342 168h14M433 326h14M443 380h14M499 389h14M291 82h14M496 404h14M389 102h14M445 91h14M433 78h14M508 120h14" stroke="#35e634" stroke-width="11" stroke-linecap="round" opacity="1"/>
<path d="M191 303h4M194 315h4M223 309h4M219 314h4M181 195h4M157 189h4M254 346h4M242 359h4M255 378h4M403 290h4M267 386h4M366 333h4M369 324h4M412 303h4M464 210h4M469 203h4M429 291h4M456 284h4M436 298h4M316 109h4M411 413h4M440 293h4M412 407h4" stroke="#46f02d" stroke-width="5" stroke-linecap="round" opacity="1"/>
<path d="M142 292h8M135 266h8M142 344h8M90 304h8M172 330h8M179 242h8M75 305h8M102 291h8M233 293h8M223 287h8M224 229h8M298 221h8M219 198h8M220 220h8M93 167h8M262 220h8M174 189h8M312 246h8M187 370h8M296 352h8M282 218h8M115 158h8M318 219h8M196 360h8M129 153h8M85 175h8M93 145h8M350 308h8M119 143h8M173 162h8M225 155h8M259 155h8M428 203h8M190 121h8M158 414h8M317 385h8M415 323h8M393 375h8M461 259h8M461 249h8M197 99h8M488 246h8M411 357h8M309 121h8M449 190h8M518 241h8M326 103h8M388 398h8M441 278h8M522 189h8M529 246h8M318 79h8M478 287h8M317 127h8M195 91h8M519 351h8M479 400h8M105 73h8M518 166h8M340 112h8M367 408h8M324 95h8M348 424h8M372 414h8M550 174h8M358 74h8M473 103h8M396 94h8M514 102h8" stroke="#46f02d" stroke-width="8" stroke-linecap="round" opacity="1"/>
<path d="M164 284h14M162 274h14M204 226h14M234 176h14M373 271h14M373 254h14M104 135h14M214 416h14M85 96h14M259 426h14M444 365h14M350 123h14M469 334h14M77 89h14M284 424h14M544 399h14M546 152h14" stroke="#46f02d" stroke-width="11" stroke-linecap="round" opacity="1"/>
<path d="M262 360h4" stroke="#67f02a" stroke-width="5" stroke-linecap="round" opacity="1"/>
<path d="M149 303h8M133 300h8M155 258h8M122 290h8M166 368h8M251 194h8M216 356h8" stroke="#67f02a" stroke-width="8" stroke-linecap="round" opacity="1"/>
<path d="M192 350h14M81 118h14" stroke="#67f02a" stroke-width="11" stroke-linecap="round" opacity="1"/>
<use href="#ea" fill="none" stroke="#30e040" stroke-width="3" stroke-opacity="0.35" filter="url(#hba)"/>
<use href="#ea" fill="none" stroke="#000" stroke-width="2.3" stroke-linejoin="round" filter="url(#wga)"/>
<path d="M375 286h4v2h-4zM470 389h2v1h-2zM302 324h2v1h-2zM142 266h4v3h-4zM394 310h2v1h-2zM180 212h2v1h-2zM160 200h2v1h-2zM116 401h2v1h-2zM116 276h4v2h-4zM515 381h2v1h-2zM349 341h3v2h-3zM198 398h4v3h-4zM206 158h4v3h-4zM354 357h3v1h-3zM314 120h2v1h-2zM145 129h4v3h-4zM328 169h3v2h-3zM353 330h4v2h-4zM338 204h4v3h-4zM120 406h3v2h-3zM517 104h3v2h-3zM546 123h4v2h-4zM520 245h2v1h-2zM418 376h3v2h-3zM305 289h4v3h-4zM157 199h3v1h-3zM333 164h2v1h-2zM362 195h3v2h-3zM499 415h3v1h-3zM414 95h3v2h-3zM262 249h2v1h-2zM260 134h3v1h-3zM317 386h3v2h-3zM126 344h4v2h-4zM120 311h2v1h-2zM384 85h2v1h-2zM197 153h3v2h-3zM92 255h2v1h-2zM106 234h2v1h-2zM388 85h3v1h-3zM431 252h3v2h-3zM500 81h4v3h-4zM97 169h2v1h-2zM458 178h4v3h-4zM444 154h3v2h-3zM458 214h3v2h-3zM130 338h3v2h-3zM243 254h3v2h-3zM278 112h3v2h-3zM221 320h4v3h-4zM464 78h4v3h-4zM524 206h2v1h-2zM499 203h4v2h-4zM183 273h4v2h-4zM121 416h3v1h-3zM518 87h3v2h-3zM389 266h2v1h-2zM434 171h2v1h-2zM251 153h2v1h-2zM310 268h4v3h-4zM439 103h2v1h-2zM484 174h2v1h-2zM409 235h4v3h-4zM340 248h3v2h-3zM96 261h4v2h-4zM100 106h4v2h-4zM421 115h3v2h-3zM196 344h2v1h-2zM204 372h2v1h-2zM360 389h2v1h-2zM360 312h2v1h-2zM255 194h4v3h-4zM169 133h4v3h-4zM541 377h4v3h-4zM399 270h4v2h-4zM441 330h2v1h-2zM513 248h3v2h-3zM249 123h3v2h-3zM131 317h3v1h-3zM89 313h4v3h-4zM167 392h4v3h-4zM301 159h2v1h-2zM186 311h3v2h-3zM492 394h4v3h-4zM266 145h4v3h-4zM176 98h2v1h-2zM110 128h4v3h-4zM149 168h4v2h-4zM138 227h2v1h-2zM540 366h2v1h-2zM179 353h2v1h-2zM434 231h3v2h-3zM482 163h3v2h-3zM119 101h4v2h-4zM198 79h4v3h-4zM387 102h2v1h-2zM257 272h3v2h-3zM340 273h2v1h-2zM530 422h3v2h-3zM327 393h2v1h-2zM264 294h2v1h-2zM318 363h4v2h-4zM498 149h2v1h-2zM300 123h2v1h-2zM389 95h2v1h-2zM344 91h2v1h-2zM273 254h4v2h-4zM164 123h4v3h-4zM167 189h4v2h-4zM156 391h3v2h-3zM422 219h3v1h-3zM156 254h3v2h-3zM479 359h4v2h-4zM486 120h3v2h-3zM112 88h2v1h-2zM464 415h2v1h-2zM507 403h4v3h-4zM330 275h3v2h-3zM455 144h2v1h-2zM166 223h2v1h-2zM121 233h3v2h-3zM117 313h2v1h-2zM321 418h2v1h-2zM554 297h3v2h-3zM308 204h2v1h-2zM413 135h4v3h-4zM373 117h4v3h-4zM359 170h3v2h-3zM399 366h4v2h-4zM507 187h3v2h-3zM164 191h3v2h-3zM421 117h4v3h-4zM418 195h3v2h-3zM230 222h4v2h-4zM169 394h4v3h-4zM430 80h4v3h-4zM144 404h3v2h-3zM142 148h4v3h-4zM206 144h3v2h-3zM280 404h2v1h-2zM423 290h3v2h-3zM204 271h4v2h-4zM88 417h2v1h-2zM319 342h3v2h-3zM208 165h3v2h-3zM270 277h2v1h-2zM294 399h2v1h-2zM254 188h4v2h-4zM309 295h3v2h-3zM288 413h4v2h-4zM502 85h2v1h-2zM510 94h4v2h-4zM549 372h2v1h-2zM412 323h3v2h-3zM309 203h4v3h-4zM221 293h4v3h-4zM476 193h3v2h-3zM231 103h4v3h-4zM300 303h4v3h-4zM179 137h4v3h-4zM182 263h3v2h-3zM90 295h4v3h-4zM204 79h4v2h-4zM501 313h3v2h-3zM335 378h4v3h-4zM177 111h2v1h-2zM224 86h3v2h-3zM428 346h3v2h-3zM328 273h4v3h-4zM224 161h4v3h-4zM117 222h4v3h-4zM110 379h4v2h-4zM234 223h2v1h-2zM438 321h4v3h-4zM534 396h4v2h-4zM117 357h4v3h-4zM233 210h4v2h-4zM249 397h4v3h-4zM500 197h4v2h-4zM429 418h2v1h-2zM155 160h4v2h-4zM531 166h2v1h-2zM467 407h4v3h-4zM493 273h4v2h-4zM344 191h2v1h-2zM92 238h2v1h-2zM252 209h4v2h-4zM426 120h4v2h-4zM182 394h4v3h-4zM119 133h2v1h-2zM353 256h3v2h-3zM248 405h3v2h-3zM424 397h2v1h-2zM114 241h4v2h-4zM527 305h3v2h-3zM395 303h3v2h-3zM388 409h4v2h-4zM399 277h4v2h-4zM247 337h2v1h-2zM355 322h4v3h-4zM353 291h3v2h-3zM405 173h2v1h-2zM248 137h3v2h-3zM527 164h3v1h-3zM96 295h2v1h-2zM218 197h4v3h-4zM488 247h4v2h-4zM448 380h3v2h-3zM419 128h2v1h-2zM464 199h2v1h-2zM304 192h3v2h-3zM216 371h3v2h-3zM362 83h2v1h-2zM538 100h2v1h-2zM332 394h3v2h-3zM198 97h2v1h-2zM510 414h3v2h-3zM442 183h4v2h-4zM404 380h4v3h-4zM113 89h3v2h-3zM516 113h2v1h-2zM406 299h4v2h-4zM216 84h4v2h-4zM481 286h2v1h-2zM246 110h4v2h-4zM275 377h4v2h-4zM226 228h3v2h-3zM171 220h4v3h-4zM358 207h4v3h-4zM277 302h2v1h-2zM229 245h3v2h-3zM493 400h3v2h-3zM339 397h4v3h-4zM368 117h3v1h-3zM260 396h2v1h-2zM217 282h4v3h-4zM465 240h4v3h-4zM229 258h3v2h-3zM106 196h3v2h-3zM376 143h3v2h-3zM456 333h3v2h-3zM352 419h2v1h-2zM445 226h4v2h-4zM242 414h3v2h-3zM201 220h3v2h-3zM368 287h2v1h-2zM468 128h3v2h-3zM438 222h3v1h-3zM530 259h3v2h-3zM408 416h3v2h-3zM469 353h4v3h-4zM446 289h4v2h-4zM186 375h2v1h-2zM318 125h4v3h-4zM539 154h3v2h-3zM236 410h3v2h-3zM358 364h3v1h-3zM415 200h3v2h-3zM464 88h3v1h-3zM487 147h4v3h-4zM104 127h3v1h-3zM250 305h4v3h-4zM337 365h2v1h-2zM106 301h2v1h-2zM391 284h4v2h-4zM257 126h4v3h-4zM395 392h3v2h-3zM368 334h4v3h-4zM226 281h4v3h-4zM537 282h4v2h-4zM291 333h4v3h-4zM377 272h4v3h-4zM358 204h4v3h-4zM511 333h2v1h-2zM455 304h2v1h-2zM495 248h2v1h-2zM364 211h3v2h-3zM508 197h2v1h-2zM484 221h3v2h-3zM87 97h3v2h-3zM245 271h2v1h-2zM295 267h4v2h-4zM334 371h2v1h-2zM111 250h3v2h-3zM91 294h3v1h-3zM445 238h2v1h-2zM422 368h4v3h-4zM508 380h4v3h-4zM125 395h3v2h-3zM428 375h3v2h-3zM520 204h3v2h-3zM177 382h2v1h-2zM486 88h2v1h-2zM511 102h2v1h-2zM449 407h4v3h-4zM192 401h4v3h-4zM126 92h3v2h-3zM405 118h3v2h-3zM518 397h2v1h-2zM483 99h4v3h-4zM479 76h4v2h-4zM376 328h3v2h-3zM356 297h4v2h-4zM468 400h4v3h-4zM163 196h2v1h-2zM428 288h3v2h-3zM130 134h3v2h-3zM370 192h2v1h-2zM540 158h4v3h-4zM177 292h3v2h-3zM509 319h3v2h-3zM328 140h3v2h-3zM378 391h3v2h-3zM429 375h2v1h-2zM132 122h4v2h-4zM328 184h3v2h-3zM515 219h2v1h-2zM418 128h4v2h-4zM370 259h3v2h-3zM244 261h4v3h-4zM146 170h2v1h-2zM116 269h4v3h-4zM323 207h4v3h-4zM394 85h4v2h-4zM411 404h3v2h-3zM111 82h2v1h-2zM140 265h3v2h-3zM439 337h4v2h-4zM280 163h2v1h-2zM537 89h2v1h-2zM164 214h4v3h-4zM186 293h2v1h-2zM120 145h4v3h-4zM170 119h2v1h-2zM443 88h2v1h-2zM292 297h2v1h-2zM114 413h3v1h-3zM315 157h2v1h-2zM373 213h2v1h-2zM249 311h4v2h-4zM521 393h2v1h-2zM313 73h3v2h-3zM289 184h2v1h-2zM411 222h2v1h-2zM513 101h4v3h-4zM154 163h3v2h-3zM103 382h4v3h-4zM125 109h2v1h-2zM553 409h3v2h-3zM252 222h4v2h-4zM174 343h3v2h-3zM412 383h2v1h-2zM352 383h3v2h-3zM460 375h4v3h-4zM528 420h4v3h-4zM376 256h4v2h-4zM529 340h4v3h-4zM371 299h3v2h-3zM212 182h4v2h-4zM289 191h4v3h-4zM544 136h4v3h-4zM370 316h2v1h-2zM324 301h4v3h-4zM538 238h4v2h-4zM247 341h4v3h-4zM505 218h2v1h-2zM225 106h4v2h-4zM104 383h2v1h-2zM179 139h2v1h-2zM525 205h3v2h-3zM467 109h4v3h-4zM321 356h3v2h-3zM409 105h4v3h-4zM541 395h2v1h-2zM350 137h2v1h-2zM372 188h3v2h-3zM511 344h3v2h-3zM366 133h4v2h-4zM541 174h2v1h-2zM397 98h2v1h-2z" fill="#000" opacity="0.8"/>
<path d="M93 259h5v3h-5zM137 139h6v4h-6zM250 419h7v6h-7zM107 229h6v4h-6zM232 357h3v2h-3zM211 369h4v3h-4zM501 233h7v6h-7zM437 237h5v3h-5zM335 179h3v2h-3zM497 380h4v2h-4zM93 237h6v4h-6zM539 128h7v6h-7zM385 212h5v3h-5zM428 362h7v5h-7zM155 228h5v4h-5zM358 114h4v2h-4zM194 342h4v2h-4zM200 374h4v2h-4zM212 168h4v3h-4zM191 148h7v5h-7zM436 246h5v4h-5zM554 401h3v2h-3zM424 359h4v2h-4zM422 384h4v3h-4zM123 378h4v2h-4zM338 241h7v6h-7zM523 371h6v5h-6zM212 342h5v4h-5zM145 160h6v3h-6zM506 279h6v5h-6zM468 106h6v4h-6zM442 153h7v6h-7zM424 90h4v3h-4zM531 269h4v3h-4zM457 265h4v3h-4zM94 336h7v4h-7zM403 223h4v2h-4zM337 288h5v4h-5zM404 316h7v5h-7zM322 164h4v3h-4zM208 308h7v5h-7zM248 262h5v4h-5zM236 345h4v3h-4zM504 222h4v2h-4zM235 352h4v3h-4z" fill="#1020e0" opacity="0.85" filter="url(#hba)"/>
<path d="M451 258h3v2h-3zM532 308h2v1h-2zM342 252h3v2h-3zM182 219h3v2h-3zM138 104h3v1h-3zM174 330h2v1h-2zM111 126h2v1h-2zM206 233h3v2h-3zM197 136h3v2h-3zM340 352h3v1h-3zM129 122h2v1h-2zM283 361h2v1h-2zM219 324h3v2h-3zM96 313h2v1h-2zM200 234h3v1h-3zM311 128h3v2h-3zM386 414h2v1h-2zM213 303h3v2h-3zM285 124h3v2h-3zM175 140h2v1h-2zM535 321h2v1h-2zM548 93h2v1h-2zM456 168h3v2h-3zM264 109h2v1h-2zM351 342h3v2h-3zM400 272h3v2h-3zM325 348h2v1h-2zM456 198h3v1h-3zM99 109h3v2h-3zM89 150h2v1h-2zM382 360h3v2h-3zM433 75h3v2h-3zM301 106h3v2h-3zM543 360h3v2h-3zM188 139h3v2h-3zM201 386h2v1h-2zM152 396h3v2h-3zM473 88h2v1h-2zM96 213h2v1h-2zM466 97h2v1h-2z" fill="#e0c040" opacity="0.8"/>
<path d="M378 372h2v1h-2zM425 147h2v1h-2zM382 284h2v1h-2zM95 105h2v1h-2zM545 105h2v1h-2zM397 184h2v1h-2zM329 337h3v2h-3zM528 383h2v1h-2zM213 402h3v2h-3zM518 131h2v1h-2zM238 255h2v1h-2zM262 268h2v1h-2zM158 170h2v1h-2zM244 270h2v1h-2zM124 149h2v1h-2z" fill="#d05030" opacity="0.8"/>
</g>
<defs><clipPath id="clipb"><rect x="1033" y="74" width="467.0" height="358.3"/></clipPath><path id="eb" d="M1458 80l-6-9M1458 80l-20-3-6-2-4-4M1438 77l2 19-25-10-8-10 8-5M1432 75l-14-4M1330 71l2 2 15-2M1066 435l-18-15-17-5-1 0M1031 415l-1-4M1123 71l14 10 2 5-45-5-4-10M1030 305l22 14 6 1-6-23-3-3-9-4-10 4M1051 333l1-14M1030 327l21 6 25 9 14 10 18-1-14-11-18 2M1030 284l10 6M1050 286l-20-17M1050 286l-1 8M1048 420l11-9 22 8 16 16M1458 80l6 2 21-4 0-7M1503 114l-8-3 2 6 6 3M1503 128l-16-9 10-2M1446 104l21 6 9-13-2-6-10-9M1443 104l3 0 5 19-33-11-11-9 36 1-3-8M1415 86l-21 1-4-8 9-6 8 3M1394 87l-2 6-34-22M1390 79l-10-8M1399 73l-3-2M1481 217l12-5-6-10-30-6-2 7 26 14 3 9-13-2-13-6-17 4 8 5 23 8-1-11M1362 227l39-13 42 33 1 5-30 0-31-9-8-6-13-10-31-9-23 8 61 39 14 1-8-29M1046 71l12 9-28 1M1094 81l-7 3-22 0-7-4M1501 265l2-2M1501 265l2 1M1475 236l22 5 6 6M1480 250l21 15M1480 250l-5-14-3-1M1473 385l-1-7-45-19-2 0 9 16 18 11 21-1 16 17 14 4M1464 329l-15-8-29-6-9 16 14 14 50 9 4-17-15-8 20-14-9-12 19-2 8-6-6-10-21-10-24 5 6 15 18 8M1277 244l-6 6-21-5-2-13 29 12 16 1 13 27-15 0-20-22M1215 367l-13-13-17 1 5 15 25-3 24 10 5-2 8-1 0-2 23-6-8-17 1-1 38 12 5 16-12 3-24-13M1043 399l10 4 6-7-20-16-5 5 9 14-13-3M1059 411l-6-8M1030 385l4 0M1081 419l9-8-17-14-14-1M1030 374l5 2 4 4M1485 78l18 7M1474 91l29 10M1476 97l19 14M1478 161l2-6 19 4 0-2 4 3M1498 182l-20-21-19-3-11 2 8 13 41 19 1-1-11 11M1498 182l5-1M1473 114l6 4 14 15-2 6-17-11-1-14-6-4M1487 119l-8-1M1503 135l-10-2M1457 196l-25-20 24-3M1497 192l1-10M1446 144l-15 0 5 10 12 6M1459 158l-13-14 4-2 20 6 3-10-10-10-11-2-9 9 7 7M1353 133l42 19 15 16-16 20-5 2-58-25-1-13 23-19-10-7 9-14-49-29 0-8 28-1 1-1M1398 149l-3 3M1398 149l38 5M1432 176l-22-8M1455 203l-3 3-58-18M1331 74l31 25 31-6-1 0M1407 103l-14-10M1296 71l7 4M1352 112l16-5-6-8M1310 165l-40-22-17-18 18-6 29 9 30 24M1310 165l21 0M1303 83l-6 1-34-13M1137 81l13-3-1-7M1399 204l-10-14M1399 204l42 18M1452 206l6 12M1484 226l15 6-2 9M1455 245l-6-18M1480 250l-25-5-12 2M1401 214l-2-10M1498 191l5 3M1493 212l10 6M1499 232l4 0M1087 84l31 17 32 2 1-4-12-13M1310 165l-3 18 24 35M1407 406l11 0 11-15-13-10-11-3-22 3-1 0 25 25-6 3 4 8 29 18M1475 354l10 16-4 6-9 2M1427 359l-2-14M1481 376l22 16M1487 339l16 11M1487 339l16 1M1449 435l-7-19-24-10M1030 190l7-1-7-7M1416 381l18-6M1405 378l-8-13 10-10 18 4M1402 282l-12-13 17 0 16 5 0 13-21-5-10 6-24-18 1-5M1383 266l7 3M1417 314l-27-25 2-1M1420 315l-3-1-36-9-13 0 0 15 11 4 32 7M1449 321l-8-19-18-15M1383 243l24 26M1414 252l19 24-10-2M1441 302l16-7M1433 276l18 4M1444 252l31 23M1503 280l-7 5M1503 295l-1 0M1407 355l-24-15-4-16M1123 213l-15 0 7 14 18 10 8 1-6-21-12-4-13-24-13-5-26-1-21-17 1-10 9-1 26 13 11 16M1177 240l-21-17-21-6M1141 238l16 8 16 3 4-9 35 8-4-14 24 5 16 9 5 15-32-6-9-9M1247 230l-14 1-1 8M1250 245l-2 3M1247 230l1 2M1291 272l-14 6-24-15M1222 274l8 10-10 7-41-22 2-13 41 18-1-17M1277 278l4 4-12 15-39-13M1173 249l8 7M1030 198l1 1-1 1M1267 349l-29-6-5 2 19 27M1174 307l-2 13 12 4 11 2-10-13-11-6-19-15-4 0-20 14 2 0 21 11 18 3M1092 310l-40-13M1092 310l2 3-1 14-35-7M1094 340l2-12-3-1M1185 355l-6-5-2-4 6-1 15 8 4 1M1163 370l16-5 10 2 12 14-22 5-15-8-1-8-15-13-19-2-3 2-14 0 1 8 11 10 16 6 9-3-23-21M1081 390l-1-10 16 2 12 12-11 3-16-7-7 0-1 7M1108 414l-11-17M1108 414l-18-3M1035 376l3-2 12 2 24 14M1038 374l-8-7M1080 380l-19-10-11 6M1489 146l10 13M1489 146l-16-8M1480 155l-10-7M1494 142l-3-3M1474 128l-11 0M1489 146l5-4 9 3M1451 123l1 3M1499 157l4 0M1424 140l-1-14-8-6-30-3 14 14 25 9 7 4M1443 135l-20-9M1398 149l1-18M1368 107l17 10M1418 112l-3 8M1202 81l1-3 17 2 18 12-3 22-36-10-4-11-2 0 9-12-19-10M1195 71l8 7M1165 71l28 22M1217 71l3 9M1194 108l5-4M1194 108l-43-9M1150 78l45 15M1266 93l30 5 16 12-14 5-35-15-2-5 5-2-15-22M1297 84l-1 14M1238 92l23 3M1253 125l-18-11M1271 119l-8-19M1300 128l-2-13M1343 126l-31-16M1108 213l-23-6 1 0 5 17 18 5 6-2M1040 166l-10-6M1040 166l-10 5M1039 148l-9-3M1039 148l12 8M1040 166l10 0M1039 148l3-11-12-7M1077 142l-24-12-4 9 11 5 16 4 3 0-2-6 7-5-10-10-17-6-5 5 1 4M1060 155l0-11M1087 168l-1 0M1087 168l-11-20M1042 137l7 2M1030 117l22 9M1293 245l12-9-4-12-43-18-14 14 3 10M1247 188l-18-23 13-7 27 19-22 11 0 5 8 13 3 0M1270 143l-34 0 6 15M1307 183l-38-6M1065 84l9 15 7 3 17 12 18 3 6-9-4-7M1122 108l25 13 3-1 10-8-10-9M1116 117l22 12 9-8M1056 120l7-7-11-10-22-4M1056 120l-26-19M1080 122l-6-7-11-2M1080 122l-6 5M1057 121l-1-1M1074 115l7-13M1074 99l-22 4M1503 425l-15-3-6-18 7-2M1452 386l4 10 26 8M1429 391l21 8 6-3M1485 370l18 6M1479 337l8 2M1391 434l14-17M1391 434l1 1M1302 386l-3-7M1302 386l-16 4-34-16M1286 390l17 25-12 1-50-20-2-19M1357 398l3 19-25 1-14-19 22-7 3-1 11 7 44 11M1391 434l-31-17M1382 381l-31-5-5 15M1311 376l32 16M1315 358l-9 2M1315 358l21 7 15 11M1302 386l19 13M1324 423l-21-8M1324 423l11-5M1337 435l-13-12M1076 200l-27-2-2-4 3-11 17 5 9 12 9 7M1071 183l-4 5M1030 175l20 8M1037 189l10 5M1041 205l13 2-5-9M1031 199l10 6 2 13 24 2 9 8-3 4-19-3-12-9 1-2M1336 264l17 7 12 13 1 0-24 2-10-2-7-8 11-12-31-28M1308 226l-7-2M1368 270l-15 1M1306 272l19 4M1390 289l-25-5M1362 314l6 6M1368 305l-26-19M1331 297l31 17-12 4-28-13-10-10 19 2 1-13M1381 305l-15-21M1312 295l-31-13M1378 358l-13-14-2-2-15 3 6 9 10 7 14-3 19 7M1383 340l-18 4M1383 381l-19-20M1342 354l12 0M1342 354l-6 11M1494 301l9 12M1484 315l19 2M1363 342l-17-11 4-13M1151 435l-23-16-14 0 6 16M1108 414l6 5M1128 419l8-15 1-1-29-9M1096 380l17 2 24 22 0-1M1096 380l0 2M1232 346l1-1M1203 329l8-7 15 6 12 15M1207 331l-4-2-8-3M1207 331l25 15-18 3-11-13-16-3-1 0 0 3 22 12 2 1 4 0M1262 325l-16-4-5-2-15 9M1262 325l6 23M1091 224l-3 0-20-11 18-6M1054 207l13 5 1 1M1030 263l17 3 2-14-19-12M1047 266l5 2 13 19-15-1M1092 310l-11-19-16-4M1109 229l1 7-18-3-2-2-2-7M1062 253l-13-1M1062 253l7-5 0-4-5-4-34-10M1116 338l-20-10M1108 351l4 6M1129 355l-13-17 18 0 3-9 16 6 12 15-5 4-8-2-18-14M1103 362l-9-4-4-6M1103 362l10 3M1164 378l-15 0M1113 379l-18-12 8-5M1113 379l11-4M1137 404l14-9-11-14M1113 379l0 3M1188 394l-5 14-32-13M1188 394l-9-8M1154 317l14 12 18 4M1184 324l3 9M1207 331l-4 5M1198 353l10-5M1183 345l3-9M1165 336l12 10M1168 329l-3 7-12-1M1244 375l-34-26M1127 318l10 11M1127 318l-33-5M1133 306l-6 12M1179 350l-14 0M1148 357l4-5M1190 370l-1-3M1179 365l-19-11M1088 374l4-7-20-12-18-8-6 6 10 12 30 9 8 6M1095 367l-3 0M1061 370l-3-5M1094 358l-22-3M1030 349l18 4M1051 333l3 14M1208 234l-4-2-19-10-18-3-11 4M1167 219l-17-19 1-2 28 12 6 12M1110 189l3-1 37 12M1154 196l-3 2M1179 210l5-3-4-7-16-8-10 4-15-14-13-9-13 15M1233 231l-11-9-3-7 25 5M1204 232l1-10 17 0M1184 207l13 6 8 9M1180 200l9-1 19 11-11 3M1219 215l-11-5 11-12-21-8-9 4 0 5M1229 165l-20-9-1-2 8-17 20 6M1194 108l11 21-17 1-28-18M1205 129l11 8M1488 425l-22-5-4-1 15 16M1488 425l11 10M1488 422l0 3M1450 399l16 21M1442 416l20 3M1184 409l-1-1M1188 394l24 9 11 12-3 3-36-9 6 8-15 10 1 0 15 8M1201 381l28 14-17 8M1241 396l-7-1-5 0M1333 326l-19-10-30-4 4 13 8 8 19 4 20 0-2-11 13 5M1322 305l-8 11M1348 345l-13-8M1269 297l15 15M1342 354l-27-17M1219 293l1-2M1262 325l26 0M1246 321l-27-28-27-1 0 4-37-4M1315 358l-19-25M1243 430l3 5M1226 428l17 2 3-2-15-9 19-3 4 4 0 9-8-1M1226 428l-8 3 5 4M1209 435l0-7-19-11M1166 435l10-8M1136 404l39 23M1218 431l-9-3M1220 418l6 10M1192 312l16 10 5-12-22-13 1 15-7 1M1211 322l-3 0M1192 296l-1 1M1241 319l-28-9M1064 240l-10-11M1069 244l10-5-6-7M1067 212l0 8M1090 231l-14-3M1030 218l12 2M1151 292l-9-11 2-11 20 4 28 18M1157 246l-5 9 15 14 12 0M1133 237l-4 9 23 9M1167 269l-3 5M1110 236l18 12 1-2M1080 266l-4 7 16 17 19 5-7-20-11-6-13-3-18-13M1052 268l24 5M1085 255l8 14M1069 248l16 7 14-1 2 3 27 1-6-7-22-8-10-1 9 12M1119 275l-15 0M1142 281l-23-6-18-18M1131 306l-20-11M1081 291l11-1M1219 198l36 8M1202 166l-7 0-12 1 13 11 26 3-20-15 7-10M1247 193l-25-12M1192 183l4-5M1192 183l6 7M1181 153l-17 1-3 1 22 11 0 1M1181 153l14 13M1140 134l11 4 13 16M1140 134l-10 2 4 10 24 8 3 1M1138 129l2 5M1098 114l10 11 22 11M1084 137l3-1 15-2 1-6-23-6M1103 128l5-3M1134 146l-8 3-3 0-21-15M1087 136l20 16 16-3M1079 148l29 12-1-8M1087 168l27-4-6-4M1126 173l-9-9-3 0M1273 424l-19-4M1273 424l0 11M1262 435l-8-6M1284 427l-11-3M1284 427l7-11M1234 395l16 21M1223 415l8 4M1144 270l-16-12M1128 248l-6 3M1092 233l8 10M1079 239l11 3M1194 149l-13-17-19-3 2 11 17 7 13 2 14 5M1188 130l-7 2M1181 153l0-6M1151 138l13 2M1150 120l12 9M1155 168l13 6 9 6-6 4-6 2-12-8-7-11-1 0 10 1 3-14M1183 166l-15 8M1126 149l19 18M1117 164l29 3M1139 182l14-4M1164 192l1-6M1192 183l-15-3M1189 194l-18-10M1284 427l9 7 2 1M1293 434l0 1"/><filter id="colb" x="0" y="0" width="1" height="1" color-interpolation-filters="sRGB"><feTurbulence type="fractalNoise" baseFrequency="0.01 0.035" numOctaves="4" seed="5"/><feColorMatrix type="matrix" values="2.3 0 0 0 -0.95 2.3 0 0 0 -0.95 2.3 0 0 0 -0.95 0 0 0 0 1"/><feComponentTransfer><feFuncR type="table" tableValues="0.098 0.1 0.103 0.105 0.108 0.11 0.113 0.115 0.118 0.12 0.123 0.125 0.127 0.13 0.132 0.135 0.137 0.14 0.143 0.146 0.15 0.153 0.156 0.159 0.162 0.165 0.168 0.171 0.174 0.176 0.176 0.176 0.176 0.176 0.176 0.176 0.176 0.176 0.176 0.176 0.176 0.176 0.176 0.176 0.176 0.176 0.176 0.176 0.176 0.191 0.205 0.219 0.234 0.248 0.262 0.277 0.291 0.305 0.326 0.357 0.387 0.418 0.449 0.479 0.51"/><feFuncG type="table" tableValues="0.216 0.225 0.235 0.245 0.255 0.265 0.275 0.284 0.294 0.304 0.314 0.324 0.333 0.343 0.353 0.363 0.373 0.383 0.394 0.405 0.415 0.426 0.437 0.448 0.458 0.469 0.48 0.491 0.501 0.514 0.534 0.555 0.575 0.596 0.616 0.636 0.657 0.677 0.698 0.717 0.735 0.754 0.772 0.79 0.809 0.827 0.846 0.864 0.882 0.888 0.895 0.901 0.907 0.913 0.919 0.925 0.931 0.938 0.941 0.941 0.941 0.941 0.941 0.941 0.941"/><feFuncB type="table" tableValues="0.863 0.858 0.853 0.848 0.843 0.838 0.833 0.828 0.824 0.819 0.814 0.809 0.804 0.799 0.794 0.789 0.784 0.774 0.763 0.752 0.741 0.731 0.72 0.709 0.699 0.688 0.677 0.666 0.656 0.642 0.615 0.589 0.562 0.536 0.509 0.482 0.456 0.429 0.403 0.381 0.363 0.344 0.326 0.308 0.289 0.271 0.252 0.234 0.216 0.21 0.203 0.197 0.191 0.185 0.179 0.173 0.167 0.161 0.157 0.157 0.157 0.157 0.157 0.157 0.157"/></feComponentTransfer></filter><filter id="hbb" x="-5%" y="-5%" width="110%" height="110%"><feGaussianBlur stdDeviation="2.2"/></filter><filter id="wgb" x="-2%" y="-2%" width="104%" height="104%"><feTurbulence type="turbulence" baseFrequency="0.08" numOctaves="2" seed="12" result="t"/><feDisplacementMap in="SourceGraphic" in2="t" scale="2.5" xChannelSelector="R" yChannelSelector="G"/><feGaussianBlur stdDeviation="0.3"/></filter></defs>
<g clip-path="url(#clipb)">
<g transform="rotate(25 1266.5 253.2)"><rect x="972.2" y="-41.2" width="588.6" height="588.6" filter="url(#colb)"/></g>
<use href="#eb" fill="none" stroke="#30e840" stroke-width="7" stroke-opacity="0.68" filter="url(#hbb)"/>
<use href="#eb" fill="none" stroke="#000" stroke-width="2.3" stroke-linejoin="round" filter="url(#wgb)" shape-rendering="crispEdges"/>
</g>
<defs><clipPath id="clipc"><rect x="87" y="460" width="467.7" height="365.0"/></clipPath><path id="ec" d="M200 468l-13 0 1-2 10-9M200 468l15-6-1-2-4-3M234 457l6 4-5 3-14 1-6-3M226 457l-12 3M84 511l3 2-3 2M86 499l-2 1M90 503l-4-4 1-1-3-1M90 503l4 8-7 2M170 463l5-6M170 463l18 3M254 457l-5 4-9 0M221 465l-3 7-16-3-2-1M128 491l10 6 7-3 1-7-1-1-10 0-7 5-8 1-6-8 4-5 11 0 6 7M144 470l14-1 11 5-3 2-3 1-12 3-11-6 4-4-11-5-17 8 2 6M129 479l11-5M145 486l6-6M182 473l-13 1M182 473l5-5M170 463l-5 0-7 6M159 487l-13 0M159 487l4-10M182 480l4-4-4-3M173 485l9-5 4 4-2 3 8 3-5 6-13-1-1-1 4-5-4-4-7-9M114 484l-7 2-5 7 4 1 12-2 2 0M89 528l14-7-2-7-7-3M84 524l5 4 0 1-5 3M135 501l3-4M135 501l7 3 11-1 6-2-6-7-8 0M156 457l9 6M368 463l-16 4-2-6 7-4M368 463l-2-5-3-1M386 469l-9-5-2 2-11 9 12 2 10-8 6 1 3-2 4-7-9-3-4 2-9 4M361 477l-9-10-14 3-3-5 8-4 7 0M361 477l3-2M368 463l7 3M369 457l-3 1M386 460l-4-3M436 544l26 10-33 14-18-4-6-13 31-7 11-10 17-2 9 6-9 16-2 0M376 477l4 5 16-4-4-8M417 504l-12 6-16-6 10-12 2 1 15 4 1 7 18 2 10-5-9-10-20 6M395 468l12 0 6 4-5 7-12-1M282 535l-3-4 14-10 23 5-3 8-10 5-21-4-12 9-14-2 5-12-20 4 1 5 10 4 1-1 3 0M345 494l13 8 8 1 9-14 0-1-24 0-2 1-4 5-14 7-3 3 2 5 18 3 10-10M380 482l-5 6M361 477l-9 4-1 7M408 479l5 5-12 9M399 492l-24-3M389 504l-8 2-15-3M249 461l7 9-9 1-9-3-3-4M218 472l10 1 10-5M435 576l26-2 11-11-7-10-1 1M435 576l-6-8M202 469l-2 7 10 1 8-5M186 476l11 3 3-3M103 500l3-6M102 493l-8 0-7 5M90 503l13-3 8 2-8 10 17 0 3-10-4-2-8 2M147 457l-13 5-10-5M134 462l-1 3M101 539l-17-1M101 539l-3 8-14 0M84 551l4 5-4 0M89 529l18 6 9-4 2-6-15-4M101 539l6 0 0-4M101 514l2-2M121 523l-3 2M124 513l-3 10 13 0 8-6-3-6-15 2-4-1M135 501l-12 1M142 504l-3 7M118 492l1 8M173 494l-13-4 0-2 13-3M184 487l-7 2M159 501l9-1 6-5M153 494l7-4M159 487l1 1M116 531l18 5 1 4-14 4-14-5M134 523l10 5-10 8M426 483l-13 1M426 483l12 5-2 3M427 523l-22-6-14 4-5 14 12 6 29-18 6-1 14 12M405 551l-7-10M375 517l6-11M405 510l0 7M375 517l16 4M399 461l15-1-1 0-6 8M431 472l-8-1 0-8 7-1 14 2-13 8 2 5-7 6M413 472l10-1M413 460l10 3M413 458l1 2M413 458l6-1M432 457l-2 5M190 497l-3-1M190 497l-2 9-11 1-9-7M220 540l8 1 14-2M234 533l7 1M234 533l-14 7-5-2-5-2-1-6 4-2 5-1 7-8-2-3-12 0-3 2-13-5-7 2-5 4 6 4 16-1 3-4M228 541l-1 4 9 4 16-6M375 517l-22 5-5-10M313 534l32 9 10-6-2-15-34 3-3 1M355 537l31-2M174 568l7-3 0-11-17 2-7 7 6 2 9 3 2 0 14 4 0 2-9 6-10-2 3-10M142 561l15 2M132 570l10-9-6-5 5-3-2-11 14-3 16 5-10 7-18 2M132 570l17 4 14-9M256 470l4 0 13-6-4-7M319 525l5-12 6-4M198 495l7 5 0 4 1 1-7 3-11-2M190 497l8-2 5-2 10 1 2 1-10 5M226 487l-5-4-7 5 2 2 7-1 3-2 6 0-1-4-9-3-9-2-3-1M228 473l0 3-6 4-1 3M536 804l-20-2 0-7 12-2 16 3-1 9-7-1-1 11 12 0 11 3-1 1 1 0M533 562l21-5 3-5-16-4-20 4 12 10-5 8-30-3-4 9 20 7 14-12 0-1M558 560l-4-3M557 552l1-1M106 471l4-14M106 471l-9 1-11-5 8-10M116 473l-10-2M84 468l2-1M95 483l-2-2-9 0M95 483l-6 7-5 1M107 486l-12-3M97 472l-4 9M94 493l-5-3M98 549l-1 4 10 4 13-4-4-4-18 0 0-2M88 556l0 1 9-4M121 544l-5 5M177 507l-2 2-13 8-9-14M142 517l18 0 2 0M202 490l7-5-2-1-8-1-1 0-3 6 7 1 1 3M214 488l-5-3M216 490l-3 4M192 490l3-1M186 484l12-1M213 478l-6 6M197 479l2 4M433 522l2-2 29-8 5 2 3 12-8 6M435 506l0 14M479 502l-16 6-13-7 21-10 3 1 5 10 9 0 0 8-19 4M464 512l-1-4M445 501l5 0M455 484l-17 4M455 484l16 7M489 488l12-6 13 6-11 8-14-8-16 1 8-11 10-3 1 0 7 6 2 1M488 502l14-3 1-3M473 489l1 3M510 471l-18 4M508 463l-7 0-9 1-3 3 2 8M510 471l-2-8 16-4 6 1-5 11-8 1-7-1M463 466l-12 4 1 5 5 2 15-3 1-5 0-1-10-2 3-8 11 3-4 7M481 478l-9-4M489 467l-16 2M455 484l2-7M444 464l1 0 6 6M433 477l19-2M390 458l1-1M413 458l-1-1M229 555l6-4 1-2M229 555l-8-1-6-6 12-3M345 543l1 4 18 9 41-5M374 613l-9 14 18 5 3 0 14-16-1-2-25-1-6-2 8-12 3 1 23 1-3 13M311 457l2 1 1-1M274 476l-11 2-6 2 12 4 5-2 0-6 5-3-6-8 0-1M260 470l3 8M313 458l-2 4-16-2 0-3M273 465l16-4 6-1M311 462l2 0 10 0 5-5M279 473l7 0 9-4-6-8M313 462l0 3-16 6-2-2M293 521l2-1 10-9 19 2M247 471l0 3-12 2-7 0M257 480l-8-1-2-5M94 801l0 7 12 0-1-8 2 1-13 0-1-1-9 2M84 807l8 1 2 0M120 792l-15 2-4-1 1-4 3-3 15 6 1 0 2 2-7 5-11 1M107 801l-2-7M93 800l-1-3 9-4M102 789l-13 0-3 5 6 3M86 794l-2 1M130 804l8 3 8-4 5-4-7-4-8 4-6 5-4 1-6-1-10 4 1 3 12 1 3-7M116 799l4 5M106 808l4 0M123 794l13 5M106 816l-12-1-2-2 0-5M106 816l5-5M94 815l-7 6 1 1 11 2 9-4-2-4M88 822l-4 5M99 824l0 4M123 812l6 2 8 1 1-8M92 813l-8 2M87 821l-3 0M484 804l1-1-13 14 20 0 13-9-21-4 13-9 14-2 0-10-6 0-14 4 6 8M534 786l-6 7M529 780l-18 3M534 786l-5-6 3-5 22 2 2 0-7 8-15 1M516 795l-5-2M512 807l-7 1M516 802l-4 5 6 10-13 5-9-2-7 6-16 1 0-1-3-11 2 2M496 566l-24-3M465 553l29-5 13 5-11 13 2 1M473 538l23-1-2 11M509 522l-11 3-4-1 2-11 14-5 11 6-12 8 20 7-7 5 0 3 19 4 13-6-1-5-18-3-6 2M488 510l8 3M472 526l22-2M514 501l-4 7M502 499l12 2 0 1 21 1-3 8-7 5-4-2M496 537l3-1-1-11M499 536l23-2M516 552l-9 1M516 552l6-15M521 552l-5 0M541 548l0-7M558 537l-4-2M558 528l-5 2M558 518l-10-1-12 6-1 4M536 523l-11-7M175 522l-15-6-11 11 12 3 6 1 8-9 8-3M160 517l0-1M144 528l5-1M199 508l-4 5M175 509l13 6M213 528l-8-6M135 540l4 2M161 530l-8 9M126 557l-6-4M126 557l10-1M171 533l1 11-3 0M171 533l-4-2M164 556l-5-5M126 557l-7 7 6 6 3 0 4 0M87 557l1 0M87 557l-3 2M532 775l-1 0-18-4-8 8 0 4M121 792l11-6 14 4-2 5M84 756l9 3-7 4-2 0M558 575l-11 1-1-1 12-9M501 463l-2-6M492 464l-11-4 3-3M477 461l4-1M499 481l15-3 3-6M514 488l5 0 3-6-8-4M524 459l-1-2M189 523l2 6 18 1M233 530l-15-3M234 533l-1-3 11-8 17 8 7-1 11 2M171 533l14-2 6-2M185 531l5 7-18 7 0-1M210 536l-17 3-3-1M379 600l0-11-17-6-13 8 2 6 25 2M416 588l-20-6-17 7M416 588l-9 12-5 1M430 585l5-9M430 585l-14 3M411 564l-15 9 0 9M375 641l8-9M375 641l1 1 15 0 10-7-15-3M280 501l-15 2-4-6 16-4 3 8 1 2 13-4 10 2 1 1-5 4-16 4-3-7M295 520l-15-6-12 4 0 11M183 620l9 1-3 12-11 0-12-4-1-1 18-8-7-4 19-7 7 3 13-4 2 12-10 2-13-1 8-9M147 587l4 11-3 1-17-3 6-8 10-1 15 0 5 2-4 4-12 5M149 578l14 3 6-3M149 574l0 4-14 7-10-6-16 4-2 3 7 3 21-3 0-1M352 481l-17-5 0-5 3-1M323 462l12 3M313 465l7 5 15 1M305 475l7 2 8-7M297 471l8 4-7 3-11 0-3 2 4 6 10 1 0-9M274 482l10-2M269 487l6 2 13-3M269 487l0-3M286 473l1 5M278 493l-3-4M278 493l14 0 11-5-5-1M305 488l10-8 9 3 6 3-11 6-4 0-10-4-2 0M312 477l3 3M349 489l-19-3M331 501l-12-9M335 476l-11 7M305 511l-5-5M280 514l-1-3 5-1M328 504l-23-2M315 492l-11 9M292 493l2 6M277 493l1 0M211 516l3-7 0-3-8-1M235 476l1 5-5 2M249 479l-6 4-7-2M108 820l2 0 6 6-5 2M129 814l-3 4-16 2M139 827l1-6-14 1-1 5 0 1M139 827l-7 1M137 815l3 0 3 3-3 3M126 818l0 4M116 826l9 1M558 809l-7 2-4 4M546 804l10-1 2 0M546 804l5 7M543 805l3-1M544 796l5-1 9 4M556 803l2-2M549 785l6 4-6 6M492 817l4 3M489 826l2 2M505 828l2-1-2-5M485 803l-6-2-16 1-10 4 11 9 6 0M491 787l-5 1-9 4 2 9M463 802l-2-6 2-1 11-2 3-1M555 789l3 0M86 589l9-2-5-10-6 2M86 589l-2-1M86 589l-2 4 9 4 21-5 0-3M102 574l3-10-4-2-5 2-9 2 0 4 6 5 9-1 1-1 22-3M119 564l-14 0M84 571l3-1M90 577l3-2M107 557l-6 5M84 565l3 1M87 557l9 7M556 769l-7-4 5-7 4 1M556 769l2 0M554 777l2-8M538 768l11-3M538 768l-7 7M118 773l-3 0-3 9 18 1 4-6-16-4 6-8-20-1-1 4-14 2-5 2M107 772l8 1M107 772l-12 8 9 4 8-2M132 786l-2-3M105 786l-1-2M93 779l-9 8 5 2M93 779l-9-5M95 780l-2-1M107 772l-4-4M89 770l-3-7M361 628l4-1M361 628l-5 6 5 8 14-1M95 587l12-1M103 573l6 10M128 570l-3 9M117 597l-3-5M137 588l-2-2M131 596l-5 3-9-2-10 6-5 1-9-4-9 3 3 5 8 0 7-4M162 587l1-6M84 747l4-2 4-14-8-1M146 790l16-5-9-13-5 2-14 3M93 759l6-1 5 6M100 717l-16 3M100 717l-9-11-7 1M558 652l-3-2 0-3 3-1M379 651l2 4 11-1 7-5 2 1-10-3-12 4-7-3-11 1-9 5-1 0 11 4 1-2 9-8 4-6M461 574l13 10 20-8M546 575l-18-4M495 627l-25 3 0-2 6-14 22 0-3 13 8 2 26-5 6 1 2-3 17-11-13-10-7 2-12 11 7 10M498 614l0-2 24 2M401 650l14-12-4-4-10 1M391 647l0-5M466 634l4-4M470 628l-21-5-12 2 4 12 25-3 6 7 16 0 15-7 0-5M467 611l-13 3-5 9M476 614l-9-3 2-5 15-11-12-9-25 8-2 5 24 7M557 635l1 6M557 635l1 0M535 625l-1 13 23-3M537 622l21 5M551 587l-6 13 13-1M551 587l7-1M543 585l4-9M543 585l8 2M541 601l4-1M554 611l4 0M445 464l4-5 15-1 2 0-2 0M449 459l-3-2M558 463l-12 1-1 3 13 2M558 508l-4-1-8 6 2 4M546 513l-14-2M522 482l9-5-3-5-3-1M543 461l-13-1M543 461l3 3M545 467l-1 3-16 2M543 461l5-4M186 555l14-1 7-3-3-5-8-2-11 5 1 6-5-1M194 563l8-7-2-2M181 565l13-2 5 4 1 2-12 3M172 545l13 4M193 539l3 5M215 548l-8 3M215 538l-11 8M200 569l7 3-4 3-9 2-6-3M267 600l5-1-6-7-12-1-4 3 0 3 6 2 11 1 2 10-4 0-3 5-16 3 3-8 2-2 14 2M326 616l-7-2-17 8 2-2 4 2 10 1 8-7 7-1 15-4 2 2-1 11-8 3-7-5-1-7M349 591l-16-2-9 4 3 10 15 0 9-6M339 577l-8-7 6-4 25-2 0 9-3 2-20 2-7 4 1 8M362 583l-3-8M364 556l-2 8M321 555l16 11M346 547l-25 8-4 3-6 4 14 10 6-2M396 573l-34 0M279 511l-19-1 0-2 5-5M261 497l-1 1-13 4 4 3 9 3M192 621l2 0M162 626l-16 7 2 1 11 4 7-9M162 626l3 2M176 616l-12-6 1 1 7-8 17-1 7 1-1 6M162 626l-11-5 13-11M172 603l-2-5-7-5M148 599l0 7 17 5M146 633l-11-3-2-1 2-2 5-6 11 0M170 598l15-5 0-1 4 10M167 589l4-1 14 5M179 580l0 4-8 4M217 594l-12 2-2 2 12 3 10-3 1-1-9-3 0-2 12-5 7 4-10 6M241 593l9 1M235 602l15-5M235 602l-10-4M236 591l5 2 4-10 12 2-3 6M229 608l4-3 2-3M229 608l-12 1-2-8M217 609l-2-1M196 603l7-5M343 461l-2-4M322 828l-2 0M163 800l-12-1M146 803l8 8 5-1 4-10 5-3 8 8-6 5-4 0-7 0M140 815l10-3 4-1M139 827l1 1M172 826l6 2M172 826l-4 2M556 777l2 0M453 806l-4 0 0-9 12-1M448 821l16-6M432 815l7 6 6-1 3 1 6 7M432 815l11-9 6 0M433 778l-6-2-12 11 0-1 20-3-2-5 14-2-5-7-9-1-4-4 3-3 12-2 2 9-4 1M415 787l-8-4 6-8 14 1 2-4 4-4M473 826l-10 2M529 818l14 7-2 3M529 818l1 0-12 10M535 815l-6 3M557 819l-14 6M518 817l12 1M507 827l5 1M473 827l0 1M85 625l-1 0M85 625l-1-1M86 614l-2 1M89 616l5 3-1 5-3 1-5 0M89 616l-3-2-2-1M85 634l-1 0M85 634l-1 2M89 631l1-6M89 631l-4 3M89 631l10 1 2 6-15 5-2-1M106 640l11-6 7 0 1 5-9 6-5-1-5-4-5-2M503 634l12 6 17-3 2 1M555 647l-21-4-2-6M555 650l-11 5-17-4 7-8M477 764l12-3 1 5-7 4-6-6-1 1-7 6 1 4 3 0 10-2 8 2-1 2-7 4-8 0-2-6M392 654l2 6 0 1-16 1 0-4 3-3M336 631l-13 0-3 4 9 4 11-3-4-5 5-4M93 597l0 3M95 611l-6 5M84 610l3-2M95 611l0-3M95 611l12 2-2 3-11 3M107 603l5 6-5 4M92 731l8 0 17 4-14 11-15-1M99 758l12-5 20 9-7 3M103 746l7 7 1 0M126 747l-16 6M131 762l2-1 7-9-14-5 7-6-7-7-9 1M148 774l-5-10-10-3M91 706l2 1-7-11-2 0M432 643l9-6M431 645l30 5-1-2 12-7M431 645l1-2-17-5M406 658l4-5 19-5-2 1-10 12-11-3-12 2M399 649l11 4M432 665l8-6-13-10M425 666l7-1 14 3 12-4-9-5 12-9M425 666l-8-2 0-3M431 645l-2 3M449 659l-9 0M443 612l11 2M439 602l4 10-7 3-3 9-14 1-8-7 10-4 15 1M439 602l6-3M474 584l-2 2M430 585l17 9M407 600l25 3 7-1M493 596l8 6 24-3-1-12-9-3-22 12-9-1M498 612l3-10M514 583l1 1M534 603l-9-4M543 585l-19 2M411 634l8-9M437 625l-4-1M400 616l11 2M432 603l-11 11M467 457l-1 1-1-1M221 567l6-1 0-3-11-3-3 0-4 4 13 3-1 0 16 4 6-2-1-2-3-3-12 2M199 567l10-3M207 572l9-1 6-4M221 554l-5 6M229 555l3 2-5 6M202 556l11 4M256 599l-5 9M233 605l16 5M262 615l5 4 13-3-8-8-3 2M280 616l1 0 16-7-1 0-13-3-11 2M319 614l-2-7-11-3-10 5M297 609l5 13M203 575l7 4 11-1 1-2-6-5M303 539l-7 9 2 1 19 9M270 544l4 0 22 4M308 622l-1 6 3 1 10-1 2-2-4-3M368 611l-18 2M342 603l6 8M361 628l-12-4M327 603l-10 4M322 626l12-4M323 631l-3-3M356 634l-12 1-4 1M332 581l-11-2-6 6-1 7 10 1M325 572l-5 1 1 6M285 557l13-8M311 562l-11 4-12 0-3-9-20 0-2-3-10-3-9 3-2 5 1 0 20 1 2-3M269 487l-9 2-4 5 4 4M257 480l-6 6 9 3M223 516l7-3 0-3-16-1M227 503l5 6-2 1M214 506l13-3-1 1-6-4-15 4M241 520l4 1 12-5 1-4-13-1-5 3 1 6-16-1M244 522l1-1M230 513l10 1M268 518l-11-2M234 508l-2 1M244 508l1 3M244 508l-10 0 4-7 6 0 3 1M260 510l-2 2M251 505l-7 3M207 584l-11 0-4 1 0 7 6 0 10-5 2-1-3-2 3-5M194 577l2 7M221 578l2 5-13 3M205 596l-7-4M217 592l-9-5M185 592l7 0M179 584l13 1M229 587l-3-1-3-3M215 495l6 1-1 4M223 489l4 3-2 5-4-1M256 494l-12-1 0 8M226 504l6-4 6 1M225 497l7 1 0 2M363 826l-9-2-6 4M363 826l-1 2M322 828l4-2 13 0 3 2M157 817l5 1 3 3-3 4-10-1-4-5 9-2-7-5M166 810l-4 8M143 818l5 1M147 828l5-4M166 828l-4-3M165 821l7-3 5-4-7-4M172 826l6-4-6-4M194 788l0-2-2-3-23 1-2-1 5 10 7 0 15-5 8 4-4 8-7-2-7 6-8 1M168 797l4-4M191 798l-12-5M162 785l5-2M171 767l-18 5M178 775l-6-8-1 0-4-11 4-1 16 3 2 3-3 4-14 2M178 775l-9 9M445 820l-6 8M432 815l-8-2-13 6 1 4 10 2 17-4M363 826l8-1 2 3M332 651l1 6-4 1-10 3-5-3 2-5 16-2-2-1 17-1 2-5-7-3-9 4-3 5M347 657l-14 0M347 657l-2 6-8 1-8-6M369 770l11 4 1 4-12 7-5-3 5-12-3 3-9-2-6-4 6-3 9-2 4 7-4 4M396 776l0 4-3 3-12-5M387 773l-7 1M387 773l9 3 4-1 11 0 2-7 3-2-5 1-9 2-2 6M427 755l-4 0-5 4 2 4 9 1M432 761l-5-6 9-3 9 8-1-1M349 782l15 0M341 789l-2-3 10-4-1-8 9-3M341 789l20 5 8-7 0-2M333 794l8-5M333 794l7 7 13 1 6-2 2-6M393 783l-7 6-17-2M443 806l-13-3 7-8 9-1 3 3M435 783l1 0 2 3-5 8-21-2 3-6M407 783l-11-3M386 789l4 4 22-1 2 11-21 0-9 8-6 9-6 1-1 4M413 775l-2 0M429 772l-16-4M400 766l2 3M388 770l12-4-2-5 10 1 3 5M388 770l-1 3M408 762l10-3M420 763l-4 3M498 767l-8-1M483 770l0 3M498 767l1 2-8 6M505 779l-15-2M514 771l-5-2-10 0M513 771l1 0 11-9 6 0 7 6M486 788l-3-7M111 626l-2 3-8-6 8-5 8 2 2 4-8 2 6 8M99 632l10-3M124 634l9-5M135 627l-16-3M93 624l8-1M105 616l4 2M135 630l0 8-2 2-8-1M148 634l-4 6-9-2M116 645l7 1 10-1 0-5M444 695l4 11 18-7 1-6-10-2-13 4-8-3-13 5-7-3 0-9 12-5 1-4 15-3 12 4 0 3-18 5-10-5M558 659l-3 2-11-5 0-1M558 662l-5-2 2 1M515 640l-6 8 17 2 1 1M488 641l2 11 19-4M479 657l-19-9M479 657l9 0 2-5M498 767l5-6-12 0-2 0M473 764l3-6-3-3-12 1-5 2 6 5 11 1 3 1M488 758l-12 0M491 761l-3-3 1-4-7-4-5 1-4 4M469 771l-10-2-2-3 5-3M470 745l-2 0-4 3-3 8M470 745l7 6M531 762l8-7 11 1 4 2M320 635l-8 5 4 6 10-4 3-3M316 653l-4-3 4-4M326 642l7 3M344 635l-2 6M361 642l-4 2-8 0M347 649l5 5M357 644l4 5M378 658l-15-2M347 657l4-3M220 744l1 0 15 2 3-8-11 0-8 6-12-3-3 1-2 8 10 1 4-1 4-6M124 616l-9-8 11-4 16 4-8 6-10 2-7 4M112 609l3-1M140 621l-6-7M148 606l-6 2M126 599l0 5M143 764l21-8 3 0M86 643l3 7 2 2 7 1 6-2 7-7M89 650l-5 1M86 696l2-2-4-7 9-3-3-7 10-1 9 3-7 7-9-2M120 683l-5 7 4 1 12-3 5-1-2-6-14 2-2-3 9-4 9 0 2 3-4 2M119 691l-1 5 9 2 5-4-1-6M100 692l5-3 10 1M100 692l6 7 12-3M88 694l12-2M93 707l12-4 1-4M479 657l-13 7-8 0M304 620l-4 1-16-2-3-3M314 592l-11 3-2 1 5 8M222 576l9 1 6-6M226 586l12-5-7-4M292 578l1 7 3 2 12-5-1-5-5-2-12 2 2 1-18 4 0-5-13 1-2 5 14 1 1-2M300 566l2 9M288 566l-7 2-1 4 10 5M303 595l-7-8M315 585l-7-3M320 573l-13 4M241 486l-3 1-2 4 1 2 8 2 1-7-5-2 2-3M232 487l6 0M251 486l-5 2M244 493l1 2M227 492l9-1M232 498l5-5M229 608l5 11 5 1 7-2M217 620l10 2 7-3M215 643l-10-8 4-2 15-4 7 5-8 12-8-3-16 5 2 6 6 2-6 4 6 9 13-5-9-8-4 0M227 622l-3 7M207 622l2 11M189 633l12 2 4 0M174 679l-7 7-15 0 1-7 13-2 8 2 6-1 11 3 4 8-4 2-22-1-1 0-1-4M149 687l-13 0M149 687l3-1M153 679l0-1-15 1M189 669l-8 4-1 5M189 669l18 1-2 2-14 9M178 633l-3 7-8-1-7 0-1-1M328 820l-2 6M328 820l-9-5-6-1-9 10 4 4M178 775l10 0 5 1-1 7M194 786l14-5 2-3-4-2-13 0M286 774l-5-6-15-1-6 5 9 9 3-1 14-6 11-1 2-7-6-3 3-4 10 0 2 3-9 4M240 824l-2 4M240 824l-7-2-16 6M383 765l5 5M383 765l-13 4M345 663l2 2 10-1 5-6M337 664l-4 3 3 5 6-1 5-6M319 661l0 8 14-2M312 671l2 0 5-2M312 671l-13-3 0-6 15-4M417 664l-11 4-12-4 0-3M387 670l6 5 8 1 5-8M394 664l-7 6-8-2-4-4 3-2M424 674l-23 4 0-2M425 666l-1 8 5 2M423 755l-3-1-12 5 0 3M341 818l4 4 9-1 8-1-2-7-5 0-13 2-1 3-13 2M339 826l6-4M319 815l14-8 9 8M353 802l2 11M333 807l1-1 6-5M354 824l0-3M372 821l-10-1M388 828l2-5-12-3M411 819l-10-1-11 5M412 823l-9 5M360 813l15-3 9 1 15 4 14-12 1 0 16 0M359 800l14-1 2 11M390 793l-6 5-11 1M474 793l-7-6 3-3 5-3M463 795l-6-5 10-3M446 794l7-5 4 1M437 795l-4-1M438 786l14 2 1 1M460 778l-6-4-6 1-1 6 7 2 6-1 0-4 10-3M459 769l-5 5M470 784l-10-2M452 788l2-5M436 783l11-2M447 776l1-1M457 766l-11 2M491 716l3 3 17-4 8-8-11-4-13 4-4 9-18 0-4-3 8-11 7-1 11 6M529 705l8 7-18 5-8-2M529 705l-10 2M473 716l-5 7-19-1 7-9 13 0M456 758l-5-1 1-7 12-2M445 760l6-3M550 756l3-5 5-1M558 705l-1 0 1 0M248 759l-6-1-3 2 7 3 5-2-3-2 5-4-2-2 6-4-5-4-11 1 5 5-5 3-9 1-4-1 7-7 6-1M251 753l-5-2M239 738l5-1 9 2-1 6M236 746l-1 1M217 750l8 3 3 1M242 758l-1-4M239 760l-7 1 0-6M213 751l-1 4 9 1 4-3M196 752l-9 6M196 752l-6-2-18 1-1 4M196 752l7-2M190 750l5-6 10-2M172 751l0-6 3-2 15-2 5 3M208 741l1-6-14-4-5 3 0 7M161 743l-10 5-6 0-4-7 11-3 5 2 4 3 11 2M164 756l-13-8M140 752l5-4M133 741l8 0M84 680l6-2-6-5M84 660l7-8M84 663l15 2 2-6-3-6M97 667l-13 5M97 667l2-2 12 1 2 5-10 4-6-8M181 673l-7-6 0-3 14-3 2 0-1 8M519 488l6 1 3 3-14 10M538 501l1-7 11-3 8 7M538 501l13 3 7-5M535 503l3-2M528 492l11 2M554 507l-3-3M294 630l-14 4-3-7 7-3 9 3 1 3-1-1 14-1M300 621l-7 6M284 619l0 5M262 627l5-8M262 627l15 0M283 603l13-7-13-3-13 6 13 4 0 3M301 596l-5 0M272 599l-2 0M282 587l11-2M282 587l1 6M275 587l7 0M275 587l-9 5M232 557l10 2M239 564l4-5M235 551l9 3M242 567l20-4 1-3M253 542l0 9M274 544l-11 10M266 567l15 1M262 563l4 4-9 8-4 1-10-7M238 581l4 0 3 2M242 581l11-5M160 653l2-1 9-1 5 4-7 5-11 0 2-7-13 3-3 0 0-5 12-4-7-4-2 0-4 3 1 5-9 0 0-6 8 1M190 661l11-1M207 670l0-1M213 706l-2 2 17 2 2-3-7-4-10 3-7-6-4 1-10-6-1-4M215 674l-10-2M195 689l18-4 6-2-4-9 16-3 6-5-5-4-12 2M206 700l10-7-3-8M265 635l-6 6-6 2-12-10 9-5 12-1 3 8 16 0 1 1-9 9-14-4M281 635l-1-1M231 634l10-1M239 620l11 8M160 639l-11 4M167 639l-10 7-1 1M144 640l3 3M135 645l-2 0M186 765l3 2 2 4-3 4M422 825l0 3M240 824l21-1 1 0-2 5M282 828l1-5-21 0M304 824l-21-2 0 1M281 768l3-4 9-1M314 766l-15 7-2 0M314 763l0 3 10 3 5-5 11-1 5 2-12 7-1 1-4-1-4-3M314 763l-6-1M249 773l-7-4 4-6M260 772l-11 1-4 2 1 6-12 3-7 0-1-8-1-2 20 1M251 761l3 1 11 4 1 1M321 755l-8 0-7 2 0 2M321 755l2 5-9 3M221 808l-1-7 13 2 7 3-6 5-13-3-10 5-11-4-9 2 0 2 1 9 1 0 13-1 5-4 0-4M261 823l-2-12-23 5-4 4 1 2M198 800l7 3 10-3 5-5-10-6-8 3M233 803l6-9-7-2-12 3M220 801l-5-1M208 781l9 5-7 3M177 814l14-1M178 822l14 0M190 828l3-6M211 828l-5-7M205 803l-5 6M184 804l7 7M232 820l-21-3M236 816l-2-5M466 699l11 3M456 713l-7-4-1-3-22-2-5-1 2-6M420 723l13 6-11 3-8-2-1-4 3-3 4 0 9-5 4 1 11 6-11 3 3 6 9 0 4-5-2-5-3 1M400 682l1-4M416 685l-16-3-6 4-9-1-12-1-7 4-9-4 0-4-2-2-3-4 14-4-6-3-1-1-12 5 3 2 2 1M446 668l-2 5M436 692l2-7M461 681l-4 10M461 681l-5-1M466 668l0-4M466 668l-10 9M466 668l17 4 0 4-15 5-7 0M299 668l-9 3-12-3 4-8 7 0 10 2M282 660l-20-1-6 6 12 5 10-2M385 764l8-2 4-6-13-2-2 7 3 3-2 1M398 761l-5 1M366 762l3-2 13 1M400 755l8 4M400 755l-3 1M339 753l1 1 4 3 10 1 4-4-2-4-17 3-1-1-13-2-4 5M400 755l1-3 0-4 18 3 1 3M413 726l-16 3-2-1 3-7 11 0 7 2M323 760l3-1 14-5M326 759l3 5M344 757l-4 6M302 776l-3-3M317 777l-15-1-7 8-3 2-14 1-6-7M317 777l11-5M348 774l-15-2M351 767l-6-2M354 758l3 6M317 782l0-5M317 782l7 2 9 0-1-11M339 786l-6-2M401 818l-2-3M424 813l-11-10M384 798l9 5M537 712l6 3 12-12-7-3-17 1-2 4M544 656l-8 7 12 2 5-5M558 668l-13 2 3-5M526 650l-6 6 13 6 3 1M422 732l0 4 10 1 4-3M433 729l0-1M449 709l-16 10M449 722l-2 2M458 731l13-3 4 0 3 2-3 6-13 2-1 0-3-7-9-2M468 723l3 5M448 737l-3-3M448 737l13 1M462 741l0-3M468 745l-6-4-12 5-6-5 0 2-8 2 4 6 9-3 1-2M482 742l-7-6M470 745l12-3 5-1 9-9 0-1-18-1M494 720l-19 8M494 720l5 9-3 2M494 720l0-1M539 755l-7-2-6-1-9 5 1 4 7 1M509 769l1-6 8-2M503 761l-1-2 8 4M514 747l1 1 11 4M532 753l2-9-12 1-8 2-5-1-3-4-14 3-1 3 7 3 11-5M558 692l-1 0-3 0-8-3 4-8 7-1 1 0-1 0M555 703l2 2M558 692l-1 0M548 700l6-8M290 653l-15-2 2-4 17-5 6 8-10 3-1 7M262 659l0-3 13-5M312 650l-12 0M288 638l7 5 12-5-3-3-6 0-10 3-6-2M273 645l4 2M294 642l1 1M293 629l5 6M312 640l-5-2M310 629l-6 6M269 781l-15 4-8-4M232 792l2-8M253 792l-14 2M254 785l-1 7 7 4-5 8 7 7 8-1 12-6-6-8-5-1-11 1M242 769l-12-1-5 3 0 3M217 786l10-2M210 778l16-2M265 737l-12 2M265 737l0-9-17-1-4 4 0 6M228 738l-2-5 7-4 11 2M209 735l10-6 7 4M238 714l-9-4-9 8 1 2 12 0 3 1 2-7 3-1 5-7-6-1-10 2M228 710l1 0M248 727l1-6-13 0M233 729l0-9M219 729l-4-5 6-4M232 761l-1 1-10-3 0-3M230 768l-3-3 4-3M196 752l2 4 3 6-12-1M212 755l-1 0-13 1M100 717l9 1-1 4-8 9M126 734l-1-10-17-2M195 731l3-7 5 0 12 0M190 734l-9-2-8 3 2 8M157 740l12-5 4 0M103 675l-3 1M90 678l0-1M118 680l-1-2-8 1M105 689l-3-3M123 646l1 6-6 3-14-4M135 651l-4-1-7 2M127 676l-3-7-7 2 0 7M117 671l-4 0M136 669l2 8-2-1M136 669l-6-1-6 1M550 491l0-2 8 0M537 480l7-5 10 4 2 2-5 6-14-3 0-4-6-3M544 470l0 5M525 489l12-5M550 489l1-2M558 474l-4 5M558 481l-2 0M257 585l2-2M257 575l4 3M275 587l-2-3M280 572l-6 5M136 669l8-3 6 6-12 5M153 678l-1-6 9-2 5 7M174 667l-13 2 0 1M152 672l-2 0M188 661l0-2 13-5M169 660l5 4M176 655l7 1 5 3M227 648l-16 8M227 648l-4-2M233 660l24-5-7-11-23 4 6 12-1 2M262 656l-5-1M253 643l-3 1M256 665l-6 3-13-2M266 676l2-6M266 676l-18 2 2-10M227 684l5 1 16 0 0-7-13-1-8 7-8-1M232 687l-12 8-4-2M232 687l0-2M231 671l4 6M228 698l13-5 4 4 1 2-6 2-12 0 0-3-8-3M232 687l9 6 8-6-1-2M223 703l5-2M240 705l0-4M262 695l-6-1-11 3M262 695l-4 7 1 0-13-3M258 704l1-2M248 708l-2-2M258 704l-10 4 8 4-2 2 2 3 9 4 4-3 3-5-9-4-7 3M260 687l-3-1 11-7 17 4-15 5-10-1-4 7M285 683l0 2 0-2 5-12M249 687l8-1M268 695l-6 0M268 695l2-7M266 676l2 3M285 695l-9 3-8-3M285 695l0-12M298 683l7-1 7-11M298 683l-13 2M206 776l1-2-5-3-11 0M225 771l-12-2-6 5M283 822l4-8 8-3 12-1 6 4M334 806l-16-3-4 0-7 7M333 794l-8 1-7 8M324 784l-7 10 8 1M317 782l-8 4-14-2M281 742l-12 0-1 3 8 4 6-5-1-2 4-4 0-1-8-2-12 3 0-1M265 738l4 4M257 749l8-3 3-1M253 755l6 0 2 3-7 4M265 746l0 7-6 2M265 766l8-5-12-3M303 753l5-3-7-2-4 2 1 4 5-1 3 4M313 755l-4-5-1 0M386 727l9 1M392 717l6 4M392 717l-9 3 0 4 3 3 0 2-13 1-3-1 2-4-5-2-10 5 3 1 10 0M429 718l-8-5 5-9M409 721l2-6 10-2M357 664l2 2M342 671l5 0M375 664l-15 3M310 704l-10 1-2-2 3-3 7 1 2 3 6 1 9-1 1-4-12-2-1-2-5-3 5-4 14-1 3-4-7-3 5-6 2-1 10 4-7 5-3 1M343 679l7-6M343 679l3 2 9-3M336 672l-6 2M343 679l-3-1M314 671l14 4M308 683l15-2M305 682l3 1 5 6M372 725l11-1M383 720l-6-2-10 4 0 1M434 745l-7-2-4 1-5 4 3 3 13-6 2 0M360 731l7 4 4-2 2-3M360 731l0-2M365 740l-5-1 7-4M365 740l10-1-4-6M550 681l-3-1-6-6 4-4M533 662l-2 3 6 6 4 3M531 674l6-3M531 674l-14 0-4-3 18-6M531 701l-4-7 2-1 17-4M508 703l-1-5 20-4M484 701l6-5 11 0 6 2M452 750l-3-2M436 752l4-1M421 751l-2 0M431 738l13 5M427 743l4-5 1-1M448 737l-4 4M508 738l13 2 1 5M508 738l-2 4M496 732l14 5-2 1M487 741l5 4M489 754l10-1-1-2M482 750l9-2M510 753l-13 0 8 6 6-2-1-4 5-5M499 753l-2 0M517 757l-6 0M502 759l3 0M543 715l0 1 8 0 7 0M536 730l-6-5-7 0-6 2 2 3 9 3 8-3 1 0 10-5-9-2 5-7M521 740l6-4 1-3M510 737l9-7M499 729l18-2M519 717l4 8M538 723l-8 2M534 744l3 0 1-6-11-2M553 751l-4-7-12 0M264 711l-6-7M264 711l7-5 0-3-13-1M276 698l0 1-5 4M265 728l2-1-2-6M249 721l7-4M241 713l13 1M264 711l-1-2M127 698l0 3-14 4-8-2M109 718l9-6-5-7M125 724l8-2 2-2-6-8-11 0M131 650l2 9 11-3M162 652l-5-6M158 660l-6 2-5-6M161 669l-11-7 2 0M144 666l5-3 1-1M117 662l10 4 6-4 1-4-16 2 0-2-1 4-6 4M130 668l-3-2M101 659l17-1M118 655l0 5M133 659l1-1M149 663l-16-1M198 647l-10 3-11-2 0-5 16-1 5 5 1 1M183 656l5-6M201 635l-8 7M171 651l6-3M175 640l2 3M201 762l0-1 8 0 2-6M189 767l12-3 0-3M202 771l1-6-2-1M240 806l15-2M259 811l3 0M287 814l-17-4M291 805l4 6M291 805l-9-1M278 787l-7 8M292 786l1 8-17 2M299 800l7 1 7-7-4-3-14 3 4 6-8 5M314 803l-8-2M293 794l2 0M317 794l-4 0M309 786l0 5M288 747l9 3M298 754l-5 0-11-2 6-5 1 0 5-4-4-4 9-4 8 3 0 2-1 4-5-1-7 0M296 759l-6-2 3-3M284 764l-4-4 10-3M309 750l5-3 3-1 8 1 0 3M325 747l7-5 11 2-5 8M357 749l-9-6-5 1M356 750l1-1 6-3 2-6M360 738l0 1M360 738l-11 6-1-1M322 735l-7 5 4 1 12 0 2-1-6-5-5 0-5-4-4-1-6 8M332 742l-1-1M317 746l2-5M285 738l5 1M285 737l7-7 7 2 0 3M282 744l7 3M301 748l0-5M315 740l-8 0M314 747l-8-3M393 713l8-2 6-3-12-7-11 9 9 3-1 4M411 715l-10-4M375 714l-1 1 3 3M381 709l-6 5-13-5-4 4 2 6 14-4M381 709l3 1M421 703l-14 5M327 688l1 3-15 5M291 729l0-3-10-4-9 4 7 4 12-1 1 1M277 735l2-5M267 727l5-1M284 719l-3 3M284 719l-15-1M357 684l-5 1-7-1 1-3M333 683l8 3 4-2M328 691l-1 2 3 3-4 4M341 686l0 4-14 3M349 691l-4 3-4-4M349 691l3-6M349 691l14 0 3-3M301 699l-9 0-3-2 10-5 5 1-3 6 0 1M308 701l6-3M308 693l-4 0M298 683l1 9M285 695l4 2M355 725l0-3 5-4 7 4M357 728l-2-3-6 2-2 4-6 2-2 3 7 2 7-2 0-3-6-2M360 719l-2-1 2 0M401 748l2-4 4 1 11 3M423 744l-6-5-10 6M414 730l-6 5 8 3 6-2M416 738l1 1M375 739l2 0-6 9-8-2M386 729l-3 10-6 0M529 685l-2-6-11 3-2 6 13 0 2-3 18-5M531 674l-4 5M529 693l-2-5M508 688l-7 8M508 688l6 0M513 681l4-7M513 681l3 1M501 679l5 4-5 3-11-4 1-1 10-2 3-10 6-1-1-6-20-4-1 13 16-2M502 686l6 2M502 686l-1 0M513 681l-7 2M513 671l-3-3M483 672l5-1M483 676l8 5M520 656l-11 6M488 657l1 1M488 695l2-5-3-5-9 1-4 7 14 2 2 1M502 686l-12 4M467 693l7 0M490 682l-3 3M468 681l10 5M551 716l1 8 6-2M552 724l0 1-5 0M558 727l-7-2 1 0M276 708l10-4 1 0 3 4-10 5-1 0-3-5-5-2M276 699l10 5M272 713l7 0M287 716l-2 1-1 2M287 716l-7-3M292 699l-5 5 11-1M129 712l4-2 2-6-8-3M211 708l-4 3-18-3 13-7M203 724l-2-8 8-4 11 6M207 711l2 1M169 690l-2 8 4 3 6 2 15-8M135 720l11-4 0-5-1 1-12-2M185 721l1-3-17 3 3 5 6 1 7-6 13 3M181 732l-3-5M169 735l-6-5 9-4M152 738l-1-8 4 0 8 0M126 734l19-5 6 1M133 722l9 2 3 5M214 767l-6-1 5-4 3 0 3 3-5 2-1 2M203 765l5 1M227 765l-8 0M209 761l4 1M221 759l-5 3M266 753l10 7 3-1 2-6-3 0-12 0-1 0M273 761l3-1M276 749l2 4M282 752l-1 1M280 760l-1-1M333 740l6-4M349 744l-3-6M360 738l-7-2M360 731l-7 2M379 676l-5 6-13-4 6-5 5-2 7 5 14-1M379 668l-7 3M357 680l4-2M373 684l1-2M366 670l1 3M349 697l-4-4-9 4 3 3 8 0 2-3 12 0 3-1 12-1 3 4-6 4-9 2-5-4 2-4M330 696l6 1M345 694l0-1M416 694l-19 2-3-10M395 701l-1-3 3-2M363 691l1 5M348 701l-1-1M348 701l11 0M385 685l-9 10M348 701l0 1 3 4 10 0 3-1M394 698l-15 1M381 709l-8-6M361 706l1 3M372 748l4 1 7 4-1 1-14 2-1-1 5-7-1 0M358 754l9 1M389 746l-13 3M390 751l-1-5 1-2-6-6 16-3 1 0 0 9-11 0M390 751l-7 2M369 760l-1-4M384 754l-2 0M401 752l-11-1M383 739l1-1M403 744l-2 0M397 729l3 6M408 735l-7 0M549 733l-5 3-1-2 11 7 4 0M549 733l6 0 3 2M537 730l7 6M551 725l-2 8M558 732l-3 1M538 738l5-4M549 744l5-3M156 700l-4 3-12-1 3-7 5-1 3 1 5 5 11-2M165 708l6-7M152 706l0-3M152 706l13 2-1 3 7 1-6 8-5 1-5-1-1-2 7-6 3-1M168 690l-17 5M152 706l-7 6M135 704l5-2M132 694l11 1M149 687l-1 7M171 714l12-6 7 0-4 9-2 0-13-3 0-2M201 716l-15 1M186 718l-2-1M189 708l1 0M177 703l6 5M155 730l5-9M169 721l-4-1M142 724l13-4M146 711l15 1M146 716l8 2M334 704l-8 0-1 0M334 704l5-4M299 732l3-2 11 0M349 727l-6-1 4-3 8-1M358 713l-14-2 0 1 7-6M348 702l-9 5 5 5M334 704l0 1 5 2M285 717l11 3 1 1-6 5M312 708l1 1-3 4-10 0-3-1-2-1 6-4 11 1 4-3M326 704l-6 5-7 0M300 705l1 2M296 720l4-7M287 716l10-4M290 708l5 3M327 735l4-5-9-1-5 2M341 733l-7-3-3 0M343 726l-5-1-4 5M344 711l1 1 0 6 13 0M338 725l-3-2 3-2 8-3 1 5M345 718l1 0M310 713l2 4-7 4-8 0M302 730l5-6-2-3M307 724l11 0-2-7-4 0M322 729l-2-4 4-1 11-1M320 725l-2-1M336 713l-7 4-8-2 5-5 5-1 5 4 9-1M338 721l-9-4-5 7M334 705l-3 4M320 709l6 1M316 717l5-2"/><filter id="colc" x="0" y="0" width="1" height="1" color-interpolation-filters="sRGB"><feTurbulence type="fractalNoise" baseFrequency="0.04 0.08" numOctaves="2" seed="7"/><feColorMatrix type="matrix" values="1.5 0 0 0 -0.15 1.5 0 0 0 -0.15 1.5 0 0 0 -0.15 0 0 0 0 1"/><feComponentTransfer><feFuncR type="table" tableValues="0.098 0.101 0.104 0.107 0.11 0.113 0.116 0.119 0.123 0.126 0.129 0.132 0.135 0.138 0.139 0.141 0.142 0.144 0.145 0.147 0.148 0.15 0.151 0.153 0.154 0.156 0.156 0.154 0.152 0.15 0.148 0.146 0.144 0.142 0.14 0.138 0.139 0.141 0.143 0.145 0.147 0.149 0.151 0.153 0.155 0.158 0.167 0.175 0.183 0.191 0.199 0.208 0.216 0.224 0.232 0.248 0.268 0.288 0.309 0.329 0.35 0.37 0.391 0.411 0.431"/><feFuncG type="table" tableValues="0.176 0.192 0.207 0.222 0.238 0.253 0.268 0.284 0.299 0.314 0.33 0.345 0.36 0.374 0.382 0.389 0.397 0.405 0.412 0.42 0.428 0.435 0.443 0.451 0.458 0.466 0.479 0.499 0.52 0.54 0.56 0.581 0.601 0.622 0.642 0.663 0.681 0.7 0.718 0.737 0.755 0.773 0.792 0.81 0.828 0.845 0.853 0.861 0.869 0.877 0.886 0.894 0.902 0.91 0.918 0.923 0.925 0.927 0.929 0.931 0.933 0.935 0.937 0.939 0.941"/><feFuncB type="table" tableValues="0.843 0.835 0.828 0.82 0.812 0.805 0.797 0.79 0.782 0.774 0.767 0.759 0.751 0.744 0.736 0.728 0.721 0.713 0.705 0.698 0.69 0.682 0.675 0.667 0.659 0.652 0.636 0.61 0.583 0.557 0.53 0.504 0.477 0.451 0.424 0.397 0.377 0.359 0.341 0.322 0.304 0.286 0.267 0.249 0.23 0.215 0.211 0.207 0.203 0.199 0.194 0.19 0.186 0.182 0.178 0.175 0.173 0.171 0.169 0.167 0.165 0.163 0.161 0.159 0.157"/></feComponentTransfer></filter><filter id="hbc" x="-5%" y="-5%" width="110%" height="110%"><feGaussianBlur stdDeviation="1.2"/></filter><filter id="wgc" x="-2%" y="-2%" width="104%" height="104%"><feTurbulence type="turbulence" baseFrequency="0.2" numOctaves="2" seed="14" result="t"/><feDisplacementMap in="SourceGraphic" in2="t" scale="2.5" xChannelSelector="R" yChannelSelector="G"/><feGaussianBlur stdDeviation="0.6"/></filter></defs>
<g clip-path="url(#clipc)">
<rect x="87" y="460" width="467.7" height="365.0" filter="url(#colc)"/>
<path d="M379 744h3M492 687h3M87 805h3M107 826h3" stroke="#1c3ad1" stroke-width="4" stroke-linecap="round" opacity="1"/>
<path d="M426 618h6M537 667h6M505 676h6M481 736h6M507 731h6M511 742h6" stroke="#1c3ad1" stroke-width="6" stroke-linecap="round" opacity="1"/>
<path d="M407 578h11M490 587h11M417 535h11M449 566h11M508 530h11M497 644h11M479 517h11M312 546h11M507 574h11M376 498h11M450 698h11M537 707h11" stroke="#1c3ad1" stroke-width="9" stroke-linecap="round" opacity="1"/>
<path d="M351 660h3M479 464h3M348 668h3M232 515h3M339 675h3M451 741h3M423 746h3M415 744h3M453 455h3M351 699h3M472 457h3M487 452h3M489 460h3M230 503h3M544 729h3M423 760h3M450 736h3M537 726h3M366 738h3M532 733h3M147 647h3M264 699h3M373 752h3M412 758h3M212 499h3M238 478h3M218 713h3M236 474h3M560 733h3M480 755h3M480 761h3M288 712h3M207 474h3M260 743h3M359 723h3M167 489h3M508 759h3M452 779h3M189 481h3M236 752h3M235 763h3M298 757h3M307 753h3M198 774h3M212 765h3M89 827h3M80 811h3M82 832h3" stroke="#2052c4" stroke-width="4" stroke-linecap="round" opacity="1"/>
<path d="M460 619h6M448 608h6M483 634h6M290 573h6M308 571h6M289 590h6M281 583h6M289 603h6M431 611h6M303 613h6M254 620h6M263 580h6M551 666h6M428 467h6M396 655h6M338 653h6M181 607h6M338 621h6M508 482h6M346 473h6M422 459h6M392 669h6M397 457h6M520 477h6M559 486h6M213 545h6M414 717h6M555 697h6M428 724h6M263 515h6M213 520h6M144 629h6M551 467h6M553 712h6M206 651h6M302 481h6M347 456h6M505 723h6M147 584h6M432 757h6M118 629h6M504 475h6M177 537h6M296 464h6M197 526h6M478 747h6M464 759h6M181 666h6M109 615h6M223 677h6M195 501h6M166 672h6M398 787h6M271 731h6M157 696h6M206 718h6M215 736h6M153 690h6M124 496h6M359 758h6M192 721h6M174 479h6M301 796h6M122 718h6M159 717h6M196 737h6M170 718h6M180 747h6M121 486h6M159 749h6M234 771h6M102 477h6M483 795h6M139 735h6M82 493h6M223 798h6M444 829h6M147 744h6M457 825h6M232 779h6M281 808h6M329 815h6M125 753h6M77 760h6M199 780h6M181 788h6M78 781h6M94 773h6M198 825h6M204 786h6" stroke="#2052c4" stroke-width="6" stroke-linecap="round" opacity="1"/>
<path d="M420 597h11M483 557h11M511 562h11M391 592h11M540 566h11M452 521h11M524 545h11M459 500h11M448 642h11M440 653h11M543 632h11M514 634h11M555 570h11M385 512h11M270 563h11M500 516h11M304 517h11M455 657h11M520 507h11M395 627h11M465 481h11M211 627h11M495 490h11M402 702h11M458 707h11M259 648h11M182 636h11M293 676h11M271 674h11M533 453h11M513 467h11M143 534h11M347 787h11M338 796h11M178 459h11M168 467h11M496 801h11M85 724h11M111 728h11M485 811h11M154 765h11M144 755h11M286 829h11" stroke="#2052c4" stroke-width="9" stroke-linecap="round" opacity="1"/>
<path d="M216 563h3M223 559h3M368 668h3M543 481h3M349 683h3M362 682h3M442 747h3M368 452h3M335 693h3M426 734h3M394 747h3M424 739h3M352 694h3M560 725h3M137 642h3M138 636h3M283 700h3M526 730h3M353 704h3M552 736h3M413 763h3M224 499h3M545 740h3M136 653h3M229 490h3M358 735h3M149 652h3M222 507h3M403 765h3M240 490h3M220 512h3M230 494h3M236 483h3M100 619h3M294 702h3M199 487h3M340 741h3M124 661h3M160 664h3M404 772h3M366 718h3M237 710h3M321 720h3M206 495h3M207 489h3M363 714h3M325 709h3M485 765h3M345 734h3M305 697h3M387 758h3M86 562h3M293 707h3M104 669h3M188 486h3M324 732h3M467 779h3M275 739h3M229 479h3M177 485h3M344 706h3M297 739h3M315 735h3M311 757h3M286 721h3M215 758h3M215 753h3M244 756h3M349 754h3M243 760h3M270 750h3M194 759h3M95 615h3M219 768h3M300 805h3M299 751h3M185 753h3M554 806h3M366 829h3M555 812h3M83 800h3M129 810h3M169 822h3M79 824h3" stroke="#2465b8" stroke-width="4" stroke-linecap="round" opacity="1"/>
<path d="M321 585h6M280 597h6M323 565h6M381 639h6M250 568h6M247 557h6M271 592h6M398 643h6M386 651h6M246 588h6M379 646h6M237 575h6M544 497h6M223 591h6M433 670h6M329 628h6M425 659h6M234 586h6M270 632h6M381 664h6M314 498h6M380 673h6M552 673h6M537 488h6M220 614h6M382 680h6M300 495h6M398 472h6M208 570h6M270 638h6M327 635h6M307 664h6M200 562h6M526 498h6M175 574h6M558 493h6M498 469h6M387 463h6M322 647h6M168 560h6M299 655h6M230 537h6M187 614h6M514 701h6M245 515h6M439 731h6M419 729h6M163 636h6M458 720h6M315 686h6M282 641h6M219 657h6M119 584h6M475 723h6M163 647h6M187 559h6M96 592h6M535 475h6M484 728h6M236 682h6M401 464h6M305 472h6M275 692h6M555 743h6M409 711h6M161 507h6M221 689h6M330 459h6M203 511h6M267 472h6M442 752h6M104 553h6M143 521h6M99 609h6M108 569h6M238 725h6M109 561h6M449 771h6M185 703h6M105 633h6M177 501h6M84 667h6M322 780h6M539 761h6M472 787h6M523 768h6M161 495h6M380 783h6M387 777h6M121 687h6M141 706h6M523 757h6M152 483h6M206 729h6M109 685h6M138 481h6M240 743h6M379 805h6M344 771h6M90 690h6M91 536h6M361 807h6M136 714h6M114 699h6M342 810h6M312 798h6M425 807h6M78 701h6M464 805h6M477 777h6M121 694h6M122 706h6M283 791h6M148 724h6M298 789h6M319 763h6M429 826h6M317 809h6M557 794h6M296 816h6M334 822h6M325 801h6M110 761h6M77 463h6M479 821h6M495 826h6M480 831h6M109 769h6M345 825h6M118 779h6M141 833h6" stroke="#2465b8" stroke-width="6" stroke-linecap="round" opacity="1"/>
<path d="M533 554h11M505 544h11M532 592h11M374 580h11M412 608h11M417 511h11M331 596h11M516 644h11M478 621h11M423 633h11M357 593h11M543 641h11M503 655h11M473 507h11M416 491h11M555 594h11M552 580h11M360 511h11M328 518h11M508 594h11M482 496h11M437 481h11M491 506h11M473 667h11M308 508h11M229 628h11M212 637h11M331 482h11M132 578h11M264 665h11M242 662h11M354 494h11M171 515h11M115 537h11M279 458h11M202 692h11M237 455h11M407 813h11M515 787h11M421 820h11M82 714h11M538 781h11M99 710h11M238 800h11M134 453h11M240 809h11M500 816h11M548 827h11M125 771h11" stroke="#2465b8" stroke-width="9" stroke-linecap="round" opacity="1"/>
<path d="M232 560h3M289 633h3M338 667h3M480 683h3M529 483h3M300 631h3M457 463h3M344 687h3M432 742h3M440 738h3M496 691h3M340 682h3M407 753h3M248 509h3M545 721h3M163 656h3M150 639h3M389 753h3M153 634h3M278 478h3M129 649h3M341 697h3M554 730h3M332 700h3M127 644h3M414 734h3M368 743h3M128 637h3M389 734h3M276 703h3M374 728h3M527 740h3M85 620h3M125 655h3M279 485h3M363 726h3M468 463h3M335 710h3M246 711h3M231 703h3M332 734h3M308 705h3M144 676h3M489 751h3M394 772h3M315 701h3M494 764h3M422 767h3M505 755h3M301 718h3M328 754h3M279 748h3M224 748h3M363 751h3M514 765h3M226 758h3M151 715h3M164 483h3M323 744h3M203 759h3M295 747h3M332 747h3M235 757h3M144 719h3M282 732h3M350 739h3M551 799h3M275 744h3M205 763h3M213 773h3M360 823h3M194 763h3M158 814h3M82 791h3M110 804h3M148 816h3M94 820h3M92 792h3M83 818h3M131 824h3M116 830h3M156 820h3" stroke="#2772ab" stroke-width="4" stroke-linecap="round" opacity="1"/>
<path d="M313 578h6M302 587h6M322 622h6M551 655h6M365 636h6M272 604h6M267 614h6M258 595h6M256 605h6M370 655h6M242 604h6M259 587h6M514 494h6M273 622h6M312 618h6M250 580h6M232 596h6M492 676h6M290 617h6M246 536h6M235 543h6M410 671h6M325 664h6M383 475h6M475 696h6M192 596h6M429 711h6M385 454h6M416 452h6M361 469h6M198 641h6M510 692h6M519 663h6M465 688h6M268 506h6M317 641h6M183 581h6M192 518h6M477 472h6M123 593h6M399 717h6M455 727h6M218 669h6M275 656h6M238 673h6M194 659h6M184 646h6M215 587h6M393 707h6M402 724h6M252 502h6M162 537h6M310 624h6M317 457h6M114 603h6M96 627h6M340 463h6M268 498h6M497 746h6M79 601h6M466 752h6M263 493h6M160 524h6M282 468h6M387 723h6M301 456h6M105 656h6M282 496h6M435 774h6M185 509h6M517 735h6M402 777h6M199 707h6M255 463h6M449 763h6M111 517h6M174 696h6M424 782h6M463 767h6M129 517h6M310 771h6M178 712h6M126 506h6M177 651h6M107 675h6M146 498h6M346 761h6M88 550h6M333 766h6M208 747h6M192 474h6M286 779h6M438 779h6M183 727h6M152 475h6M145 700h6M108 694h6M522 749h6M94 496h6M541 791h6M209 467h6M82 487h6M88 635h6M386 817h6M304 766h6M160 725h6M312 787h6M168 730h6M376 825h6M94 489h6M165 739h6M182 770h6M348 818h6M209 807h6M526 826h6M92 765h6M196 815h6M178 800h6M151 805h6M114 786h6M214 822h6M90 785h6M130 793h6M122 799h6M179 818h6M137 801h6M178 824h6" stroke="#2772ab" stroke-width="6" stroke-linecap="round" opacity="1"/>
<path d="M460 598h11M480 606h11M432 556h11M454 542h11M527 579h11M335 584h11M380 607h11M547 544h11M351 604h11M309 599h11M376 623h11M399 527h11M492 665h11M442 509h11M329 531h11M291 560h11M271 553h11M445 494h11M290 529h11M420 688h11M327 492h11M436 678h11M162 620h11M314 486h11M499 710h11M232 641h11M316 476h11M193 628h11M147 558h11M277 541h11M504 458h11M125 529h11M123 549h11M93 646h11M540 771h11M554 764h11M440 813h11M239 787h11M123 473h11M96 739h11M111 465h11M242 819h11M244 830h11M267 830h11" stroke="#2772ab" stroke-width="9" stroke-linecap="round" opacity="1"/>
<path d="M289 623h3M299 626h3M246 563h3M237 556h3M283 629h3M544 660h3M497 682h3M367 677h3M328 670h3M334 688h3M355 688h3M330 680h3M429 751h3M407 739h3M238 497h3M155 644h3M469 740h3M409 748h3M394 740h3M249 497h3M357 743h3M248 490h3M405 731h3M236 698h3M377 734h3M220 493h3M216 503h3M416 772h3M252 698h3M257 485h3M214 483h3M140 659h3M507 684h3M341 722h3M365 731h3M374 758h3M221 707h3M336 717h3M262 715h3M79 628h3M263 704h3M273 721h3M304 710h3M338 729h3M496 758h3M228 716h3M390 766h3M311 721h3M384 748h3M503 764h3M153 656h3M117 666h3M311 727h3M488 770h3M348 725h3M514 753h3M326 713h3M441 789h3M505 751h3M182 492h3M120 674h3M291 716h3M126 679h3M346 749h3M140 672h3M556 720h3M303 734h3M311 742h3M305 746h3M454 793h3M285 756h3M221 763h3M463 791h3M206 753h3M288 760h3M446 784h3M271 754h3M302 702h3M276 764h3M334 759h3M543 809h3M196 768h3M355 828h3M464 831h3M106 791h3M98 797h3M143 809h3M131 819h3M116 814h3M117 809h3M117 823h3M145 823h3M131 832h3" stroke="#26898f" stroke-width="4" stroke-linecap="round" opacity="1"/>
<path d="M295 580h6M324 577h6M337 571h6M439 617h6M535 535h6M348 641h6M530 658h6M408 646h6M539 648h6M524 670h6M360 652h6M559 503h6M552 513h6M342 630h6M420 475h6M279 610h6M289 503h6M310 634h6M384 658h6M236 611h6M243 549h6M258 548h6M413 466h6M411 656h6M220 603h6M204 605h6M204 616h6M211 597h6M468 675h6M355 462h6M242 529h6M402 662h6M518 684h6M554 686h6M254 522h6M436 460h6M253 612h6M536 686h6M293 638h6M160 600h6M540 696h6M227 524h6M158 574h6M547 473h6M200 540h6M193 550h6M209 576h6M364 700h6M519 677h6M189 654h6M369 691h6M522 712h6M177 598h6M496 701h6M316 679h6M284 649h6M459 470h6M138 593h6M372 471h6M171 550h6M438 472h6M197 587h6M152 591h6M207 662h6M265 684h6M530 719h6M323 466h6M288 691h6M176 527h6M292 476h6M253 681h6M496 739h6M106 623h6M367 709h6M112 577h6M229 693h6M380 715h6M193 666h6M190 674h6M434 764h6M96 580h6M413 779h6M538 748h6M89 605h6M216 699h6M238 688h6M423 796h6M251 733h6M147 511h6M475 771h6M242 466h6M224 469h6M104 546h6M223 727h6M143 682h6M354 776h6M150 491h6M76 676h6M170 708h6M96 680h6M82 683h6M498 772h6M173 723h6M95 558h6M270 772h6M98 504h6M100 529h6M111 505h6M491 782h6M513 778h6M452 799h6M107 490h6M530 800h6M288 767h6M132 726h6M157 702h6M157 734h6M267 803h6M523 810h6M543 819h6M220 814h6M161 455h6M76 768h6M133 746h6M226 806h6M504 833h6M182 780h6M104 778h6M188 794h6M164 805h6M177 809h6M169 831h6" stroke="#26898f" stroke-width="6" stroke-linecap="round" opacity="1"/>
<path d="M446 583h11M510 607h11M504 619h11M474 572h11M377 566h11M531 613h11M444 629h11M474 544h11M351 620h11M472 647h11M367 544h11M333 560h11M478 533h11M368 526h11M544 522h11M518 522h11M533 516h11M553 620h11M387 484h11M425 500h11M337 503h11M537 507h11M273 521h11M362 481h11M483 483h11M444 687h11M431 700h11M439 718h11M236 653h11M122 611h11M148 545h11M202 679h11M84 520h11M121 620h11M249 778h11M145 461h11M86 752h11M92 465h11M510 823h11M268 817h11M150 794h11" stroke="#26898f" stroke-width="9" stroke-linecap="round" opacity="1"/>
<path d="M232 567h3M338 660h3M365 662h3M226 550h3M355 671h3M483 689h3M356 676h3M373 459h3M240 505h3M347 678h3M466 734h3M341 702h3M401 759h3M455 747h3M281 708h3M237 510h3M245 482h3M352 709h3M253 475h3M87 612h3M138 648h3M255 707h3M265 479h3M227 483h3M247 703h3M296 696h3M351 715h3M179 660h3M349 721h3M329 721h3M315 692h3M317 706h3M80 576h3M271 709h3M327 726h3M275 716h3M351 729h3M205 480h3M151 668h3M195 493h3M318 712h3M322 739h3M137 664h3M130 672h3M218 487h3M155 675h3M217 477h3M281 726h3M458 786h3M372 723h3M297 725h3M292 735h3M248 748h3M285 743h3M257 751h3M315 750h3M253 766h3M261 761h3M253 758h3M264 757h3M297 762h3M290 751h3M167 815h3M110 796h3M205 769h3M98 804h3M100 811h3" stroke="#23aa64" stroke-width="4" stroke-linecap="round" opacity="1"/>
<path d="M265 573h6M278 577h6M363 645h6M350 648h6M443 663h6M452 670h6M413 679h6M531 679h6M338 647h6M322 656h6M333 641h6M225 580h6M224 573h6M212 581h6M205 591h6M381 703h6M251 635h6M208 556h6M220 531h6M303 643h6M198 580h6M180 588h6M193 534h6M534 467h6M178 628h6M195 574h6M285 489h6M170 582h6M184 543h6M171 593h6M454 752h6M255 673h6M248 691h6M554 460h6M82 582h6M261 692h6M116 638h6M303 689h6M113 650h6M93 568h6M242 717h6M253 724h6M102 598h6M425 789h6M373 765h6M156 681h6M288 481h6M89 659h6M358 766h6M376 771h6M107 663h6M232 734h6M223 462h6M369 777h6M86 544h6M218 455h6M200 462h6M90 672h6M228 742h6M138 691h6M153 708h6M324 790h6M133 699h6M193 713h6M304 782h6M136 491h6M92 698h6M370 816h6M337 778h6M439 800h6M409 828h6M466 797h6M195 748h6M80 506h6M178 738h6M178 761h6M108 497h6M395 825h6M215 781h6M286 799h6M83 475h6M206 795h6M190 804h6M460 774h6M224 829h6M315 821h6M217 790h6M333 830h6M153 829h6" stroke="#23aa64" stroke-width="6" stroke-linecap="round" opacity="1"/>
<path d="M326 609h11M399 502h11M401 689h11M289 512h11M261 537h11M380 693h11M478 709h11M140 615h11M284 666h11M141 567h11M124 563h11M369 793h11M172 685h11M555 784h11M394 798h11M498 789h11M392 809h11M259 787h11M112 743h11M141 782h11M164 775h11" stroke="#23aa64" stroke-width="9" stroke-linecap="round" opacity="1"/>
<path d="M319 696h3" stroke="#26c846" stroke-width="4" stroke-linecap="round" opacity="1"/>
<path d="M186 567h6M131 601h6" stroke="#26c846" stroke-width="6" stroke-linecap="round" opacity="1"/>
<use href="#ec" fill="none" stroke="#30e040" stroke-width="3" stroke-opacity="0.4" filter="url(#hbc)"/>
<use href="#ec" fill="none" stroke="#000" stroke-width="1.5" stroke-linejoin="round" filter="url(#wgc)"/>
<path d="M387 491h2v1h-2zM546 470h3v1h-3zM430 499h2v1h-2zM340 736h2v1h-2zM298 475h3v2h-3zM246 716h2v1h-2zM541 746h2v1h-2zM407 484h2v1h-2zM230 717h2v1h-2zM413 653h3v1h-3zM356 691h2v1h-2zM323 748h2v1h-2zM295 594h2v1h-2zM90 589h3v2h-3zM424 542h2v1h-2zM401 630h2v1h-2zM130 769h2v1h-2zM166 821h2v1h-2zM192 460h3v2h-3zM536 500h3v2h-3zM280 693h2v1h-2zM420 724h2v1h-2zM110 609h3v1h-3zM328 615h3v2h-3zM238 764h2v1h-2zM251 467h2v1h-2zM161 762h2v1h-2zM202 819h2v1h-2zM510 713h3v2h-3zM396 595h3v1h-3zM93 516h2v1h-2zM237 663h3v2h-3zM436 541h2v1h-2zM114 551h3v2h-3zM529 798h3v2h-3zM489 698h3v1h-3zM481 551h2v1h-2zM400 464h3v2h-3zM501 654h2v1h-2zM168 676h2v1h-2zM356 521h2v1h-2zM320 625h3v2h-3zM289 473h3v2h-3zM272 792h2v1h-2zM359 566h2v1h-2zM296 759h2v1h-2zM213 614h3v2h-3zM214 757h3v2h-3zM440 778h2v1h-2zM331 678h2v1h-2zM124 533h2v1h-2zM463 719h3v1h-3zM95 559h2v1h-2zM117 669h3v2h-3zM294 778h2v1h-2zM91 637h3v2h-3zM233 755h2v1h-2zM349 516h3v2h-3zM267 567h3v2h-3zM524 514h3v2h-3zM308 665h3v2h-3zM206 481h3v2h-3zM365 492h3v2h-3zM396 573h2v1h-2zM252 771h3v1h-3zM200 467h3v2h-3zM143 622h2v1h-2zM247 590h2v1h-2zM313 567h3v2h-3zM220 783h2v1h-2zM275 574h3v2h-3zM364 580h3v1h-3zM234 573h3v2h-3zM87 519h2v1h-2zM429 674h2v1h-2zM268 703h2v1h-2zM106 814h3v2h-3zM149 783h2v1h-2zM355 636h3v2h-3zM179 533h3v2h-3zM189 502h3v1h-3zM505 646h3v1h-3zM267 466h2v1h-2zM211 562h3v2h-3zM175 647h3v2h-3zM458 811h3v2h-3zM394 605h2v1h-2zM112 525h3v2h-3zM154 679h3v2h-3zM334 699h2v1h-2zM119 719h3v1h-3zM363 587h2v1h-2zM101 488h3v2h-3zM466 625h3v2h-3zM172 539h3v2h-3zM461 754h3v2h-3zM209 807h2v1h-2zM243 773h3v2h-3zM532 794h2v1h-2zM370 518h3v2h-3zM192 636h3v2h-3zM318 769h3v2h-3zM466 722h2v1h-2zM547 472h3v2h-3zM293 485h2v1h-2zM454 708h3v2h-3zM203 646h3v2h-3zM267 811h3v2h-3zM358 594h3v2h-3zM234 687h2v1h-2zM294 661h3v2h-3zM510 799h3v2h-3zM351 662h3v2h-3zM88 679h3v2h-3zM316 770h2v1h-2zM179 621h3v1h-3zM480 484h3v2h-3zM332 602h3v2h-3zM531 572h2v1h-2zM285 725h3v2h-3zM209 596h2v1h-2zM101 527h2v1h-2zM271 740h3v2h-3zM231 681h3v2h-3zM405 518h3v2h-3zM494 600h3v2h-3zM220 687h3v2h-3zM538 760h2v1h-2zM341 462h3v2h-3zM400 484h2v1h-2zM234 677h3v2h-3zM212 604h3v2h-3zM171 788h2v1h-2zM339 594h3v2h-3zM308 664h3v2h-3zM114 479h3v2h-3zM545 540h3v2h-3zM101 748h2v1h-2zM356 745h3v2h-3zM371 801h3v2h-3zM238 757h2v1h-2zM104 775h2v1h-2zM193 716h3v2h-3zM293 578h3v1h-3zM228 737h2v1h-2zM279 571h2v1h-2zM507 772h2v1h-2zM301 662h2v1h-2zM457 619h3v1h-3zM240 520h2v1h-2zM509 585h2v1h-2zM201 676h2v1h-2zM237 472h2v1h-2zM105 818h2v1h-2zM516 578h3v2h-3zM142 737h2v1h-2zM367 687h3v2h-3zM449 788h2v1h-2zM408 696h2v1h-2zM257 737h3v1h-3zM528 561h3v2h-3zM369 601h2v1h-2zM260 615h2v1h-2zM241 793h2v1h-2zM120 496h2v1h-2zM94 472h2v1h-2zM543 501h3v1h-3zM303 546h2v1h-2zM287 611h3v2h-3zM465 821h3v1h-3zM267 778h3v1h-3zM497 666h2v1h-2zM184 703h3v2h-3zM134 570h3v2h-3zM331 641h3v2h-3zM430 506h3v2h-3zM258 612h2v1h-2zM109 782h3v2h-3zM165 776h3v2h-3zM424 777h3v2h-3zM283 795h2v1h-2zM320 799h2v1h-2zM412 661h2v1h-2zM260 639h2v1h-2zM286 532h3v2h-3zM396 823h3v1h-3zM461 677h2v1h-2zM379 776h3v2h-3zM268 571h3v2h-3zM399 650h2v1h-2zM205 539h2v1h-2zM112 642h3v1h-3zM226 816h3v2h-3zM445 609h3v2h-3zM252 630h3v2h-3zM228 501h3v2h-3zM299 620h2v1h-2zM502 789h3v2h-3zM438 513h2v1h-2zM272 621h3v2h-3z" fill="#000" opacity="0.8"/>
<path d="M176 627h4v3h-4zM260 477h6v5h-6zM287 696h3v2h-3zM369 528h7v6h-7zM453 511h3v2h-3zM463 601h3v2h-3zM401 773h4v3h-4zM228 538h4v3h-4zM497 539h6v4h-6zM101 654h5v4h-5zM318 721h7v5h-7zM319 768h3v2h-3zM365 802h6v5h-6zM240 474h5v4h-5zM146 634h7v5h-7zM410 664h4v2h-4zM122 663h5v4h-5zM400 798h5v4h-5zM471 608h6v4h-6zM100 551h7v6h-7zM342 469h4v3h-4zM478 819h6v4h-6zM417 629h3v2h-3zM415 667h3v2h-3zM435 537h4v3h-4zM313 647h6v3h-6zM161 547h7v5h-7zM200 706h6v3h-6zM509 739h6v5h-6zM412 480h3v2h-3zM514 530h4v3h-4zM495 786h5v4h-5zM497 675h3v2h-3zM350 730h5v3h-5zM179 656h3v2h-3z" fill="#1020e0" opacity="0.85" filter="url(#hbc)"/>
<path d="M137 585h3v2h-3zM255 534h3v2h-3zM296 465h2v1h-2zM425 476h3v2h-3zM302 665h3v2h-3zM403 595h3v2h-3zM445 521h3v1h-3zM166 652h2v1h-2zM466 504h3v2h-3zM106 579h3v2h-3zM532 709h2v1h-2zM230 621h3v2h-3zM273 792h2v1h-2zM175 627h3v2h-3zM401 517h2v1h-2zM426 706h3v2h-3zM552 677h3v1h-3zM104 593h2v1h-2zM394 536h3v1h-3zM311 755h3v2h-3zM183 655h2v1h-2zM125 745h2v1h-2zM341 719h3v2h-3zM356 660h2v1h-2zM427 797h2v1h-2zM435 572h3v2h-3zM390 776h3v2h-3zM128 553h2v1h-2zM163 565h2v1h-2zM522 693h3v2h-3z" fill="#e0c040" opacity="0.8"/>
<path d="M379 603h3v2h-3zM445 608h3v2h-3zM290 732h3v2h-3zM484 750h2v1h-2zM430 539h2v1h-2zM501 462h3v1h-3zM188 797h2v1h-2zM152 528h2v1h-2zM425 714h2v1h-2zM527 654h2v1h-2z" fill="#d05030" opacity="0.8"/>
</g>
<defs><clipPath id="clipd"><rect x="1034" y="456" width="465.8" height="358.5"/></clipPath><path id="ed" d="M1031 455l3 4-3 9M1068 453l4 1 10 10-25 4-23-9M1446 478l12-25M1440 480l6-2 17 6 40 0M1440 480l-25-19-4-8M1503 456l-33-3M1435 486l-56-12-22-17-2-4M1440 480l-5 6 1 8-1 3-6 16 8 18-23 5-16-11-23 13 13 7 13 6 16-12-3-3M1415 461l-21-8M1031 803l3 0-3-7M1062 478l-5-10M1062 478l-1 3-22-2-8-5M1072 454l0-1M1031 781l33 3-31-41-2 0M1031 658l25 10 31-3-17-21-39 2M1034 803l15 7 8 3 19-9-7-16-5-4M1049 810l-4 8M1318 453l1 7 3 0 35-3M1463 484l28 17 12 3M1031 605l9 3 2 12-11 2M1070 644l2-7-30-17M1452 784l-20 1 23 19 7 1 2-12-12-9 7-8 20 9 9 6-2 6 7 19-31-11M1486 797l-22-4M1454 818l-7-5 8-9M1495 818l-2-2M1447 813l-5-2-38-27-1-4 5-4 24 9M1488 791l15 4M1431 818l11-7M1057 813l6 5M1182 453l-10 3-5-3M1367 533l-13-15-17-10-21 10 4 8 23 11 24-4 8 5M1393 518l5 7M1393 518l-12-6-27 6M1429 513l-36 5M1386 563l2-18M1350 563l36 0 11 6 13 18-7 8-23-7-30-25-4-1-3-25M1453 538l34 4-25-32-26-16M1437 531l16 7-2 8-14 8-20-15M1319 460l-18-7M1459 776l-14-14-6-3-28-2-4 0 1 19M1040 608l10-16-3-6-16-8M1180 538l25 20-2 3-36-3-16-18 11-9 18 7 7-11-24-12-9 1 8 15M1031 717l2-1 38 14 2 4-4 17-36-8M1031 712l2 2 0 2M1114 774l-20 3-18-22 20-1 19 7-1 13 13 7 7 14-2-2 16 13 3 4-21 4-6-1-13-21 21 1M1069 788l23-6 2-5M1069 751l7 4M1051 689l6 18 21 6 18-3-16-18-10 0-19-3-20-5M1033 714l24-7M1056 668l14 24M1079 723l-8 7M1079 723l-1-10M1087 665l7 3 10 18-24 6M1088 634l44 30-3 5-35-1M1072 637l16-3 12-10 32 19 0 21 37 8 29 26 25-6-8-22-2 0-26-8-16 5-2 5M1403 804l9 8-18 6M1403 804l-24-4 2 14 11 4M1404 784l-1 20M1421 818l-9-6M1370 818l-1-4 12 0M1151 540l-29-11 4-17 26 5 2-1M1121 509l9-13 17 6 5 15M1126 512l-5-3-9-6-15-14-2-6-9 4-1 6 10 11 17-1M1123 490l7 6M1123 490l-26-1M1061 481l5 10 19 2M1062 478l24 9M1082 464l5 5 8 14M1092 501l-19 5-8-9 1-6M1092 501l3 3M1031 496l15 6 11-4-18-19M1057 498l8-1M1076 804l29 13 0 1M1336 818l1-3 11 1 1 2M1369 814l-7 0-14 2M1337 508l-3-4-27-21-25-1-3 9 14 18 23 9M1379 498l-13-13-26-7 12 20 25 5 2-5 56-1M1379 474l-13 11M1381 512l-4-9M1334 504l18-6M1324 467l-17 16M1324 467l16 11M1324 467l-2-7M1491 501l12 13M1462 510l41 12M1488 543l-5 21 10 8 10 0M1488 543l15 9M1470 562l-19-16M1487 542l3 2-2-1M1470 562l13 2M1445 608l-8 12-17-5-17-20M1445 608l-20-19-15-2M1445 608l19 2 0-15-7-6-14-5-18 5M1293 509l-12 8 7 12 15 8 17-11M1271 453l3 17-36-16 0-1M1282 482l-5-3-3-9M1500 736l3 3M1500 736l-27 9 10 18 8 6 12 2M1479 785l12-16M1445 762l38 1M1439 759l0-17 27-1 7 4M1050 592l48 22 2 10M1031 545l22 7 17 20-23 14M1105 714l10 3 19-5-4-9-26-17M1105 714l-9-4M1129 669l15 28-14 6M1351 679l3 21-24-4-16-17 25-6 12 6 17 3 17 11-3 10-19 2-9-5M1073 734l21 7 5-10-20-8M1105 714l-1 17-5 0M1129 734l-12 4-13-7M1129 734l-14-17M1096 754l1-11-3-2M1213 814l2 4M1213 814l-13-5-3-2-10 11M1160 818l-9-8M1135 818l-5-4M1178 818l-12-16-18 4M1105 817l19-4M1092 782l19 10M1172 456l4 9-30-3 0-1-3-8M1112 453l4 3 30 5M1085 522l-21 0-6 7 5 12 46 14-2-26-22-7-12-16M1046 502l18 20M1092 501l15 28 15 0M1158 572l-25 2-24-19M1158 572l9-14M1123 586l-53-14M1123 586l10-12M1053 552l10-11M1031 518l27 11M1380 588l-9 19 5 5 7 1 37 2M1376 612l-11 17 18 12 25-2-25-26M1235 548l12 12-9 5-34-7 8-8 23-2 1-3 2-3 9 4 16 8 1 7-4 2-13-3M1334 616l20 10 11 3M1334 616l-3-21 4 0 36 12M1318 817l-2-1-14-3-1 5M1318 817l0 1M1318 817l2 1M1247 809l22 5 3-2 4-10-13-13-21 1-4 14 0 2 9 3 3 9M1272 818l-3-4M1213 814l25-8M1286 818l-14-6M1302 813l-11-8-15-3M1316 816l-1-11 13 1 9 9M1291 805l11-6 13 6M1198 467l-20 0 4 11 27 3 0-2-11-12 5-7 12 5 14-2 0-6-8-4M1408 639l20 10 11-25-2-4M1464 595l24 5 15 7M1464 610l15 5 24 2M1419 568l21 10 5-15-8-6-17 0-1 11-22 1M1443 584l-3-6M1401 551l19 6M1457 589l12-11-12-10-12-5M1437 554l0 3M1470 562l-13 6M1475 579l14 10 14 1M1475 579l18-7 10 15M1488 600l1-11M1469 578l6 1M1261 512l-4 6 10 12 21-1M1261 512l20 5M1471 689l6 9 26 7M1483 667l-3 2-9 20-40-12-6-12 10-11-7-5M1503 680l-20-13 6-8-13-22 8-2 19 3M1500 736l3-1M1411 757l-9-26 22 1 15 10M1177 621l-18 11-17-3-24-19 9-16 50 27 7 0 16-2-5-24-37-23M1123 586l4 8M1098 614l20-4M1141 642l-9 1M1141 642l1-13M1134 712l18 14 25-2-12-20-21-7M1352 738l-41 9-12-8-1-3 8-17 43 12 4 1 0-1-1 7 10 29-37-9-14-11M1299 739l-17 8-34-17-4-8 20-6 34 20M1115 761l8 1 16 11-3 5-9 3M1199 795l-17-10-4-3 17-3 9 4 9 10-14 2 1 14M1238 804l-25-11M1218 773l24 17M1215 774l3-1 5-10 21 5 18 20 1 1M1215 774l-11 9M1178 786l-2 14-9-1-11-8-3-3 5-5 20 3 4-1M1197 807l-21-7M1134 795l22-4M1166 802l1-3M1136 778l17 10M1147 502l2-4 18 3 1 10-5 4M1087 469l22 1 9-5-2-9M1123 490l1-4-15-16M1291 653l-3-3-11-13 17-10 16 10 5 19-24-3 7 21-32-8-16-15-5-3-13-15 20-8 25 12M1250 651l38-1M1200 619l32 14M1195 595l23 0 35 28-1 2M1203 561l18 23 1 11-4 0M1317 622l6 14-13 1M1317 622l-18-12-12 7 7 10M1253 623l14-12 20 6M1222 595l38 7 7 9M1331 587l-39-17-1-11 24-6 23 9-7 25 4 8M1346 562l-8 0M1307 548l-4-11M1307 548l8 5M1264 561l23 10 5-1M1263 554l14-4 14 9M1379 800l-20-12 14-15 30 7M1407 757l-54-26M1373 773l-11-6M1262 788l27-2 7 1 6 12M1325 758l-5 14-36-14-2-11M1254 492l-16-5-9 10 1 1 27 8-3-14 25-1M1246 472l-14 9 6 6M1277 479l-31-7-17-9M1261 512l-4-6M1228 479l4 2M1209 479l19 0-13-14M1214 490l-5-9M1214 490l15 7M1204 453l-3 6 2 1M1238 454l-9 3M1186 453l15 6M1176 465l2 2M1489 659l14 2M1439 624l37 13M1435 654l45 15M1479 615l5 20M1402 731l-2-3-32-8-15 12M1349 731l-26-29 7-6M1363 705l5 15M1466 741l-22-19-16 4-4 6M1248 730l-8 12 20 15 15 7 9-6M1289 786l-14-22M1260 757l-16 11M1152 726l1 6-12 5-12-3M1181 772l3-11 3-1 1 1 27 13M1195 779l-14-7-11-1 1 4-18-1-4-1-2-11 3-2 7 1 13 10M1164 759l20 2M1159 748l9-3 19 15M1164 759l-5-11-14-4-4-7M1153 732l15 8 0 5M1184 621l16 24 15 7 15 0 15-4M1159 632l11 10 15 8 15-5M1141 642l15 7 14-7M1165 704l33-6 0 2 9 33-15-2-7 12 11 7 25 6-1-16-13-7M1185 650l2 12M1156 649l15 18M1215 652l-2 18M1241 673l-11-21M1241 673l-26-3M1117 738l5 8 18 5 5-7M1123 762l1-5-5-7-22-7M1119 750l3-4M1158 783l-5-9M1139 773l10 0M1178 782l-7-7M1124 757l23 5M1164 759l-7 2M1140 751l10 9M1192 518l-4 12 18 5 7-3-2-6-2-4-17-4-2-4-22-3M1187 527l1 3M1236 545l-23-13M1212 550l-6-15M1205 558l-1 0M1167 501l3-2 14 8 6 7M1182 479l-17-3-4 12 5 4 12 1 7-9-3-5 0-1M1151 468l-5-6M1151 468l14 8M1214 490l-12 3-17-9M1144 477l-8 1 1 9 8 7 14-6-15-11 7-9M1118 465l18 13M1161 488l-2 0M1124 486l13 1M1149 498l-4-4M1170 499l-4-7M1331 595l-27 0-21-14 4-10M1334 616l-17 6M1299 610l-4-8 9-7M1250 535l17-3 6 7-1 9-16-5-6-8-11-8 13-8-24-12-5-2 2 7 5 14 3 2 6-1M1247 546l9-3M1277 550l-5-2M1307 548l-34-9M1267 530l0 2M1315 786l5-12 37 15-9 11-16-4-17-10-19 1M1320 772l0 2M1328 806l4-10M1359 788l-2 1M1362 814l-14-14M1490 544l13-3M1500 736l-30-19-26 3 0 2M1477 698l-10 14 3 5M1400 728l-2-14 13-2 17 14M1382 703l16 11M1384 654l-39-13-3 0 3 16 33 11 5-2 2-9-1-3-1-13M1354 626l-9 15M1425 665l-40-8M1333 663l-18-7M1333 663l12-6M1323 636l19 5M1333 663l6 10M1368 682l10-14M1168 740l17 3M1188 761l8-11M1223 763l-2-7M1177 724l15 7M1240 742l-20-2M1198 700l46 22M1211 526l19 0M1209 522l-2-11 18 1M1257 518l-5 1M1230 498l-2 9M1202 493l0 5 21 7M1238 542l-5-14M1201 507l-2-8-13-2 2 8 13 2 6 4M1202 498l-3 1M1184 507l4-2M1178 493l8 4M1266 576l-17 1-3 4 20 12 5 2 4-13-9-6-6-13M1238 565l11 12M1283 581l-8 1M1295 602l-24-7M1260 602l6-9M1221 584l25-3M1444 720l-10-10-23 3 0-1M1385 693l15 1 11 19M1249 682l17 6 4 15 0 3-6 0-23-12 8-12-6-9-2 0M1223 692l18 2M1264 716l0-10M1306 719l-2-1-34-12M1243 673l23-2 0-5M1314 679l-13-5-3 0M1437 699l-6 3-29-8-1-16 26 3 10 18 30 13M1434 710l-3-8M1431 677l-4 4M1400 694l2 0M1383 666l18 12M1301 674l-5 12 18 14 9 2M1304 718l-2-13-14-7-18 5M1314 700l-12 5M1266 688l3-12 20 9-3 8-20-5M1266 671l3 5M1288 698l-2-5M1296 686l-7-1"/><filter id="cold" x="0" y="0" width="1" height="1" color-interpolation-filters="sRGB"><feTurbulence type="fractalNoise" baseFrequency="0.012 0.035" numOctaves="4" seed="9"/><feColorMatrix type="matrix" values="2.3 0 0 0 -0.85 2.3 0 0 0 -0.85 2.3 0 0 0 -0.85 0 0 0 0 1"/><feComponentTransfer><feFuncR type="table" tableValues="0.098 0.1 0.103 0.105 0.108 0.11 0.113 0.115 0.118 0.12 0.123 0.125 0.127 0.13 0.132 0.135 0.137 0.14 0.143 0.146 0.15 0.153 0.156 0.159 0.162 0.165 0.168 0.171 0.174 0.176 0.176 0.176 0.176 0.176 0.176 0.176 0.176 0.176 0.176 0.176 0.176 0.176 0.176 0.176 0.176 0.176 0.176 0.176 0.176 0.191 0.205 0.219 0.234 0.248 0.262 0.277 0.291 0.305 0.326 0.357 0.387 0.418 0.449 0.479 0.51"/><feFuncG type="table" tableValues="0.216 0.225 0.235 0.245 0.255 0.265 0.275 0.284 0.294 0.304 0.314 0.324 0.333 0.343 0.353 0.363 0.373 0.383 0.394 0.405 0.415 0.426 0.437 0.448 0.458 0.469 0.48 0.491 0.501 0.514 0.534 0.555 0.575 0.596 0.616 0.636 0.657 0.677 0.698 0.717 0.735 0.754 0.772 0.79 0.809 0.827 0.846 0.864 0.882 0.888 0.895 0.901 0.907 0.913 0.919 0.925 0.931 0.938 0.941 0.941 0.941 0.941 0.941 0.941 0.941"/><feFuncB type="table" tableValues="0.863 0.858 0.853 0.848 0.843 0.838 0.833 0.828 0.824 0.819 0.814 0.809 0.804 0.799 0.794 0.789 0.784 0.774 0.763 0.752 0.741 0.731 0.72 0.709 0.699 0.688 0.677 0.666 0.656 0.642 0.615 0.589 0.562 0.536 0.509 0.482 0.456 0.429 0.403 0.381 0.363 0.344 0.326 0.308 0.289 0.271 0.252 0.234 0.216 0.21 0.203 0.197 0.191 0.185 0.179 0.173 0.167 0.161 0.157 0.157 0.157 0.157 0.157 0.157 0.157"/></feComponentTransfer></filter><filter id="hbd" x="-5%" y="-5%" width="110%" height="110%"><feGaussianBlur stdDeviation="2.2"/></filter><filter id="wgd" x="-2%" y="-2%" width="104%" height="104%"><feTurbulence type="turbulence" baseFrequency="0.08" numOctaves="2" seed="16" result="t"/><feDisplacementMap in="SourceGraphic" in2="t" scale="2.5" xChannelSelector="R" yChannelSelector="G"/><feGaussianBlur stdDeviation="0.4"/></filter></defs>
<g clip-path="url(#clipd)">
<g transform="rotate(35 1266.9 635.2)"><rect x="973.0" y="341.4" width="587.8" height="587.8" filter="url(#cold)"/></g>
<use href="#ed" fill="none" stroke="#30e040" stroke-width="7" stroke-opacity="0.65" filter="url(#hbd)"/>
<use href="#ed" fill="none" stroke="#000" stroke-width="2.0" stroke-linejoin="round" filter="url(#wgd)"/>
</g>
<text x="103.5" y="113.5" font-family="'Liberation Serif','Times New Roman',serif" font-weight="bold" font-size="43.5" fill="#ff0000">(a)</text>
<text x="1042.5" y="117" font-family="'Liberation Serif','Times New Roman',serif" font-weight="bold" font-size="43.5" fill="#ff0000">(b)</text>
<text x="104.5" y="496" font-family="'Liberation Serif','Times New Roman',serif" font-weight="bold" font-size="43.5" fill="#ff0000">(c)</text>
<text x="1047.5" y="492.5" font-family="'Liberation Serif','Times New Roman',serif" font-weight="bold" font-size="43.5" fill="#ff0000">(d)</text>
<rect x="474" y="409" width="76" height="8" fill="#ff0000"/>
<text x="478" y="397" font-family="'Liberation Serif','Times New Roman',serif" font-weight="bold" font-size="33" fill="#ff0000">2 µm</text>
<rect x="1409" y="420" width="75.2" height="9" fill="#ff0000"/>
<text x="1414" y="410" font-family="'Liberation Serif','Times New Roman',serif" font-weight="bold" font-size="33" fill="#ff0000">2 µm</text>
<rect x="470.4" y="800.8" width="76" height="7.9" fill="#ff0000"/>
<text x="474.8" y="791.2" font-family="'Liberation Serif','Times New Roman',serif" font-weight="bold" font-size="33" fill="#ff0000">2 µm</text>
<rect x="1407" y="799.7" width="77" height="7.3" fill="#ff0000"/>
<text x="1413" y="787" font-family="'Liberation Serif','Times New Roman',serif" font-weight="bold" font-size="33" fill="#ff0000">2 µm</text>
<path d="M1045.7 792.7V729.7h-7L1049.3 708.5 1060.7 729.7h-7.9V785h55.4v-6.5l21.7 10.7-21.7 10.7v-7.2z" fill="#ff0000"/>
<text x="1064.2" y="728.5" font-family="'Liberation Serif','Times New Roman',serif" font-weight="bold" font-size="23" fill="#ff0000">ND</text>
<text x="1105.6" y="776.3" font-family="'Liberation Serif','Times New Roman',serif" font-weight="bold" font-size="23" fill="#ff0000">RD</text>
<text x="473.2" y="45.6" font-family="'Liberation Serif','Times New Roman',serif" font-weight="bold" font-size="50" fill="#c00000">ASR</text>
<text x="1415.5" y="40.5" font-family="'Liberation Serif','Times New Roman',serif" font-weight="bold" font-size="50" fill="#c00000">SR</text>
<text transform="translate(40.3 265.7) rotate(-90)" text-anchor="middle" font-family="'Liberation Serif','Times New Roman',serif" font-weight="bold" font-size="50" fill="#1000c0">Edge</text>
<text transform="translate(43.4 643) rotate(-90)" text-anchor="middle" font-family="'Liberation Serif','Times New Roman',serif" font-weight="bold" font-size="51" fill="#1000c0">Center</text>
<defs><linearGradient id="cb" x1="0" x2="1" y1="0" y2="0"><stop offset="0" stop-color="#0000ff"/><stop offset="0.05" stop-color="#0010f0"/><stop offset="0.2" stop-color="#00606a"/><stop offset="0.34" stop-color="#00ee10"/><stop offset="0.45" stop-color="#40ff00"/><stop offset="0.67" stop-color="#ffff00"/><stop offset="0.8" stop-color="#ff9000"/><stop offset="0.95" stop-color="#ff1000"/><stop offset="1" stop-color="#ff0000"/></linearGradient></defs>
<rect x="1050.6" y="870" width="333.3" height="11" fill="url(#cb)"/>
<g font-family="'Liberation Serif','Times New Roman',serif" font-size="19" fill="#333"><text x="1405" y="863.5">Min</text><text x="1465.6" y="863.5">Max</text><text x="1411.4" y="900.9">0<tspan font-size="11" dy="-6">o</tspan></text><text x="1465.6" y="900.9">5.05<tspan font-size="11" dy="-6">o</tspan></text></g></svg>
</body></html>
